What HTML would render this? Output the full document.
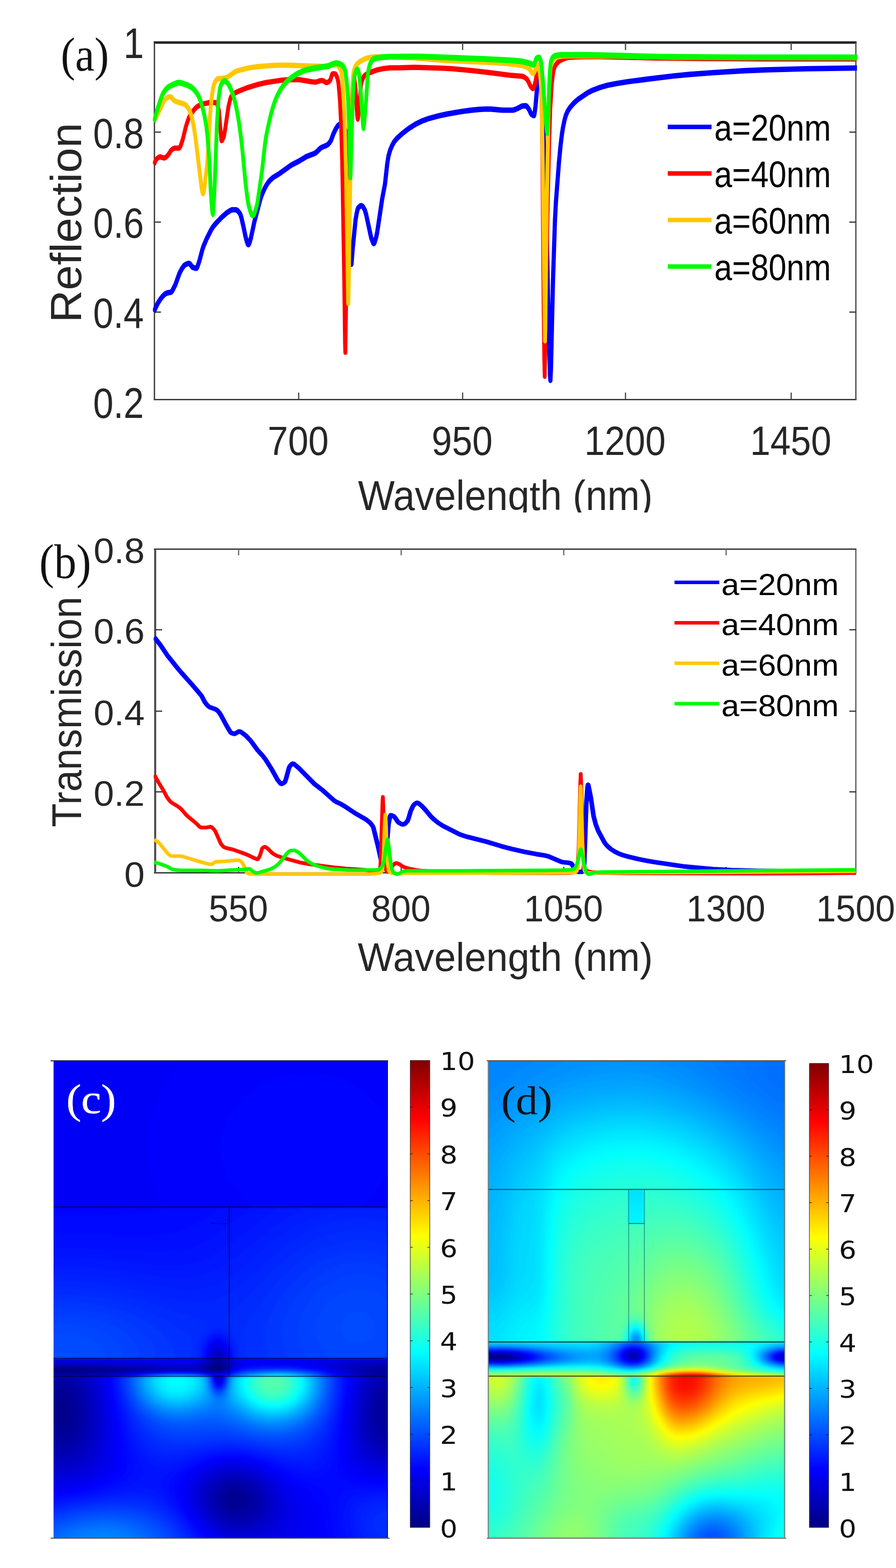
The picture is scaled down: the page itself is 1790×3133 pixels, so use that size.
<!DOCTYPE html>
<html lang="en"><head><meta charset="utf-8"><title>Figure</title>
<style>
html,body{margin:0;padding:0;background:#fff;}
body{width:1790px;height:3133px;overflow:hidden;position:relative;}
svg{position:absolute;left:0;top:0;display:block;}
text{font-kerning:normal;}
</style></head><body>
<svg width="1790" height="3133" viewBox="0 0 1790 3133">
<defs><filter id="hb" x="-5%" y="-5%" width="110%" height="110%" color-interpolation-filters="sRGB"><feGaussianBlur stdDeviation="2"/></filter></defs>
<rect x="0" y="0" width="1790" height="3133" fill="#ffffff"/>
<clipPath id="hcc"><rect x="107.0" y="2119.5" width="668.0" height="954.0"/></clipPath><g clip-path="url(#hcc)"><g filter="url(#hb)" fill-rule="evenodd"><rect x="99.0" y="2111.5" width="684.0" height="970.0" fill="#000082"/><path fill="#000087" d="M99 2112h684v970h-684v-341l66-1l23-2l-22-2l-67-1v-623zM429 2729l-8 5l-1 2l4 2h5h8l5-2l1-2l-1-2l-3-3l-4-1l-6 1z"/><path fill="#00008c" d="M99 2112h684v970h-684v-340l68-1l27-1l14-2l-15-2l-16-1l-78-1v-622zM431 2727l-9 5l-3 2l-1 2l3 2l8 1h6l6-2l3-1l1-2l-1-2l-1-3l-2-1l-4-2l-6 1z"/><path fill="#000091" d="M99 2112h684v970h-684v-339l77-1l35-2l14-2l-11-2l-31-2l-84-1v-621zM431 2725l-12 7l-2 2l-1 2l2 2l10 2h7l8-2l2-3l1-1l-1-5l-2-2l-2-2l-4-1l-6 1zM113 2799l-4 3l-5 6l-2 8v8l1 8l4 6l6 4l6 1l6-2l5-5l3-8v-10l-2-10l-5-6l-3-3l-4-1l-6 1z"/><path fill="#000096" d="M99 2112h684v970h-684v-235l6 6l8 4l8 1l6-2l6-5l6-9l4-10v-10l-1-10l-3-11l-6-9l-6-6l-6-2h-8l-4 1l-4 3l-6 6v-51h46l46-1l35-2l13-3l-7-1l-40-2l-93-2v-620zM435 2721l-4 2l-14 9l-3 2l-1 2l3 2l8 2h5h10l6-2l2-2l1-2v-2l-1-3l-2-3l-4-4l-2-1h-4zM467 2985l-5 3l-3 4l-1 4l1 6l4 4l6 3h6l6-2l4-3l1-4v-4l-2-4l-3-4l-4-2l-4-1h-6z"/><path fill="#00009c" d="M99 2112h684v689l-3-1l-3-1l-4 2l-2 2l-4 9l-2 6v6v6l2 6l4 6l2 2l4 1h2l4-1v238h-684v-222l8 6l8 2h6l4-1l8-4l4-3l4-4l5-10l4-12l1-12l-2-14l-4-12l-6-10l-6-7l-8-5l-4-1h-6l-8 2l-8 5v-36h48l44-2l47-2l14-2l-4-2l-33-2l-60-2h-56v-620zM433 2719l-11 9l-10 6l-1 2l3 2l5 1l10 2l10-1l7-2l2-2l2-4l-3-7l-3-3l-3-3l-4-1l-4 1zM467 2977l-6 2l-4 2l-3 3l-3 3l-2 5v4v4l2 4l2 4l4 3l8 5l6 1h4l8-1l7-4l4-6l1-6v-4l-1-4l-4-6l-7-6l-8-2l-8-1z"/><path fill="#0000a1" d="M99 2112h684v623h-20l-9 3l-2 2l2 2l7 2l12 1h10v39h-6l-4 1l-4 3l-4 4l-4 8l-2 6l-2 9l-1 9l1 8l1 8l3 6l3 6l4 4l5 2l4 1l6-1v224h-684v-211l10 5l10 1l10-2l9-5l8-8l5-10l4-14l1-14v-12l-3-13l-4-11l-6-10l-4-4l-6-5l-4-2l-6-3h-6h-6l-6 2l-6 4v-25h48l44-2l32-1l25-2l16-2v-2l-29-2l-68-3h-68v-619zM437 2715l-6 2l-8 9l-13 8l-1 2l2 2l7 2l11 1h10l4-1l5-2l2-2l1-4l-2-7l-2-4l-4-3l-2-2l-4-1zM461 2973l-6 2l-4 3l-4 4l-3 6l-1 4l-1 6l2 6l3 5l4 5l5 4l5 2l6 2l6 1h6l6-2l6-2l4-3l3-4l4-8v-4l-1-6l-3-8l-7-7l-5-3l-5-2l-10-2l-10 1z"/><path fill="#0000a6" d="M99 2112h684v620h-16l-14 2l-8 2l-4 2l-1 2l2 2l5 2l8 2l14 1l14 1v24h-6l-6 2l-6 4l-4 6l-4 8l-4 11l-2 11l-1 12l1 10l2 9l3 9l4 6l5 4l6 4l6 1l6-1v214h-684v-202l10 4l6 1h6l6-1l6-2l10-6l8-10l6-12l3-14l2-16l-2-16l-3-14l-5-12l-7-12l-4-4l-6-5l-6-3l-6-2l-6-1l-6 1l-6 1l-6 3v-14l56-1l50-2l53-3l18-2l2-2l-24-2l-51-2l-104-2v-618zM431 2715l-1 1l-3 2l-7 8l-12 8l-2 2l3 2l7 2l14 2l11-1l8-3l3-4v-4l-2-6l-3-6l-3-2l-13-1zM467 2967l-8 2l-6 2l-6 4l-5 5l-3 6l-2 6v6l1 6l3 6l5 6l7 5l6 4l8 2l8 1h8l6-2l5-2l5-4l6-8l2-6l1-4l-1-6l-1-6l-3-6l-4-4l-8-7l-6-3l-6-2l-12-1z"/><path fill="#0000ab" d="M99 2112h684v618h-18l-16 2l-10 2l-5 2l-3 2v2l2 2l4 2l8 2l18 3l20 1v11h-8l-8 4l-6 6l-6 10l-4 9l-3 12l-2 12l-1 12l1 12l2 10l4 10l4 8l6 6l7 3l6 2l8-1v206h-684v-194l6 2l6 2l8 1l6-1l6-2l6-2l10-8l8-10l6-12l4-16l2-18l-2-18l-4-16l-6-15l-8-12l-6-6l-8-5l-22-1l-12 1v-6h56l52-2l60-4l20-2l6-2l-21-2l-53-3l-62-1h-58v-618zM427 2715l-8 11l-6 3l-8 5l-2 2l3 2l8 2l11 1l8 1h6l6-2l5-2l2-2l2-4v-4l-3-8l-3-4l-11-1h-10zM465 2963l-8 2l-8 3l-6 4l-5 6l-4 6l-2 8v8l2 6l5 8l5 6l7 5l8 4l8 3l10 1l8-1l8-2l6-4l5-4l4-4l3-6l2-6v-6l-1-6l-2-6l-3-6l-3-4l-5-5l-6-4l-6-2l-8-3l-6-1h-8z"/><path fill="#0000b0" d="M99 2112h684v617h-22l-20 2l-13 3l-4 2l-1 2l1 2l2 2l7 3l8 2l12 3l24 2l-8 2l-6 4l-6 7l-6 11l-4 12l-4 14l-2 14v14l1 12l2 12l4 10l5 7l6 6l8 5l8 2l8-1v199h-684v-186l12 3l8 1l6-1l12-4l6-3l6-5l5-5l4-6l7-14l4-16l2-20l-1-20l-5-20l-7-16l-5-8l-4-6l-4-4l-20-1h-26v-4h56l48-2l72-5l23-2l10-2l-18-2l-61-3l-72-2h-58v-617zM425 2715l-1 1l-7 10l-6 3l-9 5l-2 2l4 2l7 2l12 2h10h6l6-1l6-3l3-2l1-4v-4l-2-8l-3-4l-13-1h-12zM457 2961l-8 3l-8 4l-6 6l-5 8l-2 8v8l2 8l4 8l6 8l7 5l8 5l10 4l10 1h8l10-3l8-4l6-4l4-4l4-7l2-7l1-6l-1-8l-2-6l-3-6l-5-6l-4-5l-6-4l-8-4l-8-2l-8-1h-8l-8 1zM782 2752h1h-1z"/><path fill="#0000b5" d="M99 2112h684v615h-26l-22 3l-10 2l-6 2l-2 2l-1 2l1 2l3 2l13 5l9 3l18 2l-5 6l-6 10l-4 10l-3 10l-3 12l-2 12v12v12l1 12l3 12l5 10l5 7l6 6l8 5l8 2h10v192h-684v-179l6 2l8 1h8h6l8-3l6-2l6-4l6-5l5-6l5-7l7-15l4-18l1-20l-1-22l-5-20l-7-18l-9-14l-18-2h-36v-2h46l48-2l117-8l15-2l-16-2l-68-3l-78-2l-64-1v-616zM423 2715l-1 1l-5 8l-5 4l-13 6l-3 2l4 2l19 3l16 2l8-1l6-2l4-2l3-4l1-4l-1-4l-1-6l-2-4l-16-1h-14zM457 2957l-10 4l-9 5l-6 6l-6 8l-2 8l-1 8l2 9l4 9l6 8l8 7l10 6l10 4l10 2h10l10-2l10-4l7-5l5-6l4-6l3-6l1-8l-1-8l-2-8l-3-6l-4-6l-6-6l-8-6l-8-4l-8-2l-8-2h-10l-8 1z"/><path fill="#0000ba" d="M99 2112h684v613l-26 1l-24 2l-18 4l-4 2l-1 2v2l1 2l3 2l8 4l12 4l18 2l-5 8l-5 12l-4 14l-3 14l-2 14v14v14l2 12l3 10l4 10l5 7l6 6l6 4l8 4l8 1h8v186h-684v-172l8 2l8 1h8l8-2l8-2l6-3l6-5l6-5l6-6l3-6l4-8l3-8l5-18l2-22l-2-22l-4-20l-6-18l-8-16l-15-2l-46-1h48l44-2l155-11l-16-2l-81-4l-80-2l-70-1v-615zM421 2715l-2 1l-4 8l-5 4l-5 2l-11 4l-4 2l7 2l20 4l18 1l8-1l6-2l5-2l3-4l1-4v-4l-1-6l-2-4l-20-2l-14 1zM461 2953l-10 2l-10 5l-9 6l-7 8l-4 8l-2 10l1 10l4 10l6 10l8 8l9 6l12 6l10 2l12 1l12-1l10-4l7-4l7-6l4-6l4-8l2-8v-8l-1-8l-3-8l-5-8l-6-6l-7-6l-7-4l-9-4l-10-2l-10-1h-8z"/><path fill="#0000bf" d="M99 2112h684v612h-32l-26 3l-12 2l-6 2l-3 3l-1 2l1 2l4 4l13 6l6 2l19 2l-5 10l-4 14l-4 15l-2 15l-2 14v14l1 14l2 12l3 10l4 8l5 8l7 6l6 4l8 4l8 2l10-1v181h-684v-166l14 3l14-1l14-4l12-7l10-9l8-12l6-14l4-16l2-16v-16l-1-18l-3-16l-5-20l-7-16l-2-3l-7-1l45-3l84-7l82-4h16l38 7h14l10-1l8-4l4-4l1-6l-1-6l-2-6l-22-2l-18 2l-4 8l-6 4l-12 4l-18 3l-69-3l-91-4l-66-1h-52v-615zM435 2751l2 3l2-1l1-1l-5-1zM453 2951l-12 5l-10 6l-8 8l-5 8l-3 10v10l3 10l5 10l8 10l10 8l12 7l12 4l12 2h12l12-3l10-6l8-6l5-6l5-8l2-8l1-8l-1-10l-2-8l-5-8l-6-8l-7-6l-8-5l-10-5l-10-3l-10-1h-10l-10 1z"/><path fill="#0000c4" d="M99 2112h684v610l-34 1l-28 3l-18 4l-4 2l-2 2v2l1 2l5 4l16 7l3 1l18 2l-5 14l-3 14l-3 16l-2 16l-1 16v14l1 12l3 12l3 9l4 9l6 7l6 7l8 4l8 3l8 2h10v175h-684v-159l14 2h8l8-1l14-4l12-6l10-10l8-11l7-13l4-16l2-12l1-14v-14l-1-16l-2-16l-3-14l-5-14l-5-12l6-2l86-8l76-4h48l38 5l12 1l12-2l7-4l4-4l1-6v-6l-2-6l-24-2l-20 2l-4 8l-5 4l-11 3l-14 2l-200-6l-82-1v-614zM435 2751l-1 1l1 2l2 2l2-1l2-3l-6-1zM459 2947l-12 3l-13 6l-9 6l-8 10l-4 10l-2 10l1 10l5 12l6 10l10 10l12 9l12 6l12 3l14 1l14-2l12-4l8-5l7-6l6-8l4-8l2-8l1-10l-2-10l-3-8l-5-8l-6-8l-8-7l-10-6l-10-4l-12-3l-12-1h-10z"/><path fill="#0000c9" d="M99 2112h684v609h-34l-32 3l-12 2l-8 3l-6 3l-1 2l1 1l4 5l18 8l3 2l19 2l-4 16l-5 20l-2 20l-2 20l1 16l1 16l3 12l5 12l4 6l5 6l6 6l6 4l6 3l8 2l8 1h8v170h-684v-153l14 2l16-1l14-4l8-3l6-4l10-9l9-10l6-14l5-17l3-13l1-14v-14l-1-16l-2-16l-3-16l-4-16l-5-12l7-2l86-8l72-4h46l40 6h12l11-2l8-4l2-2l2-4l1-6l-2-10l-26-2l-22 2l-4 8l-6 4l-10 2l-12 2l-34-1l-182-6h-66v-613zM435 2705l-2 1l-1 4l1 2l2 1l2-1l1-2l-1-4l-2-1zM433 2751l2 5l2 1h2l1-1l2-4l-9-1zM453 2945l-14 4l-11 7l-9 8l-7 10l-4 10l-1 12l3 12l6 12l9 12l12 10l12 7l14 6l14 2h14l14-3l12-6l8-6l7-8l5-8l3-10l2-10l-1-10l-3-10l-5-8l-5-8l-9-8l-10-8l-10-4l-10-4l-12-2h-12l-12 1z"/><path fill="#0000cf" d="M99 2112h684v607l-38 1l-34 3l-12 2l-9 3l-4 2l-2 2v2l1 2l6 4l21 10l19 2l-5 20l-4 22l-2 20l-1 20v16l3 16l3 12l5 12l4 6l5 6l6 5l6 3l8 4l8 2l8 1h8v165h-684v-147l16 2l16-1l14-4l14-7l11-9l9-12l7-12l5-16l2-14l2-14v-16l-1-16l-1-16l-3-18l-4-16l-5-14l92-9l34-3l36-1h42l16 1l26 4h12l12-2l8-4l2-2l3-4l1-6v-4l-2-6l-22-2v-4v-5l-2-3l-2-2h-2h-2l-2 2l-2 4v4l1 4l-19 2l-3 6l-4 4l-7 3l-12 1h-46l-170-6l-70-1v-611zM433 2751l-1 1l1 4l2 2l2 1l2-1l2-2l1-4l-9-1zM457 2941l-14 4l-14 6l-12 9l-8 10l-4 10l-2 12l2 12l5 12l9 13l12 12l14 10l14 6l14 4h16l14-2l14-5l9-6l8-8l6-8l4-10l2-10v-10l-2-10l-4-10l-6-10l-7-8l-10-8l-11-6l-11-5l-12-3l-14-1h-12z"/><path fill="#0000d4" d="M99 2112h684v606h-40l-34 3l-22 5l-8 3l-2 3l1 2l5 4l24 12l20 2l-5 20l-3 24l-3 22l-1 20l1 16l3 16l3 12l5 11l4 7l6 6l6 5l7 5l7 3l8 2l8 1h10v160h-684v-141l16 2l16-2l16-4l14-7l11-8l9-11l7-11l5-16l3-14l2-14l1-16v-18l-2-18l-3-18l-4-18l-4-16l27-2l33-4l29-3l56-3l52-1l16 1l28 5h12l12-3l9-4l5-6l2-4v-4l-2-8l-22-2l1-6l-2-6l-3-4l-4-1l-4 1l-3 4l-1 6v6l-18 2l-3 6l-4 4l-7 2l-10 1l-16 1l-38-1l-170-6l-62-1v-610zM433 2751l-2 1l3 6l1 1l2 1l2-1l2-1l2-6l-10-1zM451 2939l-16 5l-13 8l-11 9l-7 11l-3 6l-1 6v12l3 12l6 14l11 14l13 11l14 9l16 7l16 3l16-1l14-3l8-3l7-3l9-8l8-8l6-10l3-10l2-11l-1-11l-3-10l-5-10l-7-10l-9-9l-11-7l-13-7l-12-4l-14-3h-14l-12 1z"/><path fill="#0000d9" d="M99 2112h684v604h-40l-36 3l-26 5l-8 3l-3 3v2l4 4l29 14l20 2l-4 22l-4 26l-2 22l-1 20l1 16l2 16l4 12l5 12l4 6l5 6l6 4l8 6l8 3l10 3l8 1h10v155h-684v-135l18 1l16-2l16-4l14-7l11-7l10-10l7-13l6-15l3-14l2-14l1-16v-18l-2-18l-2-18l-4-21l-5-19l30-2l30-4l29-3l56-3h54l12 1l26 4h12l12-2l10-5l6-6l1-4l1-4l-2-8l-22-2v-8l-2-6l-4-5l-4-1l-4 1l-4 5l-2 6v8l-19 2l-3 6l-4 3l-7 3h-7l-18 1l-46-1l-162-7l-60-1v-608zM431 2751l2 7l2 2l2 1h2l2-2l2-3l1-4l-7-1h-6zM459 2935l-16 3l-16 6l-8 5l-6 5l-9 10l-4 6l-2 6l-3 12l1 6l1 8l5 14l5 8l6 8l12 13l8 6l8 6l16 8l16 4l16 2l16-2l8-2l8-4l10-6l9-7l8-10l5-10l3-10l1-12l-2-12l-4-12l-7-12l-9-10l-10-9l-12-7l-12-5l-14-4l-14-2h-14z"/><path fill="#0000de" d="M99 2112h684v603l-58 1l-24 2l-18 2l-13 4l-5 2l-3 2v2l1 2l6 4l31 14l19 2l-7 48l-3 36v16l1 14l2 12l4 12l4 10l5 8l7 8l9 6l10 5l10 3l10 1h12v151h-684v-129h18l18-2l18-5l14-6l12-8l9-10l7-12l6-14l3-14l2-14l1-18l-1-18l-1-18l-2-18l-4-23l-5-21l32-2l29-4l28-3l54-3h52l16 2l22 3l12 1l12-3l11-5l7-6l1-4l1-4l-1-8l-23-2v-8l-2-7l-4-5l-2-1l-4-1l-4 1l-2 1l-4 5l-2 7v8l-20 2l-2 5l-3 3l-5 2l-10 2h-26l-58-2l-134-7l-66-1v-606zM431 2751l-1 1l1 4l2 3l2 2l2 1h2l2-2l2-3l1-5l-5-1h-8zM451 2933l-9 3l-9 2l-14 8l-6 4l-7 6l-5 6l-4 6l-3 6l-2 6l-1 6l1 8l3 14l7 14l5 8l6 8l8 7l8 7l16 11l8 4l10 4l8 2l10 2l10 1l8-1l16-3l8-3l8-4l10-7l9-10l7-10l4-12l2-12l-1-12l-3-13l-6-11l-7-10l-11-11l-13-9l-13-7l-14-5l-14-3l-16-1l-14 1z"/><path fill="#0000e3" d="M99 2112h684v603l-85 1l-21 2l-14 3l-8 4l-1 1l-1 1l1 3l6 4l36 16l19 2l-6 46l-3 32v28l2 22l4 14l6 12l7 9l8 8l10 6l12 4l14 3h14v146h-684v-124h20l18-2l16-4l16-7l12-8l10-9l8-12l6-14l2-12l3-16l1-18l-1-18l-3-36l-8-50l32-2l26-4l28-3l54-2h48l16 1l26 4h12l12-3l11-5l5-4l3-4l1-4l1-4l-1-6l-25-2l1-8l-3-8l-3-4l-2-3l-6-2l-6 3l-5 6l-2 8v8l-22 2l-3 5l-3 3l-6 2h-5h-14h-35l-161-9l-74-1v-604zM431 2751l-1 1v2l3 7l2 1l2 1h2l2-2l2-3l2-6l-6-1h-8zM461 2929l-18 3l-10 3l-8 3l-8 4l-8 6l-7 6l-5 6l-4 6l-3 6l-2 6l-1 8v6l2 8l5 14l4 8l6 9l7 9l8 8l8 7l10 8l18 10l18 6l10 1l10 1h10l8-1l10-3l8-3l12-7l11-9l7-10l6-12l4-12v-12l-2-14l-4-13l-7-11l-10-12l-12-10l-12-8l-15-7l-16-5l-16-2l-14-1z"/><path fill="#0000e8" d="M99 2112h684v603l-109 1l-23 4l-8 4l-1 2l1 2l6 4l28 10l16 8l19 2l-7 54l-2 30v28l2 22l4 14l6 11l7 9l9 8l10 5l12 5l14 2l16 1v141h-252l12-7l12-9l9-10l7-12l4-12l2-14l-2-14l-4-14l-8-14l-9-12l-11-10l-14-10l-14-7l-16-6l-16-3l-16-2l-16 2l-14 3l-14 5l-14 8l-12 9l-8 11l-4 10l-2 12l1 12l5 14l7 14l11 14l14 14l14 12l14 8l16 8h-366v-119h20l20-3l18-5l16-6l12-8l11-9l7-11l6-13l3-12l2-16l1-18v-18l-4-37l-8-55l33-2l25-4l28-3l52-2h48l14 1l26 4h12l8-1l6-2l7-3l6-4l4-4l3-4l2-4v-4l-1-4l-26-2v-10l-3-8l-3-4l-3-3l-6-2l-6 2l-3 3l-3 4l-3 8v10l-24 2l-2 4l-2 2l-4 2l-7 1h-14l-38-1l-116-8l-114-1v-603zM431 2751l-2 1v2l2 5l2 3l2 2h2h2l2-2l3-4l1-6l-6-2l-8 1z"/><path fill="#0000ed" d="M99 2112h684v603l-136 1l-14 4l-4 2l-1 2l1 2l8 4l32 11l20 9l20 2l-8 64l-2 26v28l3 22l4 14l5 10l8 9l8 7l11 6l13 4l16 3l16 1v136h-229l11-10l8-10l7-12l4-12l1-13v-13l-4-14l-5-12l-8-12l-10-12l-13-12l-14-9l-16-7l-16-6l-16-3l-16-1l-16 1l-16 3l-15 6l-13 6l-12 10l-8 10l-6 10l-3 12l1 12l3 12l7 14l9 14l11 14l14 13l14 11l16 10h-354v-114h20l20-3l20-5l17-6l13-8l10-8l8-10l3-6l4-8l3-12l1-14l1-18v-20l-3-36l-10-62l34-2l21-4l26-2l56-3l48 1l14 1l24 4h12l6-1l8-3l8-3l6-4l9-8l2-4l1-4v-4l-29-2l-1-10l-1-6l-2-4l-3-4l-3-2l-3-2l-4-1l-4 1l-3 2l-3 2l-3 4l-1 4l-2 6v10l-28 2l-3 4l-3 1l-8 1l-12 1l-23-1l-68-6l-175-1v-603zM429 2751l1 7l3 5l4 2l4-2l4-5l1-6l-3-1l-6-1l-8 1z"/><path fill="#0000f2" d="M99 2112h684v603l-170 1l-5 2l-2 2l1 2l8 4l44 12l16 6l11 6l19 2l-8 74l-2 24v26l3 22l5 14l5 10l7 8l10 7l12 6l14 4l16 2l16 1v132h-204l7-10l5-12l4-14l1-14l-1-14l-3-14l-5-12l-7-12l-9-12l-13-12l-13-10l-16-10l-16-7l-16-4l-16-3l-16-1l-16 1l-16 3l-14 5l-14 8l-11 8l-10 10l-7 10l-2 6l-1 6v12l2 12l5 12l9 14l10 14l13 14l14 13l16 12l-344 1v-109l22-1l20-3l20-5l18-6l15-8l11-8l8-10l6-12l3-12l1-14l1-18l-1-20l-3-34l-10-70l34-2l19-4l26-2l26-2l30-1l46 1l14 1l24 4h12l6-1l8-2l9-4l7-4l13-10l2-4l2-4l-1-2l-34-2v-6l-1-6l-3-9l-2-3l-4-4l-4-2l-4-1l-6 2l-6 5l-3 6l-2 6l-1 6v6h-6l-32 2l-4 1l-6 1l-25-2l-245-1v-603zM429 2751l-1 1l1 6l4 6l4 2l4-2l3-4l2-8l-7-2l-10 1z"/><path fill="#0000f7" d="M99 2112h684v603h-280h-26l-20-1h-3l1-6l-1-6l-2-6l-3-6l-6-6l-4-2l-4-1l-4 1l-4 2l-6 6l-3 6l-2 6v6v6h-5l-36 1h-276v-603zM516 2718l9-1l22 2l30 3l26 4l22 5l24 6l20 6l14 7l19 2l-2 28l-7 54l-2 22v28l2 12l2 10l4 12l5 10l7 8l10 6l12 6l14 3l16 3l20 1v127h-172l1-39l-2-13l-2-12l-4-12l-4-10l-8-12l-8-10l-12-12l-12-10l-14-11l-17-8l-16-7l-16-4l-16-3l-16-1l-18 1l-16 4l-16 5l-14 8l-12 8l-10 10l-7 10l-2 6l-1 6l-1 10l3 12l4 12l8 14l10 14l13 16l15 15l14 13h-336v-104l24-2l22-3l21-5l19-7l14-7l12-9l8-9l4-6l2-6l3-10l1-14v-16l-1-20l-3-34l-9-54l-2-24l34-2l19-4l24-2l50-2h50l16 2l22 3l12 1l10-3l10-3l26-15l10-5l10-3l9-1zM429 2751l-1 1v4l4 8l3 2l2 1l4-2l4-5l2-8l-2-1l-6-1l-10 1z"/><path fill="#0000fc" d="M369 2114l2-2h412v603h-280h-26l-20-1h-1v-8l-1-6l-4-10l-4-6l-4-2l-4-2l-4-1l-4 1l-4 1l-4 3l-3 4l-3 6l-2 6l-1 6v8h-3l-36 1h-276v-303h225l-10-18l-8-20l-6-18l-4-20l-3-18l-1-20v-20l2-20l4-20l5-18l8-20l8-18l10-18l12-18l13-16l15-16zM505 2726l18-2l28 1l28 1l22 2l24 4l20 5l20 6l15 7l19 2l-2 28l-8 58l-2 26v28l1 12l2 10l4 12l5 8l8 8l9 6l13 5l14 3l18 3l22 1v122h-144l-4-16l-8-38l-6-18l-5-10l-7-10l-6-8l-10-10l-14-12l-16-12l-17-10l-16-8l-17-7l-16-4l-16-3l-16-1l-18 1l-16 3l-16 5l-15 8l-13 8l-12 10l-4 6l-4 6l-4 10l-1 10l2 12l5 12l7 14l11 16l12 15l14 15l15 16h-329v-99l26-3l24-4l22-5l20-7l14-7l12-8l10-9l5-10l3-10l1-10v-12l-2-18l-4-40l-10-62l-3-26l34-2l18-3l24-3l50-2h48l16 2l24 4h10l8-2l9-2l31-15l8-2l8-1zM429 2751l-2 1l1 2l1 5l2 5l4 3h4l2-1l4-5l2-9l-2-2h-4l-12 1z"/><path fill="#0003ff" d="M586 2146l15-2h16l16 1l16 2l16 4l14 4l14 6l12 6l12 7l13 10l11 9l10 11l8 10l8 12l6 12l5 12l5 19v47l-3 12l-4 12l-4 10l-6 10l-6 10l-8 10l-7 8l-10 9l-10 8l-10 7h68v303h-282h-24l-19-1v-8l-1-6l-2-6l-3-6l-3-4l-4-4l-4-2l-6-1l-6 1l-4 2l-4 4l-3 4l-3 6l-1 6l-1 6v8l-14 1h-22h-278v-302l410-1l-19-14l-17-17l-7-9l-7-10l-6-10l-4-10l-7-20l-2-10l-1-12v-12l1-10l2-12l2-10l8-20l5-10l7-10l7-10l8-8l18-16l20-14l22-10l24-8l23-4zM512 2728l21-1h24l26 1l22 3l24 3l18 4l18 6l13 6l18 2l-2 32l-9 62l-3 30v30l1 10l2 10l4 10l6 8l7 6l9 4l12 4l16 3l20 2l24 2v117h-124l-7-20l-8-39l-5-14l-3-7l-5-8l-5-6l-6-6l-18-14l-24-16l-20-12l-21-11l-18-7l-18-6l-18-3l-18-1l-18 1l-18 3l-18 6l-16 8l-16 10l-11 10l-8 10l-3 10l-1 10l2 10l4 12l6 12l10 16l12 16l13 15l19 21h-323v-95l28-3l24-4l24-6l21-6l18-8l13-8l8-8l5-10l2-8l1-8l-1-22l-8-56l-11-61l-3-27l34-2l17-3l24-3l52-2l46 1l14 1l24 4l10 1l8-2l8-3l22-10l10-3l10-2l13-1zM427 2751v5l2 5l4 6l2 1h4l4-3l3-5l2-8l-3-2h-6h-8l-4 1z"/><path fill="#0008ff" d="M322 2414l231-2h230v303h-280h-26l-18-1v-6l-1-8l-2-8l-3-6l-4-5l-4-3l-4-2l-6-1l-6 1l-4 2l-4 3l-4 5l-3 6l-2 8l-1 6v8h-14l-22 1h-276v-287l44-1l82-1l30-1l18-2l18-2l16-3l15-4zM507 2730l24-2l28 1l28 1l20 2l18 3l20 4l18 5l12 6l18 2l-1 18l-2 18l-10 70l-4 34l-1 30v12l2 8l3 8l5 5l6 3l9 4l13 2l18 3l52 3v112h-109l-6-16l-4-16l-9-55l-4-10l-6-8l-10-6l-34-15l-49-24l-21-10l-18-6l-16-4l-18-2l-16-1l-18 1l-18 3l-18 6l-16 7l-17 10l-13 10l-9 10l-5 10l-1 8l1 10l4 12l7 12l10 16l11 16l34 42h-316v-90l30-4l28-5l26-6l23-7l17-8l12-6l10-8l3-4l3-6l1-6l1-6l-1-14l-14-72l-11-54l-2-18l-2-16l34-2l16-3l24-3l52-2l44 1l14 2l24 4h10l14-3l32-13l10-2l10-1zM427 2751l-1 1l1 6l4 8l4 3h4l2-1l3-2l2-4l2-10l-3-2h-4h-10l-4 1z"/><path fill="#000dff" d="M438 2414l151-2h194v303h-280l-42-1l-1-14l-2-8l-3-6l-4-6l-5-4l-5-3l-6-1l-6 1l-5 3l-5 4l-4 6l-3 6l-2 8l-1 14l-34 1h-276v-248l60-1l118 3l28-1l24-2l14-3l14-4l14-5l12-5l12-6l14-9l29-20zM500 2732l21-2h30h26l24 2l18 3l20 3l19 6l14 6l18 2l-1 22l-3 24l-19 111l-3 13l-3 10l-4 8l-4 5l-6 4l-10 2l-12 1l-14-3l-22-7l-42-17l-20-8l-20-5l-18-4l-16-2h-16l-16 1l-16 3l-16 5l-16 6l-17 9l-13 8l-11 8l-8 8l-4 6l-2 8v6l2 8l5 9l7 13l20 30l37 48h-310v-86l34-5l30-5l28-7l26-7l18-7l15-7l7-6l4-4l2-4l2-8l-1-12l-13-48l-19-80l-4-24l-2-20l34-2l27-4l34-3h44l32 1l36 6h-6l-1 2v4l2 6l3 5l2 2l4 1l4-1l2-2l3-5l2-6l1-4l-2-2h-6l14-4l28-11l8-2l9-1zM700 2976l13-2h16l54 2v106h-96l-7-18l-4-20l-2-20l1-18l1-8l2-6l5-8l4-4l4-2l9-2z"/><path fill="#0012ff" d="M501 2414l124-1h158v301l-278 1l-42-1v-8l-2-8l-2-8l-3-6l-4-6l-5-5l-6-3l-6-1l-6 1l-4 2l-6 5l-4 5l-4 8l-2 8l-1 8v8l-33 1h-276v-222l34-1l38 1l106 6l28 2l30-1l26-4l16-3l15-5l15-7l14-8l28-19l52-40zM514 2732l23-1h26l26 1l20 2l18 3l18 4l14 4l11 5l17 2v21l-3 27l-6 28l-11 50l-5 20l-5 14l-6 11l-6 7l-8 5l-8 3l-12 1l-12-1l-10-1l-12-4l-50-17l-26-8l-14-3l-14-2h-14h-12l-14 1l-12 2l-14 4l-14 4l-31 14l-20 10l-13 8l-8 6l-5 6v6v4l3 6l7 12l10 14l61 82h-304v-82l40-6l30-6l30-6l32-8l20-6l16-6l11-6l3-3l2-3l1-6l-1-6l-16-36l-7-16l-6-20l-14-52l-8-34l-2-14l-1-15l34-1l24-4l32-2l44-1l34 1l12 2l20 4h-2l-2 2l3 10l3 6l2 2l4 1l4-1l2-2l4-7l2-9l-2-2h-2l10-3l20-8l12-4l12-2l15-1zM729 2982l24-2l30 1v101h-85l-7-18l-4-18l-1-10v-10l1-8l2-8l2-6l4-6l3-4l5-4l10-5l16-3z"/><path fill="#0017ff" d="M554 2414l229-1v301h-276h-42l-1-10l-1-8l-2-8l-4-7l-4-6l-6-5l-6-3l-6-1l-6 1l-6 3l-6 5l-4 6l-3 7l-3 8l-1 8v10h-33l-274 1v-202l40-1l42 2l38 3l78 8l30 2l30-1l14-1l12-2l14-4l16-5l14-7l14-9l24-17l60-47l29-20zM501 2734l22-2h30h26l24 2l32 5l18 5l14 6l18 2l-1 22l-3 24l-5 28l-9 33l-7 23l-6 16l-7 12l-8 9l-8 5l-10 4l-12 2l-12-1l-22-4l-46-14l-24-6l-22-4l-22-2l-22 2l-24 4l-24 7l-46 17l-10 3l-10 2h-10l-10-3l-8-5l-10-10l-8-10l-8-14l-7-14l-7-21l-14-44l-6-21l-4-20l-1-20l34-2l23-4l32-2l46-1l32 1l27 6l-1 2l1 6l2 6l4 6l3 2h2l4-1l2-2l4-5l2-6l1-6l-1-2h-2l36-13l18-3zM278 2972h15l10 2l10 6l10 8l16 17l20 24l24 31l14 22h-298v-78l64-11l92-18l23-3zM742 2988l21-2l20 2v94h-73l-5-10l-5-16l-3-16l1-16l4-12l3-6l4-4l7-6l11-5l15-3z"/><path fill="#001cff" d="M609 2414l174-1v301h-268h-48v-10l-1-8l-4-10l-4-8l-5-7l-6-5l-6-2l-6-1l-6 1l-6 2l-6 5l-5 7l-4 8l-3 8l-1 10l-1 10h-32h-272v-183l44-1l48 2l42 5l82 12l30 2l16 1l14-1l14-1l11-2l13-4l12-5l13-5l13-8l24-17l52-43l26-20l28-18l28-14zM511 2734l22-2h26l44 3l16 2l18 3l16 4l12 6l17 2v22l-3 22l-6 26l-8 30l-8 23l-8 17l-8 12l-10 9l-8 4l-10 3l-12 2l-12-1l-20-3l-48-13l-22-5l-24-3l-22-1l-16 1l-18 3l-20 5l-48 14l-12 3h-12l-12-2l-12-5l-6-4l-6-6l-10-12l-8-13l-8-17l-10-25l-10-29l-5-15l-3-14l-2-14v-14l34-2l22-4l32-2l44-1l32 2l12 2l13 3l2 10l3 7l4 5l4 1l4-1l5-6l3-9l1-5v-2l23-9l12-4l12-2l14-1zM259 2982l18-1l16 2l14 5l14 9l16 14l20 22l21 27l14 22h-293v-74l120-21l40-5zM755 2994l14-1l14 1v88l-61-1l-5-7l-4-8l-4-16l-1-8v-8l1-8l2-6l3-6l3-4l4-4l6-4l12-6l16-2z"/><path fill="#0021ff" d="M708 2414h26h11l20 3l18 4v293h-212h-101v-10l-2-10l-3-10l-4-8l-6-8l-6-5l-6-3l-8-2l-6 1l-8 4l-6 5l-4 6l-6 10l-3 10l-1 10v10h-34h-268v-168l24-1l26 1l24 1l26 2l48 7l84 16l30 4h26l12-1l12-2l14-4l12-4l12-7l14-8l24-19l44-38l22-18l24-17l24-14l26-12l26-9l28-7l27-2zM526 2734l41-1l22 1l20 2l16 3l16 3l12 4l10 4l16 2l1 12l-1 14l-2 14l-3 16l-10 34l-5 15l-6 15l-10 17l-6 7l-6 6l-6 4l-8 4l-8 3l-8 1l-14 1l-14-2l-16-3l-58-13l-20-3l-20-2l-18 1l-20 3l-18 3l-38 10l-18 3l-10 1h-8l-14-4l-12-6l-10-9l-10-11l-8-13l-12-24l-13-32l-7-22l-4-20l-1-20l33-2l16-3l24-2l26-1h30l32 1l14 2l10 3l1 2l2 10l3 6l4 4l2 1l4 1l4-3l4-5l4-16l24-10l12-3l16-2l23-1zM234 2990l27-2l20 1l10 2l8 2l8 3l8 5l8 5l10 8l18 18l11 14l11 14l8 12l5 10h-287v-70l86-16l49-6zM755 3002l14-1l14 1v80h-48l-8-10l-5-12l-3-12v-10l2-10l3-8l5-7l8-5l8-4l10-2z"/><path fill="#0026ff" d="M691 2438l24-2h22l24 3l22 6v269h-310v-12l-2-12l-5-12l-4-8l-7-9l-6-5l-8-4h-6l-8 1l-8 4l-6 5l-5 8l-4 8l-4 12l-2 12l-1 12h-298v-153l24-1h24l24 2l26 2l28 4l28 6l88 21l26 5l16 2l14 1l12-1l12-2l12-3l12-5l12-6l14-9l22-18l42-39l21-18l21-17l22-14l22-12l24-10l24-7l22-4zM504 2736l21-2h28h24l24 2l32 5l16 4l11 5l17 2v12l-1 14l-1 14l-3 14l-9 29l-6 16l-6 13l-6 10l-6 9l-6 7l-6 5l-6 4l-8 4l-8 3l-8 2h-14l-16-1l-16-3l-56-11l-18-3l-18-1h-18l-18 2l-54 11l-16 3h-10h-8l-8-2l-8-2l-12-6l-10-8l-10-11l-10-14l-12-22l-12-26l-7-20l-5-20l-1-12v-10l34-2l13-3l24-2l52-1h20l16 1l14 3l10 2l1 2l2 10l3 7l4 4l2 1l4 1l4-3l3-4l3-7l2-10l2-1l28-11l12-2l11-1zM248 2994h23l18 3l16 6l16 8l16 13l18 19l15 21l10 18h-281v-66l40-8l52-9l32-4l25-1zM754 3012l7-2h8l14 2v70h-30l-6-5l-6-5l-4-6l-3-6l-3-8l-1-8l1-8l2-6l3-6l5-6l6-4l7-2z"/><path fill="#002bff" d="M707 2458l18-1l20 2l20 3l18 5v247h-304l-1-16l-4-16l-4-10l-4-8l-15-24l-1-4v-2l2-4l4-4l21-17l12-11l49-50l21-20l19-16l19-15l26-16l14-6l14-6l14-4l14-4l14-2l14-1zM99 2576v-1l22-1l38 1l34 3l34 6l28 6l28 8l80 27l40 12l4 3l2 2v4l-2 6l-7 18l-4 12l-3 14l-1 18h-293v-138zM513 2736l44-2l22 1l22 2l30 4l16 4l11 5l16 2l1 12l-1 14l-1 12l-3 14l-4 14l-5 14l-6 14l-6 12l-6 10l-6 8l-6 7l-6 5l-8 5l-8 4l-8 3l-10 2l-14 1l-18-2l-70-13l-16-2l-16-1h-16l-16 1l-52 10l-16 1h-18l-8-1l-8-3l-12-6l-12-9l-10-10l-12-16l-13-22l-10-20l-7-20l-4-18l-1-10v-10l34-2l17-3l24-2l28-1h28l26 2l22 4l2 2l2 10l4 8l4 4l2 1h4l4-2l4-5l3-8l1-8l2-2l20-8l12-3l12-2l16-1zM220 3000l29-2l24 2l20 4l10 4l8 4l10 6l8 6l9 8l9 9l9 11l8 10l6 10l5 10h-276v-62l28-6l36-7l32-5l25-2zM760 3024l5-2h6l6 1l6 2v43l-2 1l-8 2h-6l-4-1l-4-2l-6-4l-5-8l-2-4l-1-6v-6l2-4l2-5l4-3l7-4z"/><path fill="#0030ff" d="M698 2480l21-2l22 1l22 5l20 6v224h-289l-3-12l-5-24v-12l2-10l7-14l15-22l19-26l19-24l19-20l17-16l19-16l18-12l18-9l20-8l20-6l19-3zM107 2588l26-1l26 1l26 3l26 4l26 6l24 7l26 10l24 10l20 10l21 12l15 10l10 8l4 7l2 9v12l-1 18h-283v-126h8zM524 2736l43-1l40 3l16 2l14 3l10 3l9 4l16 2l1 12l-1 12l-1 12l-3 14l-4 14l-5 13l-6 13l-6 11l-6 10l-6 7l-7 8l-7 6l-8 4l-8 4l-10 3l-10 2h-14l-18-1l-68-12l-30-3h-14l-16 1l-48 7l-18 2l-18-1l-16-5l-14-7l-12-9l-12-13l-12-16l-12-19l-8-17l-6-18l-4-16v-18l34-2l16-3l24-2l30-1l30 1l22 1l20 4l2 1l2 12l4 8l4 4l2 1h4l4-2l4-5l3-7l2-10l1-2l22-8l12-3l16-2l21-1zM219 3004l28-1l24 2l20 4l18 8l10 5l8 6l9 8l9 9l7 9l8 10l5 10l4 8h-270v-58l26-6l34-7l32-5l28-2z"/><path fill="#0036ff" d="M719 2500h16l16 3l16 4l16 6v201h-243l-4-8l-4-8l-4-14l-1-14l3-16l6-18l10-20l12-20l15-20l16-18l16-14l18-14l18-11l18-8l20-6l20-4l20-1zM99 2602l22-2l22 1l24 1l22 3l22 5l21 6l21 6l20 9l18 9l16 10l13 10l13 12l7 10l5 10l2 10l-1 12h-247v-112zM543 2736h36l30 3l26 4l10 3l9 4l16 2v12v12l-2 12l-2 12l-4 14l-5 12l-6 13l-6 10l-6 9l-8 9l-6 6l-8 6l-8 5l-8 3l-10 3l-10 2l-16 1l-18-2l-66-11l-28-3h-14h-14l-46 6l-18 1l-18-1l-16-5l-14-7l-12-8l-14-14l-12-15l-10-16l-9-18l-6-16l-2-16l-1-16l34-2l16-3l26-2l32-1l30 1l18 2l18 3l2 2l1 10l3 8l4 5l2 1l4 1l4-1l2-1l4-5l3-6l2-12l1-1l5-1l17-7l16-4l22-2l30-1zM215 3008l28-1l24 2l22 5l18 7l10 6l8 5l8 7l8 8l13 17l6 10l3 8h-264v-54l26-7l30-6l32-5l28-2z"/><path fill="#003bff" d="M697 2524l22-2h12l10 2l12 2l10 3l10 4l10 5v176h-205l-7-12l-6-14l-2-12l-1-14l2-14l4-14l6-14l9-16l11-16l12-14l13-13l14-11l14-9l16-8l16-5l18-4zM99 2616l16-2h22l20 1l20 3l19 4l19 4l18 6l16 7l16 8l13 9l10 8l10 10l7 10l4 10l2 10v10h-212v-98zM509 2738l20-2h24h22l22 2l30 4l14 4l10 4l16 2l1 12v12l-2 12l-3 12l-3 12l-5 12l-6 12l-6 10l-6 8l-8 9l-6 5l-8 6l-8 5l-8 4l-10 3l-10 1l-16 1l-20-1l-20-3l-50-9l-24-2h-26l-42 4l-16 1l-18-2l-16-3l-14-7l-14-9l-14-13l-12-13l-10-15l-8-15l-6-15l-3-16l-1-18l35-2l15-3l24-2h30h30l20 2l18 4l1 1l3 14l4 7l4 4l2 1h4l4-2l5-6l3-8l2-11l6-1l12-5l12-4l12-2l14-1zM209 3012l28-1l24 2l22 4l10 3l10 4l9 6l9 5l8 7l8 7l7 9l6 8l4 8l3 8h-258v-50l24-7l28-6l30-5l28-2z"/><path fill="#0040ff" d="M700 2548l11-2h12l12 1l10 2l10 4l10 4l9 5l9 6v146h-168l-7-10l-7-12l-4-12l-2-12v-12l1-12l4-14l6-12l8-14l9-12l10-11l12-10l12-8l14-7l14-5l15-3zM101 2630l18-2h16l18 1l16 3l16 3l16 4l14 5l13 6l13 6l11 8l9 8l8 8l5 8l3 8l2 8v10h-180v-84h2zM516 2738l41-2l40 2l28 4l14 4l10 4l16 2l1 10v12l-2 12l-2 12l-4 12l-5 11l-6 12l-6 10l-6 8l-8 8l-8 7l-8 5l-8 5l-10 4l-10 2l-10 2h-18l-20-1l-66-12l-24-3h-22l-42 3l-16 1l-18-2l-16-4l-14-6l-14-9l-12-10l-12-13l-10-14l-9-16l-5-16l-3-14v-16l34-2l15-3l26-2h32l28 1l16 1l18 4l1 1l2 14l4 8l5 4l2 1h4l2-1l4-2l3-6l3-8l2-11l2-1h6l12-5l12-4l14-2l17-1zM201 3016l28-2l26 2l22 4l20 7l10 5l8 5l8 5l8 8l7 8l6 8l4 8l3 8h-252v-46l22-7l26-6l28-5l26-2z"/><path fill="#0045ff" d="M707 2576l10-1l12 1l12 3l10 3l9 6l9 6l7 8l7 9v79l-10 13l-13 11h-97l-10-8l-8-8l-6-8l-5-10l-3-8l-1-8l-1-8l1-8l2-10l3-8l4-8l5-8l6-8l6-6l7-6l9-6l9-5l8-3l8-3l10-1zM103 2646l14-2h14l26 2l24 6l13 4l11 4l10 6l9 6l7 6l6 6l4 6l4 8l2 8v8h-148v-68h4zM525 2738l38-1l36 2l26 4l12 3l10 4l16 2l1 10l-1 12l-1 12l-3 12l-4 12l-4 10l-6 11l-6 9l-6 8l-8 8l-8 6l-8 6l-8 4l-10 4l-10 2l-10 2l-18 1l-22-2l-22-4l-46-9l-22-3h-20l-40 3h-16l-18-2l-16-4l-14-6l-14-8l-12-10l-12-13l-10-13l-7-14l-5-14l-3-14v-16l35-2l16-3l24-1l30-1l28 1l15 2l19 3l2 13l4 9l4 5l2 1l4 1h2l4-2l4-5l4-9l2-12l2-1l7-1l13-6l14-3l16-2l20-1zM193 3020l28-2l26 1l24 4l21 7l9 4l10 5l8 6l7 7l6 6l6 8l4 8l3 8h-246v-42l19-6l24-6l25-5l26-3z"/><path fill="#004aff" d="M711 2620l6-1l6 1l6 2l6 4l5 4l4 6l3 5l1 7v6l-1 6l-2 6l-4 6l-4 4l-6 4l-6 2l-8 2h-8l-6-1l-6-3l-6-3l-4-4l-4-5l-3-6l-1-7v-5l2-6l2-6l5-6l5-5l5-3l7-3l6-1zM103 2666l20-2l20 1l18 3l18 6l13 8l6 4l5 6l3 4l3 6l1 6v6h-111v-48h4zM539 2738h36l30 2l24 4l10 3l6 3l16 2l1 10l-1 12l-1 10l-2 12l-4 12l-5 10l-6 11l-6 9l-6 7l-8 8l-8 6l-8 5l-8 4l-10 4l-10 3l-12 1l-20 1l-22-2l-22-4l-46-10l-18-3h-20l-38 2l-16 1l-18-2l-18-5l-14-6l-12-7l-12-10l-12-12l-8-11l-8-14l-5-14l-2-14v-14l35-2l16-3l26-1l32-1l26 1l26 4l4 2l2 12l4 10l4 5l2 1l4 1h4l2-2l5-5l4-10l2-12l1-1l9-1l13-6l16-3l20-2l26-1zM186 3024l29-2h26l24 4l12 3l10 3l10 5l9 5l8 6l7 5l6 7l6 8l4 7l2 7h-240v-37l19-7l21-6l24-5l23-3z"/><path fill="#004fff" d="M121 2700h10l6 1l4 2l4 5v2l-1 4h-36l-1-4l2-5l5-3l7-2zM509 2740l40-2l40 1l30 4l13 3l11 4l16 2l1 10v10l-2 12l-2 10l-4 12l-4 10l-5 8l-6 10l-7 8l-7 7l-8 6l-8 5l-8 4l-10 4l-10 3l-12 2l-22 1l-24-3l-24-4l-44-11l-18-3h-18l-36 2l-18 1l-18-2l-18-5l-14-6l-12-8l-12-9l-9-10l-9-12l-6-12l-5-12l-2-14v-14l35-2l16-3l26-1h32l26 1l24 3l3 2l2 12l4 10l5 6l4 2l2 1l2-1l4-2l5-6l4-10l2-12l5-2h6l10-4l10-3l24-3zM201 3026l24-1l24 2l20 4l18 6l16 9l14 10l5 6l5 6l4 8l2 6h-234v-33l20-8l26-7l28-6l28-2z"/><path fill="#0054ff" d="M515 2740l40-2l38 2l26 3l12 3l10 4l16 2l1 10v10l-2 12l-2 10l-4 10l-4 10l-5 9l-6 8l-6 8l-8 7l-8 7l-8 5l-10 4l-10 4l-10 2l-10 2l-22 1l-24-3l-26-6l-44-11l-16-3h-16l-36 3h-18l-18-1l-18-5l-14-6l-12-7l-10-8l-10-10l-9-12l-6-12l-4-12l-2-12v-14l36-2l15-3l26-1h32l24 1l13 3h9l5 2l2 14l4 10l5 5l2 2l4 1l4-1l2-2l4-3l2-4l4-10l2-12l4-2h8l10-4l10-3l28-3zM192 3030l25-2l24 2l22 4l18 5l17 9l13 10l6 6l4 6l3 6l2 6h-227v-28h2l17-8l23-8l24-5l27-3z"/><path fill="#0059ff" d="M522 2740l35-1l36 1l24 3l12 3l10 4l16 2l1 10v10l-2 10l-2 10l-3 10l-4 10l-6 9l-6 9l-7 8l-7 6l-8 6l-8 5l-8 4l-10 4l-10 2l-12 2l-22 1l-26-4l-26-6l-42-12l-14-3h-16l-36 4h-18l-18-1l-18-5l-12-4l-12-7l-12-10l-9-8l-7-10l-7-12l-4-12l-2-12v-14l36-2l16-2l23-2h32l24 2l12 2h10l4 2l3 14l4 10l5 7l2 1l4 1l4-1l2-1l3-3l3-5l4-11l2-12l4-2h9l11-4l12-3l31-3zM185 3034l24-2l24 1l20 3l20 5l16 7l14 10l7 6l4 6l4 6l2 6h-221v-22l7-4l17-8l18-6l22-5l22-3z"/><path fill="#005eff" d="M530 2740l33-1l32 2l22 3l12 3l8 2l16 3l1 10v10l-2 10l-2 10l-3 10l-5 10l-5 8l-6 9l-6 7l-8 7l-8 5l-8 5l-8 4l-10 3l-10 3l-12 2h-12h-12l-26-4l-24-6l-40-13l-14-3l-16-1l-36 5l-18 1l-18-1l-18-5l-12-5l-12-6l-10-8l-9-9l-8-10l-6-12l-4-10l-2-12v-14l36-2l23-3l26-1l34 1l30 3l6 2l3 16l2 6l3 5l4 5l2 1l4 1h2l4-2l6-8l4-10l3-14l5-2h9l11-4l12-3l16-2l21-1zM203 3036h20l19 2l17 3l16 5l14 7l11 9l8 10l5 10h-214v-15l10-7l14-8l18-6l20-5l20-4l22-1z"/><path fill="#0063ff" d="M542 2740h31l26 2l22 3l14 5l16 2l1 10v10l-1 10l-3 10l-3 10l-5 10l-5 8l-6 7l-6 7l-8 7l-8 6l-8 4l-10 4l-10 4l-20 3h-12h-12l-26-4l-24-7l-38-14l-14-3h-8h-8l-34 5l-18 2l-20-2l-18-4l-12-5l-12-6l-10-8l-8-8l-8-11l-6-11l-4-10l-2-12l1-12l37-2l22-3l26-1l32 1l32 4l4 1l2 16l5 12l5 5l2 2l4 1l4-1l2-2l6-7l5-12l2-14l5-2h11l11-4l14-3l20-2l25-1zM194 3040l19-1l20 1l18 3l16 5l14 6l12 9l8 9l5 10h-207v-6l6-6l10-8l12-7l14-5l16-5l18-3l19-2z"/><path fill="#0069ff" d="M512 2742l37-2l36 1l26 3l12 2l10 4l16 2l1 10v10l-1 10l-3 10l-3 10l-4 7l-5 9l-6 8l-7 7l-8 6l-8 6l-8 4l-8 4l-10 3l-10 2l-10 1l-12 1l-14-1l-12-1l-14-3l-24-7l-38-15l-12-3h-14l-36 6l-18 2l-20-1l-18-5l-12-4l-10-6l-10-7l-9-9l-8-10l-5-10l-4-10l-2-12l1-12l37-2l20-3h26h32l32 4l3 1l3 16l4 12l6 7l2 1l4 1l4-1l2-1l6-8l5-11l3-16l6-2l10-1l10-3l10-2l19-2zM189 3044l20-2l18 1l18 3l16 4l14 7l10 7l8 8l3 4l2 6h-194l4-6l5-6l8-6l11-6l13-5l14-5l14-2l16-2z"/><path fill="#006eff" d="M517 2742l34-2l34 1l24 3l12 2l10 4l17 2v8v10l-1 10l-2 10l-4 10l-4 8l-4 7l-6 8l-6 7l-8 6l-8 6l-8 5l-8 3l-10 3l-10 3l-10 1l-12 1l-14-1l-14-2l-12-3l-24-7l-38-17l-12-3l-12 1l-36 7l-18 2l-20-1l-10-1l-10-3l-12-5l-10-5l-10-8l-8-8l-7-8l-5-10l-4-10l-2-12v-12l39-2l21-2l24-1l26 1l36 3l3 1l2 16l5 13l2 3l4 5l2 1l4 1h2l4-2l4-5l3-4l4-12l3-16l6-2h12l8-3l12-3l22-2zM186 3048l19-2l18 1l18 2l14 4l14 6l10 7l7 8l5 8h-179l4-6l6-6l9-6l8-4l10-4l12-4l25-4z"/><path fill="#0073ff" d="M522 2742l33-2l32 2l22 2l12 3l8 3l17 2l1 8v10l-2 10l-2 10l-4 10l-4 8l-10 14l-6 6l-8 7l-8 6l-8 4l-8 3l-10 4l-10 2l-10 1h-12h-14l-14-3l-14-3l-20-7l-38-18l-10-3h-6l-6 1l-36 8l-20 2h-20l-10-2l-10-3l-10-3l-10-6l-10-7l-8-8l-8-9l-5-10l-3-10l-2-10v-12l40-2l22-2l20-1l24 1l38 3l2 1l3 18l5 13l6 8l2 1l4 1h2l4-2l4-5l3-4l5-14l3-16l5-2h14l8-3l12-3l25-2zM185 3052l16-2h16l16 2l14 4l14 5l10 6l7 7l4 8h-161l4-6l4-4l6-4l8-5l8-4l12-3l22-4z"/><path fill="#0078ff" d="M529 2742l30-1l30 1l24 4l14 4l17 2l1 8v10l-1 10l-2 8l-3 8l-4 8l-4 8l-6 8l-6 6l-8 7l-8 5l-8 4l-8 4l-10 3l-10 2l-10 2h-12l-14-1l-14-2l-14-3l-22-9l-38-19l-8-3l-8 1l-36 9l-22 4h-12l-10-1l-10-1l-10-3l-12-5l-10-5l-8-7l-8-8l-6-8l-5-8l-3-10l-2-10v-12l60-4l20-1l24 1l38 3l2 1l2 18l3 8l3 7l6 9l4 2h2l4-1l4-4l6-10l4-13l3-16l7-2h13l9-3l14-3l28-2zM187 3056l16-2l14 1l14 2l12 2l11 5l9 5l7 7l4 6h-144l3-4l4-4l6-4l7-4l17-7l20-3z"/><path fill="#007dff" d="M537 2742l28-1l26 2l19 3l15 4l17 2l1 8v10l-1 10l-2 8l-7 16l-5 8l-5 6l-12 12l-8 6l-8 4l-8 4l-10 3l-10 2l-10 2h-14l-14-1l-16-3l-14-4l-14-5l-14-7l-16-9l-16-11l-4-2l-4 1l-13 6l-15 4l-16 4l-12 2l-12 2l-12-1l-12-1l-10-3l-10-3l-10-5l-10-7l-8-8l-6-8l-5-8l-4-10l-1-10v-12l78-4h22l40 3l1 1l2 12l2 10l4 12l3 6l4 6l4 3h2l2-1l4-4l4-5l4-8l5-15l3-16l21-2l11-4l14-2l32-2zM193 3060l12-1h12l12 2l9 3l9 3l8 5l4 4l5 6h-124l3-4l5-4l11-6l16-6l18-2z"/><path fill="#0082ff" d="M513 2744l32-2h34l24 3l12 2l8 3l18 2l1 10l-1 12l-2 12l-4 10l-4 8l-5 8l-7 8l-6 6l-8 6l-8 5l-10 5l-10 3l-10 2l-10 2h-10h-12l-12-2l-12-3l-22-7l-20-10l-17-11l-5-4l-3-4v-2v-4l7-17l4-9l2-12l2-12l23-2l13-4l18-2zM319 2750l22-2h22l42 2l10 2l4 22l8 26v4l-1 2l-3 3l-4 2l-14 6l-20 5l-18 3h-14l-14-1l-14-4l-12-5l-8-5l-8-7l-7-7l-6-8l-4-8l-2-8l-2-10v-8l1-2l42-2zM187 3066l10-2h10l10 1l10 2l9 3l7 3l6 5l3 4h-100l6-6l8-4l11-4l10-2z"/><path fill="#0087ff" d="M517 2744l30-2l32 1l22 2l12 2l8 3l18 2l1 10l-1 12l-2 12l-4 10l-4 8l-5 8l-7 7l-7 7l-8 6l-9 5l-8 3l-10 3l-10 3l-10 1h-10h-12l-22-5l-12-3l-10-4l-16-9l-14-8l-7-6l-4-6l-1-4l1-4l8-24l4-22l24-2l15-4l18-2zM323 2750l20-2h20l42 2l10 2l2 18l7 26v4l-1 4l-4 3l-4 3l-12 5l-20 5l-16 3h-14l-14-1l-14-4l-12-5l-8-6l-8-6l-7-7l-5-8l-3-8l-3-8l-1-10l1-8l44-2zM190 3072l15-2l14 2l11 4l3 2l5 4h-72l5-4l5-2l14-4z"/><path fill="#008cff" d="M522 2744l29-2l30 1l20 2l18 5l18 2l1 12l-1 12l-2 12l-5 10l-4 8l-6 8l-6 6l-7 6l-8 5l-10 5l-18 6l-10 2l-10 1h-10l-12-1l-10-2l-12-3l-12-4l-10-5l-12-6l-12-8l-7-6l-3-6l-1-4l1-4l6-26l3-18l27-2l14-4l21-2zM326 2750l19-1h18l40 1l11 2l2 16l5 24v6l-1 4l-3 3l-4 2l-12 6l-18 5l-18 3h-14l-14-2l-12-3l-12-6l-8-5l-7-5l-5-6l-6-9l-4-7l-2-9l-1-9v-8l46-2zM192 3082l11-2l10 2h-21z"/><path fill="#0091ff" d="M527 2744l28-1l26 1l20 2l16 4l19 2l1 12l-2 14l-3 12l-6 12l-5 7l-6 7l-6 6l-8 6l-8 5l-10 4l-10 3l-10 2l-20 1h-10l-12-2l-10-3l-12-4l-20-9l-11-7l-8-6l-4-4l-3-6v-4v-6l5-22l3-18l28-2l16-4l22-2zM330 2750l33-1l38 1l13 2l5 38v6l-2 4l-2 3l-4 2l-12 6l-18 5l-16 3h-14l-14-2l-12-3l-12-6l-8-5l-6-5l-6-7l-5-7l-3-8l-3-8v-8v-8l48-2z"/><path fill="#0096ff" d="M533 2744l24-1l24 1l18 2l15 4l20 2l1 14l-2 14l-4 14l-7 12l-7 8l-6 6l-8 6l-8 4l-8 4l-10 4l-10 2l-10 1l-10 1l-12-1l-12-2l-10-2l-20-8l-19-11l-12-10l-3-4l-2-6v-8l5-24l2-14l29-2l18-4l24-2zM335 2750l28-1l36 1l14 2l5 34l-1 6l-1 6l-3 3l-4 3l-12 5l-16 5l-16 3h-14l-14-2l-12-3l-12-6l-8-5l-6-6l-6-7l-4-6l-2-6l-3-8l-1-8l1-8l51-2z"/><path fill="#009cff" d="M542 2744l21-1l20 1l18 3l11 3l20 2l1 10v10l-2 10l-3 8l-4 10l-6 8l-7 7l-8 7l-14 9l-8 3l-10 3l-10 2l-10 1l-20-1l-20-4l-10-4l-10-4l-10-6l-10-7l-6-5l-5-5l-3-7l-1-7l6-38l31-2l8-2l13-2l28-2zM342 2750h41l29 2l4 32v6l-2 6l-3 3l-3 3l-13 6l-16 5l-16 2h-14l-14-2l-12-4l-11-5l-7-6l-6-5l-5-7l-4-6l-2-6l-2-8l-1-8l1-6l56-2z"/><path fill="#00a1ff" d="M518 2746l27-2h28l18 2l19 4l21 2l1 8v10l-2 10l-2 8l-8 14l-5 7l-6 6l-6 5l-8 5l-16 8l-18 4l-18 1l-20-2l-18-5l-14-7l-14-8l-11-8l-6-8l-2-6v-6l5-36l33-2l8-2l14-2zM288 2752l65-2h36l23 2l3 28l-1 10l-3 6l-6 4l-12 6l-14 5l-12 2l-12 1l-12-1l-12-3l-10-4l-10-5l-8-7l-6-7l-5-7l-4-10l-1-10l1-8z"/><path fill="#00a6ff" d="M522 2746l25-2l26 1l20 1l15 4l21 2l1 10v10l-2 10l-3 7l-4 8l-4 6l-6 8l-6 5l-14 10l-16 6l-18 4h-18l-10-1l-10-2l-18-6l-12-6l-12-8l-10-8l-5-7l-2-6l-1-6l5-34l34-2l9-2l15-2zM290 2752l63-2h36l22 2l2 24v6v6l-4 6l-6 5l-12 6l-12 4l-12 2l-12 1l-12-1l-10-2l-10-4l-10-5l-8-6l-6-7l-6-9l-3-8l-1-9l1-9z"/><path fill="#00abff" d="M526 2746l23-2l24 1l20 2l13 3l22 2l1 10l-1 10l-2 10l-4 10l-4 8l-5 6l-5 6l-7 5l-14 9l-16 6l-18 3l-18-1l-18-3l-18-7l-12-6l-12-8l-8-8l-4-6l-2-6v-8l3-30l37-2l9-2l16-2zM291 2752l62-2h34l23 2l2 22l-1 12l-3 6l-5 4l-10 6l-14 5l-12 2l-12 1l-12-1l-10-2l-10-4l-8-4l-8-6l-7-7l-5-8l-3-8l-1-8v-10z"/><path fill="#00b0ff" d="M531 2746l22-1h22l18 2l10 3l23 2l1 10l-1 12l-2 10l-4 10l-9 12l-6 6l-7 6l-7 4l-8 4l-16 5l-18 2l-18-1l-18-4l-18-8l-10-6l-10-7l-7-7l-4-6l-1-6l-1-8l3-28l39-2l9-2l18-2zM293 2752l60-2h32l24 2l2 20v6l-1 6l-3 6l-6 5l-10 5l-12 5l-10 2l-12 1h-12l-10-2l-10-4l-8-4l-8-6l-7-6l-5-8l-3-8l-1-8v-10z"/><path fill="#00b5ff" d="M538 2746l19-1l18 1l16 1l10 3l23 2l2 12l-2 12l-3 12l-7 12l-5 6l-6 6l-6 4l-8 5l-16 7l-8 2l-10 1h-18l-18-3l-18-6l-16-10l-8-6l-6-6l-4-6l-2-4l-1-6l-1-7l3-25l40-2l13-3l19-1zM295 2752l58-2l55 2l2 18l-1 10l-3 8l-5 4l-9 6l-11 4l-10 3l-12 1h-12l-10-2l-10-3l-10-5l-8-6l-6-6l-5-8l-2-8l-1-8v-8z"/><path fill="#00baff" d="M548 2746h29l11 2l11 2l24 2l1 10v10l-3 10l-3 8l-5 8l-6 8l-8 7l-8 5l-8 5l-8 3l-16 3l-16 1l-18-2l-16-5l-16-8l-14-10l-6-5l-4-6l-3-6l-1-8v-12l2-16l42-3l16-2l23-1zM297 2752l56-2l54 2l1 16l-1 12l-3 6l-5 5l-8 5l-12 5l-11 3l-11 1l-10-1l-10-1l-10-4l-8-4l-8-5l-5-6l-5-8l-3-8l-1-8v-8z"/><path fill="#00bfff" d="M524 2748l21-2h22l18 2l11 2l25 2l1 8v8l-1 8l-2 8l-6 12l-5 6l-5 5l-12 10l-14 6l-16 5l-16 1l-18-2l-16-5l-12-5l-12-8l-11-9l-6-8l-3-7l-1-7v-12l2-14l44-2l12-2zM299 2752l54-2l53 2l1 14l-1 10l-2 6l-4 6l-9 5l-10 5l-10 3l-12 2h-10l-10-2l-10-3l-8-4l-8-6l-6-6l-4-6l-3-8l-1-8v-8z"/><path fill="#00c4ff" d="M528 2748l19-2h20l14 2l12 2l27 2l1 8v10l-2 8l-3 8l-7 12l-10 11l-12 8l-14 6l-16 4h-16l-16-2l-17-5l-11-6l-10-7l-10-9l-6-8l-2-6l-2-8v-10l2-14l46-2l13-2zM302 2752l51-2l52 2l1 12l-1 10l-2 6l-5 6l-7 5l-10 5l-10 3l-10 2h-10l-12-1l-8-3l-8-4l-8-5l-6-6l-4-7l-3-7l-1-8l1-8z"/><path fill="#00c9ff" d="M533 2748l16-1h18l23 3l28 2l1 8v10l-2 10l-3 8l-8 12l-10 10l-13 7l-14 6l-16 2h-16l-16-3l-16-6l-10-5l-9-7l-8-8l-6-8l-2-6l-1-8v-10l1-12l48-2l15-2zM304 2752l49-2l50 2l1 10v10l-3 7l-4 5l-8 6l-8 4l-10 3l-10 2h-10l-10-1l-9-2l-8-4l-7-5l-6-6l-4-6l-3-7l-1-8l1-8z"/><path fill="#00cfff" d="M538 2748l31-1l18 3l30 2l1 10l-1 12l-3 10l-5 10l-10 11l-12 9l-14 6l-14 3l-16 1l-16-2l-16-5l-15-7l-8-6l-6-6l-6-8l-4-6l-1-6l-1-8v-10l2-8l49-2l17-2zM306 2752l47-2l48 2l2 10l-1 8l-2 6l-4 6l-7 5l-8 4l-8 3l-10 3h-10l-10-1l-10-2l-8-4l-6-4l-6-6l-4-6l-3-8l-1-9l1-5z"/><path fill="#00d4ff" d="M547 2748h20l48 4l1 8v10l-2 10l-4 8l-5 8l-6 7l-8 6l-8 5l-14 6l-14 2l-16 1l-16-3l-14-5l-14-8l-12-11l-8-10l-2-6l-2-8v-10l2-10l52-2l22-2zM308 2752l47-1l44 1l2 8l-1 8l-2 6l-4 6l-7 6l-7 4l-9 3l-10 2h-10l-8-1l-8-2l-8-3l-6-4l-6-6l-4-6l-3-7l-1-8l1-6z"/><path fill="#00d9ff" d="M529 2750l14-2h16l54 4l2 8v8l-2 8l-2 6l-6 11l-8 9l-12 9l-12 6l-14 3l-14 1l-16-1l-14-4l-12-6l-9-6l-9-8l-6-8l-4-8l-2-8v-10l1-8l1-2l54-2zM311 2752l44-1l42 1l2 7l-1 7l-2 6l-3 6l-6 5l-8 4l-8 4l-8 2h-10h-8l-8-2l-8-3l-6-4l-6-6l-4-6l-2-6l-1-8l1-6z"/><path fill="#00deff" d="M533 2749l14-1h14l51 4l1 8v8l-1 8l-3 8l-6 10l-10 10l-11 8l-13 5l-14 2l-16 1l-14-3l-14-5l-10-5l-8-6l-7-7l-6-8l-4-8l-1-8v-10l1-8l57-3zM314 2752l41-1l39 1l2 6v6l-2 6l-3 6l-6 5l-6 4l-8 3l-8 2l-10 1h-8l-8-2l-7-3l-6-4l-5-5l-4-7l-2-6v-6l1-6z"/><path fill="#00e3ff" d="M538 2750l23-1l49 3l2 8l-1 10l-2 10l-4 8l-7 10l-11 9l-12 6l-14 4l-14 1l-14-1l-14-3l-14-6l-8-6l-7-6l-5-6l-5-8l-2-6l-2-8v-8l2-8l60-2zM317 2752l38-1l36 1l2 6v6l-2 6l-4 5l-4 5l-7 4l-7 3l-8 1l-8 1l-8-1l-8-2l-6-2l-6-4l-4-5l-3-5l-2-6l-1-6l2-6z"/><path fill="#00e8ff" d="M546 2750h35l28 2l1 8v8l-2 8l-3 8l-4 8l-6 6l-8 7l-8 4l-14 6l-14 2l-14-1l-14-2l-12-5l-12-8l-10-9l-7-10l-2-6l-2-8v-8l2-8l66-2zM320 2752l35-1l33 1l2 6v6l-3 6l-2 4l-4 4l-6 4l-6 2l-8 2l-8 1l-8-1l-6-2l-6-2l-6-4l-4-4l-2-4l-2-6l-1-6l2-6z"/><path fill="#00edff" d="M323 2751l61 1l2 6v6l-1 4l-4 5l-4 3l-6 4l-6 2l-6 2h-8l-6-1l-10-3l-6-4l-3-4l-3-6l-1-4v-6l1-5zM482 2752l73-2h28l24 2l1 8v10l-3 10l-5 10l-7 8l-10 7l-10 5l-12 4l-12 1h-14l-12-3l-12-5l-12-7l-8-9l-7-9l-3-10l-1-10l2-10z"/><path fill="#00f2ff" d="M328 2752h52l2 6v6l-2 4l-3 4l-4 3l-4 3l-6 2l-6 1h-6l-6-1l-6-2l-4-2l-6-6l-2-4l-1-4v-6l2-4zM484 2752l71-2h28l22 2l2 8l-1 10l-2 10l-5 8l-8 10l-8 6l-10 5l-12 3l-12 2l-14-1l-12-3l-12-5l-11-7l-8-8l-6-8l-3-10l-1-10l2-10z"/><path fill="#00f7ff" d="M333 2752h41l3 6v6l-2 4l-2 2l-4 3l-4 3l-10 2l-10-1l-8-5l-3-2l-2-4l-2-4l1-4l2-6zM486 2752l67-2h28l23 2l1 8v10l-3 10l-5 8l-6 8l-10 7l-10 5l-12 3l-12 1h-12l-12-3l-12-5l-9-6l-8-8l-5-8l-4-10l-1-10l2-10z"/><path fill="#00fcff" d="M342 2752h25l2 2l2 4v6l-4 5l-6 3l-8 1l-8-1l-6-4l-1-2l-1-4l1-6l4-4zM488 2752l65-2h26l23 2l1 8v10l-3 10l-5 8l-6 8l-10 6l-10 5l-10 3l-12 1l-12-1l-12-3l-10-4l-10-7l-8-8l-5-8l-4-10v-10l2-8z"/><path fill="#03fffc" d="M490 2752l63-2l47 2l2 8l-1 10l-3 10l-4 8l-7 7l-8 6l-10 4l-10 3l-12 1h-12l-10-3l-11-4l-9-7l-8-7l-5-8l-4-10v-10l2-8zM351 2760l4-2h2l2 2v2l-2 2h-4h-2l-1-2l1-2z"/><path fill="#08fff7" d="M492 2752l61-2l45 2l2 8v10l-4 10l-5 8l-6 6l-8 6l-10 5l-10 2l-10 1l-12-1l-12-3l-9-4l-9-6l-7-8l-5-9l-3-7v-10l2-8z"/><path fill="#0dfff2" d="M494 2752l59-2l44 2l1 8v10l-3 8l-4 8l-8 8l-8 5l-10 5l-10 2h-10l-10-1l-10-2l-10-5l-8-5l-7-7l-5-8l-2-8l-1-10l2-8z"/><path fill="#12ffed" d="M496 2752l55-2l44 2l1 8v10l-3 8l-4 8l-6 6l-8 6l-10 4l-10 2l-10 1l-10-1l-10-3l-10-5l-8-6l-6-6l-4-8l-3-8v-8l2-8z"/><path fill="#17ffe8" d="M498 2752l53-2l42 2l1 8v10l-3 8l-4 7l-7 7l-7 5l-8 3l-10 3h-10l-10-1l-9-2l-9-5l-8-5l-6-7l-4-7l-2-8l-1-8l2-8z"/><path fill="#1cffe3" d="M501 2752l50-2l40 2l2 8l-1 10l-3 8l-4 6l-6 6l-8 6l-8 3l-10 2l-9 1l-9-2l-10-2l-8-4l-7-6l-6-6l-3-7l-2-7v-8l2-8z"/><path fill="#21ffde" d="M503 2752l48-1l38 1l2 8l-1 10l-3 8l-4 6l-6 6l-6 4l-8 3l-10 2l-10 1l-8-1l-10-3l-7-4l-7-6l-5-6l-3-6l-2-8v-8l2-6z"/><path fill="#26ffd9" d="M505 2752l46-1l35 1l2 8v10l-3 7l-4 6l-6 6l-6 4l-8 3l-8 2h-10l-8-1l-8-3l-8-4l-6-4l-5-6l-3-6l-2-8v-9l2-5z"/><path fill="#2bffd4" d="M508 2752l41-1l35 1l2 8v10l-3 6l-4 6l-6 6l-6 3l-8 4l-8 1h-8l-8-1l-8-3l-8-4l-5-4l-5-6l-2-6l-2-6l1-8l2-6z"/><path fill="#30ffcf" d="M511 2752l38-1l33 1l2 8v4l-1 6l-2 6l-4 6l-6 5l-6 3l-6 2l-8 2h-8l-8-1l-8-3l-6-4l-6-4l-4-6l-2-6l-1-6v-6l3-6z"/><path fill="#36ffc9" d="M513 2752l36-1l30 1l2 8l1 6l-1 4l-3 6l-4 6l-5 4l-6 3l-6 2l-8 1h-8l-6-1l-6-2l-6-4l-4-3l-5-6l-3-6l-1-6l1-6l2-6z"/><path fill="#3bffc4" d="M516 2752h60l3 8v4l-1 6l-3 6l-3 4l-5 4l-6 3l-6 2l-6 1h-8l-6-2l-6-2l-6-4l-4-4l-3-4l-2-6l-1-6l1-6l2-4z"/><path fill="#40ffbf" d="M520 2752h53l3 8v4l-1 6l-2 4l-4 5l-4 3l-6 3l-6 2l-6 1l-6-1l-6-1l-5-2l-5-4l-4-4l-3-4l-1-4l-1-6l1-5l3-5z"/><path fill="#45ffba" d="M524 2752h45l2 4l1 4l1 3l-1 7l-2 4l-4 4l-5 3l-4 2l-10 2h-6l-6-2l-4-2l-5-3l-3-4l-2-4l-2-7l1-3l1-4l3-4z"/><path fill="#4affb5" d="M529 2752h35l3 4l2 4v4l-1 6l-5 6l-4 3l-4 2l-4 1h-6l-4-1l-6-1l-4-3l-4-4l-3-5l-1-4l1-4l1-4l4-4z"/><path fill="#4fffb0" d="M536 2752h20l3 1l4 5l1 4v6l-3 4l-2 2l-4 2l-8 2l-8-1l-6-3l-4-6l-1-6l3-6l5-4z"/><path fill="#54ffab" d="M539 2758l6-2h4l4 2l3 4l1 1l-1 5l-3 3l-4 1l-4 1l-4-1l-4-3l-2-3l1-4l3-4z"/></g></g>
<clipPath id="hcd"><rect x="976.0" y="2119.5" width="591.5" height="954.0"/></clipPath><g clip-path="url(#hcd)"><g filter="url(#hb)" fill-rule="evenodd"><rect x="968.0" y="2111.5" width="607.5" height="970.0" fill="#000087"/><path fill="#00008c" d="M968 2112h608v970h-608v-970zM990 2709l-6 3l8 1h8l6-2l-5-1l-11-1z"/><path fill="#000091" d="M968 2112h608v970h-608v-970zM984 2709l-2 1l-3 2l4 2h5h16h3l5-2l-4-2l-6-1l-10-1l-8 1z"/><path fill="#000096" d="M968 2112h608v970h-608v-970zM994 2707l-8 1l-8 2l-3 2l5 2l10 1h10l12-1l4-2l-3-2l-3-1l-16-2z"/><path fill="#00009c" d="M968 2112h608v970h-608v-970zM984 2707l-10 3l-2 2l3 2l11 1h20l10-1l3-2l-2-2l-10-2l-11-1h-12z"/><path fill="#0000a1" d="M968 2112h608v970h-608v-970zM980 2707l-9 3l-2 2l3 2l10 2h14h14l9-2l3-2l-2-2l-12-3l-14-1l-14 1z"/><path fill="#0000a6" d="M968 2112h608v970h-608v-369l10 3l20 1l17-1l7-2l3-2l-2-2l-7-2l-16-2l-20 1l-6 1l-6 2v-598z"/><path fill="#0000ab" d="M968 2112h608v970h-608v-368l5 2l9 1h20l16-1l7-2l2-2l-1-2l-6-2l-16-2h-20l-12 1l-4 2v-597zM1266 2707l-2 3l2 1h2l1-1l-1-2l-2-1z"/><path fill="#0000b0" d="M968 2112h608v970h-608v-367l17 3h20l17-2l6-2l2-2l-2-2l-5-2l-17-3h-22l-16 3v-596zM1264 2707l-2 1v2l1 2h5h1l2-2l-1-2l-2-2l-4 1z"/><path fill="#0000b5" d="M968 2112h608v970h-608v-366l18 2h22l16-2l6-2l2-2l-1-2l-5-2l-18-3h-22l-18 2v-595zM1264 2705l-4 3v2l1 2l5 1l5-1l1-3v-1l-2-2l-2-1h-4z"/><path fill="#0000ba" d="M968 2112h608v599h-2l-3 1h5v370h-608v-366l20 2h22l17-2l6-2l1-2l-1-2l-4-2l-10-2l-9-1l-22-1l-20 2v-594zM1262 2705l-3 3l-1 2l2 2l2 2h4l4-1l2-1l1-2v-2l-2-2l-5-2l-4 1z"/><path fill="#0000bf" d="M968 2112h608v597h-8l-1 3l3 2h6v368h-608v-365l20 2l24-1l18-2l5-2l2-2l-2-2l-4-2l-9-2l-10-2h-22l-22 2v-594zM1264 2703l-4 2l-2 2l-1 3l1 2l4 2l4 1l4-1l4-2v-2v-2l-1-2l-5-2l-4-1z"/><path fill="#0000c4" d="M968 2112h608v596h-8l-3 2l-1 2l4 2l8 1v367h-608v-365l22 2h22l11-1l9-2l5-2l2-2l-1-2l-5-2l-8-2l-13-2l-24-1l-20 2v-593zM1262 2703l-4 2l-2 3v2l1 2l1 2l6 1h4l4-1l3-2v-2v-2l-1-2l-2-2l-4-1h-6z"/><path fill="#0000c9" d="M968 2112h608v595l-9 1l-4 2l-1 2l2 2h2l4 1h6v367h-608v-364l22 2l24-1l12-1l9-2l4-2l2-2l-1-2l-4-2l-8-2l-14-2l-24-1l-22 2v-593zM1260 2703l-4 2l-1 3v4l3 2l4 2h6l4-1l4-3v-4l-1-2l-2-2l-3-2h-4l-6 1z"/><path fill="#0000cf" d="M968 2112h608v594h-6l-6 2l-3 2l-1 2l2 2l4 1l10 1v366h-608v-364l22 2l24-1l14-1l9-2l4-2l2-2l-1-2l-4-2l-7-2l-14-2l-25-1l-24 1v-592zM1262 2701l-5 3l-3 3l-1 3l3 4l4 2l6 1l6-1l3-2l2-2v-4l-3-4l-6-3h-6z"/><path fill="#0000d4" d="M968 2112h608v594h-8l-6 2l-3 2v2l1 2l5 2l11 1v365h-608v-363l22 1l26-1l15-1l8-2l4-2l2-2l-1-2l-4-3l-7-1l-13-3l-26-1l-26 2v-592zM1260 2701l-5 3l-2 4v4l1 2l3 2l5 1h6l6-2l3-3l1-5l-2-3l-2-2l-6-2l-8 1z"/><path fill="#0000d9" d="M968 2112h608v593h-8l-6 2l-4 3l-1 2l2 2l3 2l8 1h6v365h-608v-363l24 2l28-1l14-2l7-2l5-2l1-2l-1-2l-6-3l-8-2l-12-2l-26-1l-26 1v-591zM1258 2701l-4 3l-3 4l1 4l4 4l6 2h8l5-2l3-4l1-4l-1-2l-4-5l-4-1h-4l-8 1z"/><path fill="#0000de" d="M968 2112h608v593h-8l-6 1l-4 2l-2 2v2l1 2l5 2l8 2h6v364h-608v-363l26 2l28-1l14-2l7-2l5-2l1-2l-1-2l-6-3l-8-2l-12-2l-28-2l-26 2v-591zM1262 2699l-6 3l-5 4l-1 4l2 4l2 2l4 1l8 1l6-1l4-1l2-2l1-2l1-4l-2-4l-3-2l-4-2l-9-1z"/><path fill="#0000e3" d="M968 2112h608v592h-8l-6 2l-5 2l-2 2v2l1 2l6 3l6 1h8v364h-608v-362l26 1l28-1l14-2l8-2l6-2l1-2l-1-3l-3-1l-5-2l-20-4l-28-1l-26 2v-591zM1260 2699l-6 3l-4 4l-1 4l1 2l3 4l5 2l8 1l7-1l6-4l1-2l1-4l-2-4l-2-2l-7-3l-4-1l-6 1z"/><path fill="#0000e8" d="M968 2112h608v592h-8l-8 2l-4 2l-2 2v2l2 2l6 3l6 1l8 1v363h-608v-362l28 2l28-2l14-2l8-2l6-2l1-2l-1-3l-3-1l-5-2l-20-4l-28-1l-28 1v-590zM1258 2699l-6 3l-3 4l-1 2l1 4l3 4l6 3l9 1l8-2l5-4l1-4v-4l-1-2l-4-4l-8-2h-6l-4 1z"/><path fill="#0000ed" d="M968 2112h608v591h-8l-9 3l-4 2l-2 2l-1 2l2 2l2 1l5 3l7 1h8v363h-608v-361l28 1l28-2l20-3l8-3h1l2-2l-1-2l-3-2l-6-2l-21-4l-28-2l-28 2v-590zM1262 2697l-7 3l-6 4l-1 2l-1 4l1 2l2 3l6 3l8 2l8-1l7-3l2-2l1-4v-4l-2-3l-4-3l-4-2l-4-1h-6z"/><path fill="#0000f2" d="M968 2112h608v591h-10l-8 2l-5 3l-1 2l-1 2l1 2l3 2l5 2l8 1h8v363h-608v-361l28 1l30-1l20-4l6-2l3-1l2-2l-1-2l-3-2l-6-2l-21-4l-30-2l-28 2v-590zM1258 2697l-8 5l-2 2l-2 4l1 4l1 2l4 3l8 3h8l8-2l5-4l2-4v-4l-3-4l-2-2l-4-2l-6-1h-10z"/><path fill="#0000f7" d="M968 2112h608v590l-10 1l-8 2l-6 3l-1 2l-1 2l1 2l3 2l4 2l10 2h8v362h-608v-361l28 1l30-1l22-3l6-2l3-2l2-2l-1-2l-3-2l-5-2l-9-2l-14-2l-29-2l-30 1v-589zM1256 2697l-7 5l-2 2l-2 4l1 4l1 2l4 4l7 2l10 1l8-2l4-3l2-2l2-4l-1-4l-2-4l-3-3l-4-2l-6-1h-6l-6 1z"/><path fill="#0000fc" d="M968 2112h608v590h-10l-10 3l-5 3l-1 2l-1 2l1 2l2 1l5 3l9 2h10v362h-608v-360l30 1l30-2l22-3l6-2l3-2l2-2l-1-2l-3-2l-5-2l-8-2l-14-3l-32-1l-30 1v-589zM1262 2695l-6 2l-4 2l-6 5l-1 2l-1 4l2 4l1 2l7 4l10 2l8-1l4-2l4-2l3-3l1-4v-4l-2-4l-4-4l-4-2l-6-1h-6z"/><path fill="#0003ff" d="M968 2112h608v590h-10l-10 2l-6 4l-1 2l-1 2l1 2l2 2l5 2l8 2l12 1v361h-608v-360l30 1l30-2l15-1l9-2l6-2l3-2l2-2l-1-2l-3-2l-5-2l-8-2l-14-3l-32-2l-32 2v-589zM1260 2695l-8 3l-4 2l-3 4l-1 2l-1 4l2 4l1 2l4 2l4 2l10 2l10-1l4-2l4-3l3-4v-4l-1-4l-3-4l-3-3l-6-2h-6h-6z"/><path fill="#0008ff" d="M968 2112h608v589l-10 1l-10 2l-4 2l-3 2l-1 2l-1 2l1 2l2 2l6 2l10 2l10 1v361h-608v-360l30 1l33-1l23-4l6-2l3-2l2-2l-1-2l-3-2l-5-2l-10-3l-14-2l-32-2l-32 1v-588zM1256 2695l-8 5l-2 2l-3 4l-1 4l1 2l2 4l3 2l8 4h6h6h5l5-3l4-2l3-3l1-4v-4l-2-4l-5-4l-5-3l-6-1h-6l-6 1z"/><path fill="#000dff" d="M968 2112h608v589h-12l-9 3l-4 2l-3 2l-1 2l-1 2l1 2l2 2l7 3l10 2h10v361h-608v-360l32 2l34-2l22-5l6-1l3-2l2-2l-1-2l-3-2l-5-2l-10-3l-14-2l-16-2h-18l-32 1v-588zM1264 2693l-10 2l-8 5l-3 4l-2 4l1 4l1 2l3 3l3 3l9 2l6 1h6l9-3l5-4l2-4l1-6l-2-4l-4-4l-5-3l-6-1l-6-1z"/><path fill="#0012ff" d="M968 2112h608v589h-12l-10 3l-7 4l-1 2l-1 2l1 2l2 2l8 3l10 2l10 1v360h-608v-359l34 1l34-2l22-4l6-2l3-2l2-2l-1-2l-2-2l-6-2l-10-3l-16-3l-34-2l-32 1v-587zM1260 2693l-10 4l-7 5l-2 4l-1 4l2 4l1 2l5 3l4 2l10 2h6l6-1l6-2l3-2l3-4l1-4v-6l-3-4l-4-4l-6-2l-6-1h-8z"/><path fill="#0017ff" d="M968 2112h608v588l-14 1l-10 3l-6 4l-1 2v2l2 4l9 4l9 2h11v360h-608v-359l34 1l34-2l16-2l9-2l5-2l3-2l2-2l-1-2l-2-2l-5-2l-11-3l-16-3l-34-2l-34 1v-587zM1258 2693l-10 4l-4 3l-3 4l-2 4l1 4l2 4l2 2l4 2l6 2l6 2h6l6-1l5-1l5-3l4-3l2-4v-6l-1-4l-4-4l-5-3l-6-2l-6-1l-8 1z"/><path fill="#001cff" d="M968 2112h608v588l-14 1l-10 2l-5 3l-2 2l-1 2v2l2 4l8 4l10 2h12v360h-608v-359l36 1l34-2l16-2l9-2l5-2l3-2l2-2l-1-2l-2-2l-5-2l-13-4l-16-2l-34-2l-34 1v-587zM1254 2693l-5 3l-5 3l-3 3l-2 4l-1 4l2 4l3 4l3 2l4 2l6 1l12 1l11-2l3-2l4-4l2-4l1-6l-3-6l-4-4l-6-3l-8-1h-8l-6 1z"/><path fill="#0021ff" d="M968 2112h608v587l-12 1l-12 3l-6 3l-2 1l-1 5l2 4l8 4l11 2l12 1v359h-608v-358l36 1l34-3l16-2l11-2l5-2l4-2l1-2l-1-2l-2-2l-5-2l-13-4l-16-2l-18-2l-18-1l-34 1v-586zM1260 2691l-6 2l-6 2l-4 3l-4 4l-2 4l-1 4l1 4l2 2l4 3l4 3l6 2l8 1l8-1l6-1l6-3l3-2l3-4l2-6l-1-4l-3-6l-6-4l-6-2l-6-1h-8z"/><path fill="#0026ff" d="M968 2112h608v587l-12 1l-12 2l-7 4l-2 2l-1 4l2 4l8 4l10 2l14 1v359h-608v-358l36 1l36-3l16-2l11-2l5-2l4-2l1-2l-1-2l-2-2l-5-2l-13-4l-16-2l-36-3h-18l-18 1v-586zM1258 2691l-6 2l-6 3l-5 4l-3 4l-2 4l1 4l2 4l2 2l5 3l6 2l12 2h6l6-2l6-2l4-3l3-4l2-6l-2-6l-3-5l-6-3l-6-3l-8-1l-8 1z"/><path fill="#002bff" d="M968 2112h608v587h-14l-12 3l-6 4l-2 2l-1 4l2 4l3 2l6 2l12 3h12v359h-608v-358l36 1l36-2l16-2l13-3l6-2l3-2l1-2l-1-2l-2-2l-5-2l-13-4l-16-3l-36-2h-20l-18 1v-586zM1256 2691l-6 2l-6 3l-4 4l-3 4l-2 4l1 4l2 4l4 3l6 4l6 1l8 1h6l6-1l6-2l5-2l4-4l2-4v-6l-2-6l-4-4l-5-3l-8-3h-8l-8 1z"/><path fill="#0030ff" d="M968 2112h608v586l-14 1l-12 3l-7 4l-2 2l-1 4l1 2l3 3l8 4l12 2l12 1v358h-608v-357h36l38-2l16-2l13-3l6-2l3-2l1-2v-2l-3-2l-4-2l-14-4l-16-3l-18-2h-20h-20h-18v-585zM1262 2689l-8 2l-6 2l-4 3l-5 4l-3 4l-2 4v4l3 4l4 4l5 2l6 2l8 2h8l6-1l6-2l6-3l3-4l3-6v-6l-4-6l-4-4l-6-3l-8-2h-8z"/><path fill="#0036ff" d="M968 2112h608v586l-14 1l-12 3l-8 4l-2 2l-1 4l3 4l2 1l8 4l12 2l12 1v358h-608v-357l38 1l36-3l18-2l14-3l5-2l3-2l1-2v-2l-3-3l-6-2l-13-3l-17-3l-18-2l-20-1h-20l-18 1v-585zM1258 2689l-6 2l-6 2l-6 5l-4 4l-2 4l-1 4l1 4l3 4l6 4l5 2l8 2h8h8l6-2l6-2l5-4l3-6l1-6l-2-6l-4-4l-5-4l-8-3h-8h-8z"/><path fill="#003bff" d="M968 2112h608v586l-16 1l-12 3l-7 4l-2 2v4v2l3 3l8 4l12 3h14v358h-608v-357l38 1l38-3l18-2l14-3l5-2l3-2l2-2l-1-2l-2-2l-7-3l-12-3l-18-3l-18-2l-20-1h-20l-20 1v-585zM1256 2689l-6 2l-6 3l-6 4l-3 4l-3 4v4l1 4l3 4l6 4l6 2l8 2l8 1l8-1l8-2l5-2l4-4l4-6v-6l-1-6l-4-5l-6-4l-8-2l-8-1l-10 1z"/><path fill="#0040ff" d="M968 2112h608v585l-16 1l-12 3l-8 5l-1 2l-1 4v2l4 3l8 4l12 3l14 1v357h-608v-357l38 1l40-2l16-3l16-3l6-2l3-2l1-2l-1-2l-2-2l-7-3l-12-3l-18-3l-20-2l-20-1h-20h-20v-584zM1266 2687l-8 1l-8 2l-8 4l-6 5l-4 5l-1 4l1 5l3 5l6 4l5 2l8 2l8 1h8l7-1l5-2l6-4l4-4l2-6v-6l-3-6l-5-5l-6-3l-6-2l-8-1z"/><path fill="#0045ff" d="M968 2112h608v585l-16 1l-12 3l-6 2l-3 3l-1 2l-1 4l2 4l2 2l9 4l12 2l14 1v357h-608v-356h40l20-1l21-1l17-3l15-3l5-2l3-2l1-2v-2l-2-2l-10-4l-12-3l-18-3l-20-2l-20-1h-20l-20 1v-584zM1260 2687l-8 2l-7 3l-7 4l-4 4l-4 6v4l1 4l3 4l5 4l7 3l8 2l8 1l8-1l8-1l6-3l5-3l4-6l2-6l-1-6l-4-6l-5-4l-7-4l-8-1h-10z"/><path fill="#004aff" d="M968 2112h608v585l-16 1l-14 3l-8 5l-1 2l-1 4l2 3l2 3l9 4l13 3h14v357h-608v-356l20 1l22-1h20l22-2l16-3l15-3l5-2l4-2l1-2l-1-2l-2-2l-10-4l-14-4l-16-2l-20-2l-22-1h-20l-20 1v-584zM1256 2687l-8 3l-6 2l-6 4l-5 6l-2 6v4l2 4l4 4l7 4l6 2l9 2h9l8-1l8-2l6-3l4-4l3-6l1-6l-2-6l-5-6l-7-5l-8-2l-8-1l-10 1z"/><path fill="#004fff" d="M968 2112h608v584l-16 1l-14 3l-6 3l-3 3l-1 2l-1 4l2 4l3 2l8 4l12 3l16 1v356h-142l-2-3l-4-3l-6-1l-6 1l-4 3l-2 3h-442v-356l20 1h22l22-1l20-2l16-2l18-4l5-2l3-2l1-2v-2l-2-2l-11-4l-14-4l-16-2l-20-2l-22-1h-22h-20v-583zM1254 2687l-8 3l-6 3l-7 5l-3 4l-3 6l1 3l2 5l4 4l7 4l7 2l8 2h10l8-1l8-2l7-3l4-4l3-6l1-6l-2-6l-5-7l-8-5l-8-2h-10l-10 1z"/><path fill="#0054ff" d="M968 2112h608v584l-16 1l-13 3l-8 4l-3 2l-2 4l1 4l1 2l4 2l6 3l14 4l16 1v356h-135l-3-6l-4-4l-4-2l-6-1h-6l-6 3l-4 3l-4 7h-436v-356l42 1l24-1l20-2l17-2l17-4l6-2l3-2l1-2v-2l-3-2l-10-4l-15-4l-17-2l-21-3l-22-1h-22l-20 1v-583zM1260 2685l-8 2l-7 3l-7 3l-6 5l-5 6l-1 4v4l2 4l5 4l7 4l8 3l10 1l10 1l8-2l8-2l5-3l6-6l2-6v-4v-4l-3-6l-6-5l-8-4l-10-2h-10z"/><path fill="#0059ff" d="M968 2112h608v584h-16l-14 4l-8 4l-2 2l-2 4v4l2 2l4 3l5 3l15 3l16 1v356h-130l-3-6l-5-7l-6-3l-8-2l-8 1l-8 5l-5 6l-4 6h-431v-355h22h22l22-1l22-2l18-2l17-4l5-2l4-2l1-2l-1-3l-2-1l-10-4l-14-4l-18-3l-22-2l-22-1h-22l-22 1v-583zM1256 2685l-8 2l-8 4l-7 5l-4 4l-4 6v4l1 4l3 4l5 4l9 4l9 2l10 1h10l8-2l7-3l5-5l4-5l2-8l-1-6l-2-4l-3-3l-6-4l-10-4l-10-1l-10 1z"/><path fill="#005eff" d="M968 2112h608v583l-16 1l-14 3l-9 5l-3 2l-1 4v4l2 2l5 4l4 2l14 3l18 2v355h-126l-2-6l-2-4l-6-6l-8-5l-8-1l-10 2l-8 4l-7 8l-3 8h-428v-355l22 1l22-1l22-1l22-2l20-2l14-3l9-3l3-2l2-2l-1-2l-2-2l-10-4l-17-4l-18-3l-22-2l-22-1h-22h-22v-582zM1252 2685l-8 3l-6 4l-6 4l-6 6l-2 6v4l2 4l4 4l7 4l9 3l10 2h10l10-1l8-2l7-4l4-4l3-6l1-8l-1-4l-2-4l-6-6l-8-4l-10-2h-10l-10 1z"/><path fill="#0063ff" d="M968 2112h608v583l-16 1l-14 3l-6 2l-4 3l-2 2l-2 4l1 4l1 2l5 4l5 2l14 4l18 1v355h-123l-1-6l-2-4l-2-4l-4-4l-4-3l-6-3l-10-1l-10 1l-6 3l-4 3l-7 8l-5 10h-424v-355l44 1l24-1l22-2l21-3l13-3l10-4l3-1l2-2l-1-2l-2-2l-10-4l-18-4l-18-3l-22-2l-24-2h-22l-22 1v-582zM1260 2683l-10 2l-8 3l-8 5l-6 5l-4 6l-2 4v4l3 4l5 4l8 5l10 3l10 2h10l10-2l8-2l6-4l5-6l3-8v-4l-1-4l-4-6l-7-6l-8-3l-10-2h-10z"/><path fill="#0069ff" d="M968 2112h608v583l-18 1l-14 3l-9 5l-2 2l-2 4l1 4l2 3l4 3l6 2l14 4l18 1v355h-119l-3-11l-3-5l-4-4l-5-4l-6-3l-6-1l-6-1l-6 1l-6 2l-10 5l-4 5l-4 4l-3 6l-2 6h-421v-354h22h24l24-1l22-2l22-3l12-3l11-3l3-2l2-2l-1-2l-2-2l-10-4l-18-4l-19-3l-22-3l-24-1h-24l-22 1v-582zM1256 2683l-10 3l-8 4l-6 4l-7 6l-4 6v4l1 4l3 4l9 6l8 3l10 2l10 1h10l10-2l8-4l5-4l4-6l1-8v-4l-1-4l-5-6l-6-5l-10-3l-10-2l-12 1z"/><path fill="#006eff" d="M968 2112h608v582l-18 1l-14 3l-6 3l-4 3l-2 2l-2 4l1 4l1 2l5 4l5 2l8 3l8 1l18 2v354h-116l-1-6l-2-6l-3-5l-5-5l-5-5l-6-2l-6-2l-6-1l-8 1l-6 2l-6 2l-6 4l-4 5l-5 6l-3 6l-2 6h-418v-354h22h24l46-3l20-3l15-2l13-4l4-2l1-2v-2l-3-2l-10-4l-17-4l-21-4l-24-2l-24-1h-24h-22v-581zM1252 2683l-10 4l-8 4l-6 5l-6 6l-3 6v4l3 4l4 4l6 4l11 4l9 2l12 1l10-1l9-2l8-4l5-4l3-4l1-4l1-8l-1-4l-1-4l-5-6l-8-5l-10-3h-12l-12 1z"/><path fill="#0073ff" d="M968 2112h554l2 10l3 12l5 12l5 8l9 10l8 8l11 8l11 6v508l-18 1l-14 3l-6 2l-5 4l-2 2l-2 4l1 4l2 2l4 4l6 3l8 2l8 2l18 1v354h-113l-1-6l-2-7l-4-7l-4-5l-6-4l-6-3l-6-2h-8h-8l-6 2l-8 3l-6 5l-4 4l-5 6l-3 6l-2 8h-416v-354l22 1l24-1l24-1l24-2l20-2l16-3l14-4l3-2l1-2v-3l-2-1l-10-4l-18-4l-22-4l-22-2l-26-2h-24l-24 1v-581zM1260 2681l-8 2l-10 3l-8 4l-8 6l-5 6l-3 4v4v2l2 4l7 6l8 4l11 3l12 2h10l10-2l10-3l7-4l3-4l2-4l2-8l-1-8l-4-6l-7-6l-10-3l-8-2h-12z"/><path fill="#0078ff" d="M968 2112h510l7 16l10 18l6 8l9 10l18 16l17 14l17 10l14 8v481l-18 1l-15 4l-5 2l-6 3l-2 3l-2 4l1 4l3 4l4 2l6 3l8 3l8 1l18 1v354h-110l-1-8l-2-6l-3-6l-6-6l-5-4l-7-4l-8-2l-8-1l-8 1l-8 2l-8 4l-6 4l-5 6l-5 6l-3 6l-2 8h-413v-354l24 1h24l48-4l20-2l18-3l13-4l4-2l1-2v-2l-3-2l-10-4l-17-4l-24-4l-26-3l-24-1h-24l-24 1v-581zM1254 2681l-10 3l-8 4l-9 6l-6 6l-4 6l-1 4l1 4l4 4l9 6l9 4l11 2l12 1l12-1l10-2l8-4l5-4l3-4l2-4l1-8l-1-4l-1-4l-5-6l-8-5l-10-3l-8-1h-16z"/><path fill="#007dff" d="M968 2112h474l26 36l9 10l10 10l29 24l26 19l18 12l16 8v462l-18 1l-16 3l-6 3l-5 4l-2 2l-1 4v4l3 4l5 3l6 2l16 4l18 2v353h-107l-1-8l-3-8l-3-6l-5-6l-7-5l-8-4l-8-2l-8-1l-8 1l-8 2l-8 4l-7 5l-6 6l-4 6l-4 8l-2 8h-411v-353h24h24l26-1l24-2l20-3l19-3l14-4l3-2l2-2v-2l-3-2l-10-4l-18-4l-25-4l-26-3l-24-1l-26-1l-24 1v-580zM1252 2681l-8 2l-9 5l-9 6l-7 6l-4 6l-1 4l1 4l4 4l9 6l10 4l12 2l12 2l12-1l10-3l8-3l6-5l5-8l1-8l-1-4l-1-4l-3-4l-3-4l-6-3l-8-3l-12-2l-18 1z"/><path fill="#0082ff" d="M968 2112h441l35 38l20 18l80 62l18 12l14 6v445l-18 1l-16 3l-10 5l-4 4l-1 4l1 4l3 4l5 3l5 3l15 3l20 2v353h-105v-8l-3-8l-4-8l-5-6l-7-5l-8-4l-8-2l-10-1l-10 1l-8 2l-8 4l-6 5l-6 6l-6 8l-4 8l-2 8h-408v-353l24 1l26-1l26-1l25-2l21-3l19-3l14-4l3-2l2-2v-2l-3-2l-10-4l-18-4l-27-5l-26-2l-26-2h-26l-24 1v-580zM1248 2681l-8 3l-10 5l-8 7l-6 6l-4 6l1 4l2 4l5 4l11 6l11 3l12 2l12 1l12-2l10-2l7-4l6-6l3-8l1-6l-1-4l-1-4l-3-4l-6-6l-10-4l-12-2l-24 1z"/><path fill="#0087ff" d="M996 2114l2-2h377l19 15l35 31l63 46l50 40l18 12l16 8v428l-20 1l-16 4l-5 3l-5 3l-3 3l-1 4l1 4l3 4l4 3l6 3l16 4l20 1v353h-102l-1-10l-2-8l-3-6l-6-7l-8-6l-8-4l-8-3l-10-1l-10 1l-8 2l-8 4l-9 6l-7 6l-5 8l-4 8l-3 10h-406v-353l26 1l26-1l26-1l27-2l40-6l14-4l4-2l1-2v-2l-2-2l-11-4l-19-5l-28-4l-26-2l-28-2h-26h-24v-555l14-12l14-10zM1270 2678l-1 2h-5l-19 2l-7 2l-8 4l-10 8l-8 8l-2 4v2l1 4l7 6l11 6l12 4l10 2h11h12l10-3l9-3l7-6l3-6l2-4v-6l-1-8l-4-6l-8-6l-5-2l-11-2h-4v-1l-2-1z"/><path fill="#008cff" d="M1082 2114l4-2h250l16 8l16 10l38 28l58 39l32 23l54 44l14 10l12 5v413l-20 1l-16 4l-10 5l-4 4l-1 4l1 4l3 4l5 3l6 3l16 4l20 2v352h-99l-1-10l-2-8l-4-8l-6-7l-8-6l-8-4l-10-3l-10-1l-10 1l-10 2l-8 4l-8 6l-8 7l-6 9l-4 8l-2 10h-404v-353l26 1h26l28-2l28-2l41-6l14-4l4-2l2-2v-2l-2-2l-11-4l-20-5l-30-4l-26-3l-28-1l-26-1l-26 1v-507l17-10l55-38l18-10l24-12zM1270 2675l-2 2l-1 3l-9 1l-16 1l-14 7l-10 7l-8 8l-2 4v2l1 4l7 6l12 6l12 4l10 2l12 1l12-1l11-2l9-4l7-6l4-8l1-6v-4v-4l-2-4l-4-6l-7-4l-4-2l-9-1l-6-1l-2-4l-2-1z"/><path fill="#0091ff" d="M1157 2114l9-2h111l25 6l24 9l16 8l14 7l64 38l36 23l20 14l19 15l57 48l12 8l12 6v397l-20 2l-16 3l-6 2l-5 4l-4 4l-1 4l1 4l3 4l4 3l6 3l8 2l8 2l10 2h12v352h-97v-10l-3-10l-4-8l-6-7l-8-6l-10-5l-10-3h-10h-10l-10 3l-10 4l-8 6l-8 8l-5 8l-5 10l-2 10h-402v-352h26h28l28-2l28-2l43-6l15-4l4-2l2-2v-2l-2-2l-11-4l-21-5l-30-4l-26-3l-30-2h-28l-26 1v-478l12-7l46-31l45-23l31-18l12-6l14-6l29-8zM1270 2673l-3 3l-1 4l-8 1l-18 1l-14 7l-10 7l-8 8l-3 4v2l2 4l7 6l12 6l12 4l12 2l12 1l12-1l12-2l9-4l7-6l4-8l1-10l-2-8l-4-6l-7-5l-2-1l-10-1l-7-1l-1-4l-2-2l-2-1z"/><path fill="#0096ff" d="M1209 2126l21-1l20 1l20 2l18 4l18 5l16 6l24 10l24 11l26 14l26 14l22 14l20 13l18 13l16 14l54 48l12 8l12 6v383l-22 1l-16 4l-6 3l-4 3l-4 4l-1 4l1 4l3 4l5 4l6 2l16 5l22 1v352h-94v-10l-3-10l-4-8l-6-8l-9-7l-10-5l-10-3l-12-1l-12 2l-10 2l-10 5l-8 6l-8 8l-6 9l-4 9l-3 11h-399v-352l26 1l28-1l28-1l30-3l20-2l26-4l15-4l5-2l2-2v-2l-3-2l-11-4l-22-5l-32-5l-26-2l-30-2l-28-1l-28 1v-453l12-7l34-25l18-12l16-9l66-33l24-10l22-7l24-5l25-3zM1268 2673l-2 3l-1 4l-9 1l-18 1l-10 4l-14 10l-9 8l-3 4v4l2 2l5 4l11 6l14 5l14 3l14 1h12l12-3l10-4l6-6l5-8l1-10v-4l-2-5l-4-6l-8-5l-12-1l-6-1l-2-6l-2-2h-2l-2 1z"/><path fill="#009cff" d="M1217 2142l21-1l20 1l20 3l22 5l22 7l22 8l24 10l24 11l22 12l22 13l18 11l18 13l16 12l14 13l50 48l12 9l12 6v368l-22 1l-16 4l-6 2l-5 4l-4 4l-1 4l1 4l3 4l5 4l7 3l16 4l22 2v351h-92v-12l-2-10l-4-8l-7-8l-9-7l-10-5l-12-3l-12-1l-12 1l-10 3l-10 5l-10 7l-7 8l-7 9l-4 11l-3 10h-397v-352l28 1l28-1l28-1l30-3l23-2l26-4l16-4l5-2l2-3v-1l-2-2l-12-4l-22-5l-34-5l-32-3l-26-1l-30-1l-28 1v-430l14-10l34-28l18-13l18-10l54-28l26-11l30-9l28-6l27-3zM1268 2671l-2 3l-2 6l-8 1l-21 1l-9 4l-11 8l-13 10l-3 4l-1 2l1 2l1 2l6 4l12 6l16 6l14 2l14 2l12-1l12-3l10-4l3-2l4-4l4-8l2-10l-1-6l-1-4l-5-6l-6-4l-12-1l-7-1l-1-4l-2-4l-2-1h-2h-2z"/><path fill="#00a1ff" d="M1217 2156l21-1l22 1l20 2l22 5l22 6l24 8l24 10l26 12l22 12l20 11l18 12l16 12l14 12l15 14l49 50l12 9l12 7v352l-20 1l-10 2l-8 2l-6 3l-6 4l-4 4l-1 4l1 4l3 4l5 4l8 3l8 3l10 2l20 1v351h-89v-12l-2-10l-5-10l-6-7l-9-7l-11-6l-12-3l-12-1l-12 1l-12 3l-10 4l-10 7l-8 9l-7 10l-5 10l-3 12h-395v-351h30l30-1l32-2l32-2l32-4l22-4l13-4l3-2v-2l-3-2l-5-2l-16-4l-28-5l-34-4l-28-3l-28-1h-26h-26v-407l14-10l34-32l18-15l18-11l48-27l26-11l30-10l32-7l29-3zM1270 2669l-2 1l-2 2l-2 4v4l-10 1l-21 1l-5 2l-12 8l-20 14l-3 4l1 2l2 2l7 4l18 8l13 4l14 3l14 1l12-1l12-2l10-5l7-4l5-8l2-10v-6l-1-4l-4-6l-7-6l-14-1l-7-1v-4l-2-4l-3-3h-2z"/><path fill="#00a6ff" d="M1209 2168l23-2h24l22 3l24 4l24 6l24 8l24 9l26 13l22 11l20 12l18 13l16 12l14 13l14 14l38 41l12 13l12 9l10 6v337l-22 1l-10 2l-8 2l-6 3l-5 4l-3 4l-1 4v4l3 4l5 4l7 3l8 3l10 2l22 1v351h-87l1-12l-3-12l-5-10l-6-7l-9-7l-11-6l-12-3l-14-1l-12 1l-12 3l-12 5l-10 7l-9 10l-7 10l-4 10l-3 12h-393v-351h30h30l32-2l36-3l33-4l24-4l22-6l3-2l-23-6l-21-4l-56-8l-28-2l-30-2h-26l-26 1v-384l6-4l8-7l33-36l17-16l18-13l44-27l24-12l28-10l32-8l31-4zM1268 2669l-2 2l-2 3l-1 6l-9 1l-23 1l-35 21l-12 6l-3 1l2 2l42 16l11 3l10 2l14 1h12l12-2l10-4l5-2l4-4l5-8l2-6l1-6v-6l-2-4l-4-6l-5-4l-14-1l-8-1l-1-6l-3-4l-2-2h-2l-2 1z"/><path fill="#00abff" d="M1209 2178l25-2h24l24 3l24 4l24 6l24 8l26 11l26 12l20 11l18 11l18 13l16 13l14 13l14 15l38 45l10 11l12 11l10 5v321l-22 1l-10 2l-8 3l-7 3l-6 4l-2 4l-1 4l1 4l2 4l5 4l8 3l8 3l10 2l22 2v350h-84v-12l-2-12l-4-10l-7-8l-9-8l-12-5l-14-4l-14-1l-12 1l-12 3l-12 5l-10 7l-10 10l-7 10l-5 12l-3 12h-391v-351h46l50-2l55-5l51-8l10-1l8 1l8 2l27 10l15 4l16 2h14h9l9-2l12-5l4-3l4-4l2-5l3-5l1-8v-6l-2-6l-4-4l-4-4l-16-1l-7-1l-1-5l-2-4l-2-3l-4-1l-2 1l-3 4l-3 8l-10 1l-24 1l-32 18l-8 3l-8 2l-10-1l-64-9l-46-5l-46-2h-46v-359l6-4l8-8l32-41l18-19l18-15l40-26l24-13l14-6l14-5l34-9l33-5z"/><path fill="#00b0ff" d="M1221 2186l25-1l24 1l24 3l24 5l24 7l26 9l24 11l24 12l18 11l18 12l16 13l14 12l14 14l12 15l36 46l10 12l12 11l10 6v304h-12l-12 1l-10 2l-8 3l-6 3l-6 4l-3 4v4l1 4l4 5l6 4l6 3l8 3l10 2l22 1v350h-81v-12l-2-12l-4-10l-3-5l-5-5l-11-8l-12-6l-14-3l-14-1l-14 1l-12 3l-12 6l-10 7l-10 10l-7 11l-5 12l-3 12h-389v-351l44 1l47-2l47-4l60-8l14-1l10 1l8 2l29 10l13 3l14 2h14l16-3l8-2l6-3l5-3l4-4l2-4l3-6l1-8v-6l-2-6l-3-5l-4-3l-16-1l-9-1l-1-7l-2-4l-2-2l-4-1l-3 2l-3 3l-2 9l-10 1l-26 1l-28 15l-8 3l-10 2h-12l-62-8l-54-5l-44-2l-40 1v-332l6-4l8-9l31-47l9-13l10-11l9-8l9-8l42-30l13-8l13-7l14-6l14-5l18-5l20-5l18-3l19-1z"/><path fill="#00b5ff" d="M1226 2194l24-1l24 1l24 4l24 5l26 8l24 9l26 12l24 13l18 11l16 12l14 12l14 13l12 13l13 16l35 48l10 13l12 12l10 6v287h-12l-12 2l-8 1l-10 3l-8 4l-4 3l-4 5v4l1 4l3 4l4 4l8 4l8 2l10 3l12 1l12 1v349h-79l1-14l-2-12l-4-10l-8-10l-10-8l-12-5l-14-4l-16-2l-14 1l-14 4l-12 5l-12 9l-9 10l-7 10l-5 12l-4 14h-387v-350h42l44-2l40-3l70-7l16-1l16 2l30 9l16 3l14 2h12l16-2l8-3l6-2l6-5l4-3l5-10l1-8v-6l-2-6l-4-6l-2-2l-18-1l-8-1l-1-6l-3-6l-2-2l-4-1l-4 2l-2 2l-2 5l-1 6l-11 1l-26 1l-26 14l-8 2l-10 2h-16l-64-8l-50-4l-42-1h-40v-298l6-4l8-11l29-56l10-16l9-12l8-9l10-10l40-31l14-11l13-7l15-7l16-6l20-6l20-4l20-4l20-1z"/><path fill="#00baff" d="M1225 2202l25-1l26 1l26 4l24 5l26 8l26 11l24 11l24 14l16 11l16 12l14 12l14 14l13 16l12 16l33 49l10 14l12 14l10 6v269h-12l-12 1l-10 2l-10 3l-7 4l-5 3l-3 5v4l1 4l4 5l6 4l6 3l8 3l10 2l24 2v349h-76l1-14l-2-12l-3-10l-4-6l-4-5l-10-7l-14-7l-16-4l-16-2l-14 1l-14 4l-13 6l-11 8l-10 10l-8 12l-6 12l-3 14h-385v-350h40l42-1l44-3l72-7l14-1l8 1l10 1l32 9l12 3l14 1h12l18-2l8-3l6-3l5-3l4-4l3-6l2-6l2-8l-1-6l-2-6l-3-5l-2-1l-18-1l-10-1l-1-6l-3-6l-2-3l-4-1l-4 2l-2 2l-2 6l-2 6l-10 1l-29 1l-23 12l-8 3l-10 1h-18l-72-7l-48-4l-38-1l-36 1v-254l4-2l2-2l6-9l6-14l19-52l13-28l7-12l7-10l8-10l8-8l42-38l12-8l10-7l10-6l12-5l28-9l32-8l31-3z"/><path fill="#00bfff" d="M1221 2210l25-2l26 1l26 4l26 5l28 9l26 10l26 13l23 14l17 11l16 13l14 13l13 15l11 14l13 18l33 53l10 15l12 14l6 5l4 3v249l-24 1l-10 2l-10 3l-6 3l-6 4l-4 6v4l2 6l3 4l6 4l7 3l8 2l10 2l24 2v349l-74-1l2-13l-2-14l-4-11l-7-9l-11-9l-14-6l-16-4l-18-2l-16 2l-14 4l-12 5l-12 9l-10 10l-8 12l-6 13l-3 14h-383v-350l38 1l40-2l54-3l62-6l18-1l18 2l31 9l15 2l14 2h12l18-4l8-2l6-3l4-4l4-3l3-6l2-6l2-8v-6l-2-6l-5-6l-20-1l-9-1l-1-6l-3-6l-3-4l-4-1l-4 2l-2 3l-3 6l-1 6l-12 1l-30 1l-14 7l-8 4l-8 2l-10 2l-20-1l-66-6l-50-3l-38-1h-36v-181l2 1l2 1l2-1l3-4l3-7l4-15l13-62l8-30l10-30l11-26l12-19l14-17l40-38l10-9l11-7l9-6l12-6l26-9l30-7l31-4z"/><path fill="#00c4ff" d="M1215 2218l27-2h26l26 3l28 6l28 8l26 10l28 14l24 15l17 12l15 12l14 14l14 16l11 16l12 18l35 60l10 16l10 13l6 6l4 2v229l-24 2l-12 2l-8 2l-7 4l-6 4l-3 4l-1 6l2 6l3 4l6 4l6 3l10 3l10 2l24 2v348h-71l2-14l-1-14l-2-6l-3-6l-7-10l-5-4l-6-4l-15-7l-16-4l-18-2l-16 1l-14 4l-14 6l-12 8l-12 12l-8 12l-6 14l-3 14h-381v-349h36l40-1l42-3l76-6l16-1l10 1l10 1l32 8l14 3l14 1h12l10-1l10-3l7-2l8-4l4-4l3-4l5-12l1-8v-6l-3-6l-3-4l-22-1l-9-1v-6l-3-7l-4-4l-4-1l-4 2l-3 4l-3 6l-1 6l-11 1l-32 1l-20 9l-8 3l-10 1h-22l-72-6l-42-3l-38-1l-36 1v-127l6 2l6-3l6-7l4-9l4-20l8-70l7-40l5-20l5-20l6-16l7-15l11-17l14-18l33-36l11-10l11-9l10-6l10-5l24-10l30-8l29-4z"/><path fill="#00c9ff" d="M1227 2224l27-1l26 1l26 4l26 6l28 10l26 11l26 14l22 15l16 12l14 13l14 15l12 16l11 16l12 20l33 61l10 17l10 15l6 6l4 3v208l-24 1l-10 2l-12 3l-7 4l-5 4l-3 4l-1 6l2 6l3 4l6 4l7 3l10 3l10 2l24 2v348h-69l3-16l-1-14l-2-6l-3-6l-6-9l-6-5l-6-4l-14-6l-18-5l-20-2l-16 1l-16 4l-14 7l-12 8l-10 11l-10 14l-6 14l-3 14h-379v-349h36l38-1l116-8l20-1l20 2l34 8l12 2l14 1h12l18-3l10-3l6-3l4-3l4-4l3-6l3-8l2-8l-1-6l-2-6l-2-4l-23-1l-10-1l-2-8l-2-6l-4-4l-4-1l-4 2l-4 5l-2 6l-1 6l-11 1l-35 1l-11 5l-8 3l-8 2l-8 1h-22l-84-6l-36-2l-36-1l-32 1v-103l6 1l4-1l4-1l4-3l4-4l4-6l6-14l2-8l2-12l7-76l6-40l5-22l5-18l6-16l7-14l13-20l35-44l15-16l15-12l10-6l12-6l26-9l30-7l31-4z"/><path fill="#00cfff" d="M1218 2232l28-2h28l28 4l26 6l28 9l28 12l26 14l24 17l17 14l15 14l13 16l13 17l12 19l11 20l41 81l10 16l10 12v184l-24 1l-12 3l-8 2l-8 3l-6 4l-4 5l-1 5l1 6l2 4l6 5l8 4l10 3l10 2l12 2h14v348h-66l3-16l-1-14l-1-6l-2-6l-4-6l-3-4l-6-6l-6-4l-16-6l-18-5l-20-2l-18 1l-16 4l-14 7l-13 9l-11 11l-9 13l-6 14l-4 16h-377v-349h34l38-1l118-7l20-1l12 1l10 1l44 10l14 1l12-1l10-1l10-2l10-3l7-4l4-4l3-4l6-14l1-6v-6l-2-6l-2-4l-25-1l-10-1l-1-8l-3-6l-4-5l-4-1l-4 2l-4 4l-2 6l-2 8l-12 1l-37 1l-9 4l-8 3l-8 2l-8 1h-24l-76-6l-40-2h-36h-32v-85h6l6-1l6-2l4-3l5-5l5-8l4-7l4-9l3-10l2-12l6-78l6-40l5-20l4-16l6-15l8-15l25-40l16-24l13-16l14-12l10-6l10-6l24-10l28-7l30-5z"/><path fill="#00d4ff" d="M1228 2238l26-2l28 2l28 4l28 8l28 10l26 12l26 16l22 16l16 14l14 15l13 17l13 20l10 18l11 22l43 90l8 15l8 12v157l-14 1l-12 1l-12 2l-8 3l-8 3l-5 4l-3 4l-2 6l1 6l3 4l6 6l8 4l10 3l10 2l26 2v347h-63l3-18v-14l-1-6l-3-6l-3-6l-4-4l-4-4l-7-5l-8-4l-9-3l-21-5l-20-2l-18 1l-16 4l-14 6l-14 10l-12 12l-9 14l-6 14l-4 16h-375v-349l34 1l36-1l116-7l24-1l22 2l44 9l14 1h12l10-1l12-3l9-3l7-4l4-4l3-4l6-14l1-6l1-6l-1-6l-3-4l-25-1l-11-1l-1-8l-3-6l-3-4l-2-2h-4l-4 1l-4 5l-3 6l-1 8l-12 1l-40 1l-15 6l-15 2h-24l-86-5l-36-2h-32l-30 1v-71l6 1l6-1l6-2l7-5l5-5l6-8l6-9l4-10l5-14l2-14l8-84l4-26l5-22l6-19l7-17l20-40l12-22l12-18l11-14l12-11l16-9l20-10l24-8l24-5l26-3z"/><path fill="#00d9ff" d="M1241 2244h27l28 3l28 6l26 8l26 10l26 14l24 16l20 17l14 14l14 16l12 18l13 22l12 22l12 26l43 100l6 12l4 5v131h-14l-12 1l-10 2l-12 3l-7 4l-6 4l-3 4l-2 6l2 6l4 6l5 4l7 4l10 3l10 2l14 2h14v347h-60l4-18v-8v-8l-1-6l-3-6l-3-6l-4-4l-4-4l-7-5l-8-4l-10-3l-22-6l-22-1l-18 1l-16 4l-16 7l-14 10l-12 13l-9 14l-6 14l-4 16h-373v-348h32l36-1l118-7h24l22 2l32 6l14 3h14h12l10-2l10-2l10-3l7-4l4-4l3-4l7-16l1-6l1-6l-1-4l-2-4l-28-1l-11-1l-1-8l-2-6l-4-5l-2-1l-4-1l-4 1l-5 6l-2 6l-2 8l-13 1l-43 1l-13 5l-14 2h-24l-118-6l-34-1l-30 1v-55h8l8-2l8-5l8-7l8-10l8-12l6-12l5-14l3-12l2-12l5-52l3-22l4-21l4-17l9-30l16-44l11-26l11-20l10-14l11-12l14-10l16-9l22-8l24-7l24-4l25-2z"/><path fill="#00deff" d="M1226 2252l30-2l28 2l28 4l28 8l28 11l28 14l24 15l22 18l16 16l14 17l14 20l12 22l13 27l14 32l14 34l23 60l6 12l8 11v110l-26 1l-12 2l-10 3l-8 4l-6 4l-3 5l-2 6l2 6l4 6l5 4l8 4l10 3l10 2l14 2l14 1v346h-57l4-20l1-8v-8l-1-6l-2-6l-3-6l-4-4l-5-4l-7-5l-8-4l-11-3l-23-6l-22-1l-18 1l-18 4l-16 7l-14 10l-13 13l-10 14l-7 16l-3 16h-371v-348h32l34-1l120-6h22l24 1l46 9l14 1l12-1l11-1l11-3l9-3l7-4l4-4l3-4l8-18l2-10l-1-4l-1-4l-29-1l-12-1l-2-10l-3-6l-5-5l-4-1l-4 1l-5 5l-3 7l-1 9l-13 1l-48 1l-12 3l-12 2h-24l-114-5l-40-1l-26 1v-39l8 1l4-1l6-3l8-5l10-11l10-13l11-17l18-32l6-14l2-8l3-16l9-86l8-44l6-24l6-20l7-18l9-16l9-14l10-10l12-10l14-8l18-7l22-7l20-5l22-3z"/><path fill="#00e3ff" d="M1237 2258l27-1l28 3l28 5l28 9l26 11l26 14l24 16l20 17l14 16l14 17l12 19l12 22l15 30l14 34l12 32l15 44l5 14l9 15l5 7l5 5v95h-16l-14 2l-12 2l-8 3l-8 4l-6 5l-3 4l-1 6l2 6l4 6l6 5l8 4l9 3l11 2l14 1l14 1v346h-55l6-20l1-16v-8l-2-6l-4-6l-3-4l-5-5l-8-5l-18-6l-24-5l-24-2l-20 1l-18 4l-16 7l-14 9l-8 7l-6 7l-10 14l-7 16l-2 8l-2 10h-369v-348h30h34l116-6l28-1l24 2l46 8l14 1l12-1l12-1l9-2l11-4l7-4l4-4l3-4l9-20l2-8v-4l-1-4l-32-1l-12-1l-1-8l-3-8l-4-5l-2-1l-4-1l-4 1l-2 1l-3 5l-4 8l-1 8h-6l-60 2l-14 3l-18 1l-100-4l-90-2v-13l6 2l4-2l6-4l6-6l16-19l30-41l8-8l14-12l4-5l2-5l3-9l2-12l4-98l2-28l3-24l5-24l6-20l7-18l9-16l9-12l10-10l14-10l16-8l20-8l20-6l22-4l21-2zM1256 2377v4l14-1l16-1v-2h-30z"/><path fill="#00e8ff" d="M1227 2266l27-2l28 1l28 5l28 7l28 11l26 14l25 16l21 18l16 16l13 16l13 19l12 22l15 31l14 34l12 34l15 46l5 14l5 8l6 9l6 7l6 5v84l-20 1h-8l-12 3l-12 3l-8 4l-6 6l-2 4l-1 6l1 6l5 6l5 4l8 4l9 4l11 2l14 2h16v346h-52l7-22l2-16v-8l-2-6l-3-6l-4-5l-6-5l-6-3l-8-4l-12-3l-26-6l-26-1l-20 1l-18 4l-17 8l-15 10l-7 6l-7 7l-10 15l-7 16l-2 8l-2 10h-367v-347l62-1l118-5l28-1l24 2l46 8h14h14l20-4l11-4l7-5l4-3l3-4l11-24l2-6l-1-6l-33-1l-13-1l-2-10l-3-7l-4-5l-2-1l-4-1l-4 1l-5 5l-4 8l-1 10h-4l-71 2l-13 1l-14 1l-64-2l-89-2l1-8l3-10l8-14l9-15l8-11l8-8l6-5l14-9l4-3l6-9l4-10l2-12l2-16l3-94l2-28l2-22l4-22l5-20l6-18l7-16l8-12l9-11l12-10l14-8l18-8l20-7l20-5l21-3zM1256 2377v18l16-2l14-2v-14h-30zM1076 2790l-2 2l-1 4l-1 10v4l1 4l1 1l2 1l3-4l1-11v-3l-2-6l-2-2z"/><path fill="#00edff" d="M1238 2272l26-1l28 2l28 6l26 8l26 11l26 15l22 15l20 18l14 15l12 15l12 19l12 21l13 28l14 34l12 34l14 44l7 18l6 11l6 8l6 7l8 6v75l-31 1l-19 4l-8 3l-6 5l-5 6l-1 6v6l4 6l6 6l8 4l10 4l12 2l14 2l16 1v345h-49l6-14l3-12l2-10v-10l-1-8l-3-6l-4-6l-6-4l-6-4l-8-3l-20-5l-26-4l-22-2l-22 2l-18 4l-18 8l-15 10l-7 6l-7 8l-6 8l-5 8l-7 16l-3 8l-1 10h-365v-347l62-1l116-5h28l26 1l34 6l14 2l14 1l14-1l12-3l13-3l9-4l6-4l6-8l12-26l1-8l-37-1l-13-1l-1-10l-4-8l-4-5l-2-1l-4-1l-4 1l-2 2l-4 4l-3 8l-2 10h-3l-20 1l-82 1l-62-1l-73-1l1-8l2-10l4-9l6-9l6-8l6-6l6-4l12-7l6-5l6-9l6-17l3-16l2-18l3-94l2-28l2-24l4-20l4-20l6-18l7-14l9-14l10-10l12-10l15-8l19-9l20-6l22-5l22-2zM1256 2377v34l16-4l14-3v-27h-30zM1076 2776l-2 2l-2 3l-2 5l-2 10l-1 8l1 10l1 8l2 6l3 2h2l2-2l3-4l2-10l1-10v-12l-2-9l-2-5l-2-2h-2z"/><path fill="#00f2ff" d="M1230 2280l26-2l28 1l28 5l26 7l26 11l26 14l24 15l21 19l13 14l14 17l12 18l11 19l14 30l14 32l12 34l13 44l7 20l7 12l6 8l8 8l10 7v68l-40 1l-10 2l-10 4l-6 5l-5 7l-1 6l1 4l1 4l4 6l6 5l8 4l10 3l12 3l14 1l16 1v345h-45l9-26l3-10l1-10v-8l-3-8l-4-6l-5-5l-6-3l-6-3l-20-5l-30-4l-26-2l-22 2l-20 4l-18 8l-16 10l-14 14l-6 8l-6 8l-5 10l-3 8l-2 8l-1 10h-363v-347h60l112-5l34-1l24 2l50 7l14 1l14-1l13-2l14-4l8-4l6-4l6-8l12-24l3-6l1-4l-39-1l-14-1l-2-10l-3-8l-5-6l-2-1l-4-1l-4 1l-2 2l-4 4l-4 9l-1 10h-3l-24 1h-82h-48l-70-1l2-12l2-6l4-6l4-6l4-3l16-11l6-6l4-6l4-8l5-16l4-18l2-22l3-94l2-30l2-22l4-20l4-18l4-16l6-14l8-13l10-11l10-9l14-9l17-8l19-8l20-5l22-3zM1256 2377v1v49l16-5l14-4v-40l-30-1zM1076 2767l-2 2l-2 2l-4 10l-2 13l-2 14l1 12l2 10l3 7l2 2h2h2l2-2l2-2l3-5l3-13l1-13v-14l-3-14l-2-4l-2-3l-2-2h-2z"/><path fill="#00f7ff" d="M1246 2286l26-1l26 3l26 6l24 8l24 11l24 14l22 16l18 16l16 18l13 19l14 22l12 24l11 23l9 25l10 28l13 44l5 14l6 12l6 10l7 8l8 8l10 6v61l-49 1h-3l-10 5l-6 5l-4 6l-1 8l2 8l4 6l5 4l8 5l10 3l12 3l16 2l16 1v344h-42l7-16l5-14l3-10l1-10v-8l-3-8l-4-6l-4-4l-11-6l-18-4l-36-4l-28-2l-24 2l-20 4l-18 7l-16 11l-8 6l-7 8l-7 8l-6 10l-5 10l-3 8l-3 10l-1 8h-360v-347h60l112-5h34l24 1l50 8h16l14-1l13-2l13-4l8-4l6-4l5-6l7-14l11-16l3-6l-44-1l-14-1l-1-10l-4-8l-5-7l-6-2l-6 3l-4 4l-2 4l-2 6l-2 10h-2l-22 1h-78h-50l-56-1l2-6l2-4l14-16l8-14l6-15l5-21l4-20l2-22l3-86l2-30l2-24l3-22l4-18l5-16l6-14l8-13l10-11l14-12l16-9l20-9l20-6l22-4l22-2zM1256 2377l-1 1l1 65l16-6l14-5l1-54l-1-1h-30zM1074 2761l-4 6l-4 13l-3 16l-1 18l1 14l3 11l4 7l4 1l4-1l2-3l5-9l3-14l2-18l-2-20l-4-14l-4-7l-2-1h-2l-2 1z"/><path fill="#00fcff" d="M1240 2294l26-1l26 2l24 5l26 7l24 11l25 14l21 14l20 18l16 18l14 18l13 22l13 24l10 22l9 24l10 28l13 46l6 14l5 12l7 10l8 10l10 8l10 6v55l-58 1l-8 4l-5 6l-3 6l-1 6l2 8l3 6l6 6l8 5l10 3l12 3l16 2l18 1v344h-39l14-31l3-11l2-10v-8l-1-8l-3-6l-6-6l-10-5l-16-4l-44-4l-28-1l-24 1l-12 2l-10 3l-10 3l-9 5l-9 5l-8 6l-8 7l-8 8l-6 8l-7 10l-4 8l-4 10l-2 8l-1 10h-358v-346l58-1l114-4l34-1l26 2l48 7h16l14-1l21-4l11-4l7-4l6-6l11-19l15-19l-47-1l-15-1l-2-10l-3-8l-3-4l-3-3l-6-2l-6 2l-5 5l-3 8l-3 12h-19l-72 1h-54l-40-1l14-49l7-33l4-36l2-76l4-52l3-20l3-18l4-16l5-14l8-15l10-13l12-11l14-9l18-9l20-7l22-5l22-3zM1256 2377l-1 1l1 66h30l1-66l-1-1h-30zM1074 2755l-4 5l-2 4l-4 14l-3 20l-1 18l1 16l3 13l4 7l2 2h4l4-2l2-2l3-4l3-7l4-17l2-20v-10l-2-12l-4-16l-2-5l-4-4l-2-1h-2l-2 1z"/><path fill="#03fffc" d="M1238 2302l26-2l24 2l26 5l24 7l24 10l24 13l22 15l20 18l16 16l15 20l13 20l13 26l10 22l9 22l9 26l13 46l6 14l6 13l8 12l8 9l10 8l12 8v49l-69 1l-6 10l-2 10l2 8l4 8l5 6l8 5l10 3l14 4l16 1l18 1v344h-35l15-32l4-12l3-10v-10l-2-8l-3-7l-6-6l-10-5l-14-3l-76-3l-26 1l-22 4l-10 4l-10 4l-8 5l-9 6l-9 7l-9 9l-6 8l-7 10l-5 10l-4 10l-2 8l-1 10h-356v-346h56l108-4l40-1l26 1l50 7l16 1l14-2l22-4l11-4l7-4l6-6l8-14l6-8l8-8l11-8l-53-1l-17-1l-1-10l-4-10l-2-3l-4-3l-6-2l-6 2l-6 6l-3 8l-2 12h-19l-70 1h-54l-32-1l12-62l4-32l2-28l3-76l4-50l6-32l4-14l5-12l7-14l9-13l12-11l14-9l18-10l20-7l20-5l20-3zM1256 2377l-1 1l1 66h30l1-66l-1-1h-30zM1072 2751l-2 3l-4 8l-4 16l-3 20l-1 20l1 18l3 13l4 8l2 3l4 1l4-1l4-3l4-6l3-7l3-10l2-10l2-22l-1-12l-1-12l-2-10l-4-11l-3-5l-11-1z"/><path fill="#08fff7" d="M1240 2310l26-2l24 2l26 5l24 7l24 11l23 13l21 14l20 18l16 17l14 19l12 20l13 24l9 19l8 21l8 24l15 50l7 16l6 12l8 12l9 10l11 8l12 7v43l-85 2l3 2l2 4l2 16l3 10l5 7l6 5l11 6l13 3l18 2l22 2v343h-32l11-20l7-14l4-12l3-10v-10l-2-10l-3-7l-6-7l-4-2l-6-3l-14-3l-78-1l-28 2l-22 4l-12 3l-10 5l-9 5l-9 6l-10 8l-8 8l-8 10l-7 10l-4 8l-4 10l-3 10l-1 10h-353v-346h54l110-4l40-1l26 2l50 7h16l14-1l12-2l11-3l11-5l7-3l6-6l9-14l8-9l12-9l14-6l-62-1l-18-1l-2-11l-4-10l-3-3l-3-3l-6-2l-6 2l-3 3l-3 3l-4 9l-2 12h-18l-66 1h-52l-32-1l3-18l8-50l3-28l2-26l2-64l4-46l2-18l3-18l5-16l4-12l7-14l9-13l12-12l14-10l18-9l18-7l20-6l22-3zM1256 2376l-1 2l1 66h30l1-66l-1-2h-30zM1068 2751l-5 15l-4 20l-3 22v20l2 16l3 12l3 6l2 3l2 1l4 2l2-1l4-2l4-4l4-7l3-8l3-11l2-13l2-14v-12l-1-12l-2-12l-3-12l-3-8l-19-1z"/><path fill="#0dfff2" d="M1246 2318l24-1l24 2l24 5l24 7l22 10l22 13l22 15l18 16l16 17l14 19l13 21l12 22l8 18l8 20l8 22l15 50l6 16l6 12l8 12l10 10l12 10l14 9v37l-118 2l12 1l10 1l6 3l4 2l3 5l5 16l4 8l6 6l8 5l10 4l12 3l16 2l22 1v343h-28l16-28l5-10l3-10l3-10v-8v-8l-3-8l-2-5l-4-5l-8-6l-6-2l-6-2l-14-1l-40 2h-42l-20 1l-12 2l-12 2l-12 4l-10 4l-12 7l-12 9l-11 10l-10 12l-8 12l-7 14l-4 12l-1 12h-351v-345l54-1l110-3l40-1l26 1l50 7h14l14-1l12-2l15-3l10-4l8-4l6-6l7-12l6-7l6-5l8-5l10-4l8-3l21-2l-81-1l-24-1l-2-12l-4-10l-6-6l-6-2l-6 2l-6 6l-4 10l-2 12h-18l-64 1l-50-1h-30l2-18l6-52l3-28l2-24l2-56l3-42l3-22l4-18l4-16l5-14l8-15l9-11l13-12l14-10l18-9l19-7l21-6l20-2zM1256 2376l-1 2v66h1h30l1-66l-1-2h-30zM1066 2751l-1 1l-1 4l-3 10l-4 24l-3 24v20l2 16l4 13l2 5l4 4l2 1l4 1h2l4-3l4-4l4-7l4-10l4-14l2-14l2-14l-1-14l-2-22l-3-12l-3-8l-23-1z"/><path fill="#12ffed" d="M1238 2328l26-2l26 1l26 5l24 7l24 10l24 14l22 17l20 18l14 16l13 18l12 20l11 21l9 21l8 20l21 66l5 14l7 12l8 12l11 12l13 10l14 8v32l-82 1h-96h-70l-36-1h-4l-1-12l-5-11l-6-6l-6-2l-6 2l-4 3l-3 4l-4 10l-2 12h-17l-60 1l-79-1l2-24l8-76l3-70l3-36l3-22l3-18l4-16l5-15l8-15l8-12l10-11l14-11l16-9l18-8l18-6l20-3zM1256 2376l-1 2v66h1h30h1v-66l-1-2h-30zM1385 2686l23-2h32l24 2l14 2l6 2l4 4l3 4l6 14l3 6l6 6l8 6l10 3l12 3l18 2l22 2v253l-6-8l-8-6l-10-4l-12-1h-12l-36 3l-58 3l-20 2l-18 5l-16 7l-14 9l-14 11l-11 12l-11 14l-7 14l-5 14l-2 14h-348v-345h54l106-4h42l28 1l50 6l14 1l14-1l22-5l12-3l9-4l8-6l11-17l10-8l8-5l10-3l19-3zM1064 2751l-1 1v2l-3 12l-5 28l-3 24l1 22l2 16l4 14l3 5l3 3l3 2h4l6-2l4-5l6-10l4-11l4-14l2-16l1-16v-14l-3-22l-4-18l-28-1zM1575 3040l1-2v44h-25l16-26l8-16z"/><path fill="#17ffe8" d="M1253 2336l23-1l24 2l24 6l24 8l22 10l22 14l20 15l18 17l14 16l12 17l12 20l10 19l8 18l7 19l21 66l6 14l6 12l10 13l10 11l14 12l16 10v26l-82 1h-94h-72l-36-1h-3l-1-8l-1-6l-5-10l-6-6l-6-2l-4 1l-4 2l-6 7l-4 10l-2 12h-16l-58 1l-76-1l1-26l8-76l2-62l3-34l3-20l3-20l5-16l5-15l8-15l10-14l12-11l16-12l18-9l18-7l20-5l21-2zM1256 2376l-1 2v66h1h30h1v-66l-1-2h-30zM1393 2688l23-1h28l20 2l12 2l6 3l6 4l2 3l6 13l4 6l6 6l6 4l10 4l14 2l18 3l22 1v242l-8-6l-8-4l-10-3h-10l-48 5l-62 4l-20 3l-18 6l-16 7l-14 9l-13 11l-11 12l-10 14l-9 16l-4 12l-2 14h-345v-345h52l104-3l46-1l28 1l50 7h14l12-1l24-4l13-4l9-4l8-6l9-12l5-6l6-5l8-4l16-5l21-2zM1062 2751l-1 1v2l-3 13l-5 31l-2 24v22l2 18l4 14l3 4l4 4l2 2l4 1l6-2l6-6l6-9l4-11l4-15l4-18l1-16v-16l-3-22l-4-20l-32-1zM1266 2751l-1 3l1 4l2 1l2-3v-2l-1-2l-3-1zM1575 3050l1-2v34h-21l12-18l8-14z"/><path fill="#1cffe3" d="M1255 2346l23-1l24 2l22 5l23 8l21 9l22 13l20 15l18 17l14 16l12 16l11 18l10 20l8 18l7 17l21 65l5 12l6 11l10 16l12 13l14 12l18 12v20l-82 1h-90h-74l-38-1h-3l-2-14l-2-6l-3-5l-6-6l-6-2l-4 1l-4 2l-6 7l-4 11l-2 12h-70h-75l1-26l6-76l3-56l2-30l3-22l4-20l4-14l6-16l8-15l10-13l13-12l15-11l16-8l18-7l20-6l21-2zM1256 2376l-2 2l1 66h1h30h1l1-66l-2-2h-30zM1397 2690l23-1l26 1l16 1l12 2l6 3l6 4l4 5l6 11l4 6l6 5l6 4l10 3l14 3l18 2l22 1v234l-8-5l-8-3l-10-2h-10l-50 7l-46 3l-18 2l-20 4l-18 6l-16 8l-14 9l-12 11l-13 14l-10 14l-7 14l-5 14l-1 12h-342v-81l4 5l4 2l2 1l4-1l4-2l4-6l3-6l2-8v-8v-8l-2-8l-3-8l-4-5l-4-3h-4h-2l-4 3l-4 5v-216l52-1l104-3h46l28 1l50 6h14l12-1l12-1l13-3l13-4l9-4l9-6l8-12l4-4l6-5l8-4l16-5l25-2zM1060 2751l-5 23l-4 30l-2 24v22l2 18l2 8l3 6l2 4l4 4l4 3h4l6-2l6-6l6-9l6-16l5-18l3-18l1-16v-16l-3-21l-4-19l-36-1zM1264 2751l-1 5l1 3l2 3l2 1l3-3v-4v-4l-7-1zM1575 3058l1-1v25h-17l16-24z"/><path fill="#21ffde" d="M1273 2356h21l22 4l20 5l20 8l20 10l20 13l18 14l16 15l12 14l12 17l10 16l10 19l7 17l6 16l21 62l6 14l6 12l9 14l11 12l14 12l22 17v13l-84 1h-86h-76l-38-1h-2l-2-14l-5-10l-5-7l-4-2l-4-1l-4 1l-4 2l-3 3l-3 4l-5 10l-2 14h-65h-74l1-32l5-72l2-50l3-26l3-24l4-18l5-16l6-14l9-15l12-14l14-12l17-11l19-9l20-6l20-4l23-1zM1256 2376l-2 2l1 66l1 1h30l1-1l1-66l-2-2h-30zM1396 2692l24-1l24 1l16 1l12 2l6 2l6 4l4 4l8 13l4 6l5 4l7 4l12 3l13 3l19 1l20 2v226l-8-4l-8-3l-10-1l-10 1l-50 8l-50 4l-18 2l-18 4l-18 7l-16 8l-14 9l-13 12l-13 14l-10 14l-8 14l-4 14l-1 12h-339v-62l6 4l6 1l6-2l6-5l5-6l4-10l3-12l1-12l-1-12l-3-12l-4-10l-5-8l-6-5l-6-2l-6 1l-6 4v-196h48l108-3l46-1l28 1l48 6l14 1l12-1l14-2l15-3l12-4l10-4l8-6l9-12l5-4l5-4l8-4l16-4l22-2zM1060 2751l-2 1l-2 9l-7 41l-2 30v24l2 18l2 8l3 6l4 6l4 4l4 2h4l4-1l4-3l6-7l6-11l5-12l4-18l4-20l2-18l-1-16l-2-20l-5-22l-37-1zM1264 2751l-2 1l1 8l2 4l1 1h2l2-1l2-4l1-8l-9-1zM1575 3066l1-2v18h-13l12-16z"/><path fill="#26ffd9" d="M1264 2368l22-1l20 1l22 5l20 6l20 9l20 11l18 13l18 16l12 14l13 16l11 17l10 18l8 17l6 16l21 62l7 16l6 12l8 11l8 10l12 12l26 23l4 4v4l-84 1h-84h-78l-38-1h-2l-1-12l-2-6l-3-7l-6-7l-4-2l-4-1h-4l-4 2l-4 4l-3 5l-4 10l-3 14h-60h-73v-18l1-20l5-68l3-62l3-20l4-18l5-18l6-14l8-15l12-15l14-12l14-10l16-8l18-7l20-5l20-2zM1256 2376l-2 2l1 66l1 1h30l1-1l1-66l-2-2h-30zM1393 2694l21-1h24l18 1l14 3l8 3l6 4l4 5l10 15l4 4l7 4l11 3l14 3l18 2l24 1v220l-8-4l-8-2l-10-1l-10 1l-52 10l-50 5l-18 2l-18 5l-18 6l-16 8l-14 10l-14 13l-13 14l-10 14l-8 14l-5 12l-1 6v8h-335v-48l4 2l4 1h4l4-1l4-1l4-3l6-6l6-10l4-12l3-14l1-14l-1-14l-2-12l-5-12l-6-10l-8-8l-8-3h-4l-4 1l-6 3v-183h46l108-3h48l30 1l46 6h14l12-1l14-2l16-3l13-4l9-4l9-6l8-10l5-6l6-4l6-2l14-4l21-2zM1058 2751l-1 1l-3 12l-7 44l-3 30l1 24l2 20l2 8l3 6l4 6l4 3l4 2h4l4-1l4-2l6-6l6-10l6-14l6-20l4-22l2-18v-18l-2-20l-5-24l-41-1zM1262 2751l-1 1v4l1 6l2 4l2 1h2l2-1l3-4l1-4v-6l-12-1zM1575 3072l1-2v12h-8l7-10z"/><path fill="#2bffd4" d="M1288 2380v-1h12l22 3l20 5l18 6l20 10l18 12l16 12l15 15l11 13l10 13l10 16l8 16l12 28l22 62l6 14l7 14l7 10l9 12l31 30l8 10l-80 1h-86h-78l-34-1h-1l-1-8l-2-8l-4-10l-6-7l-4-2l-4-1h-4l-4 2l-4 4l-3 4l-3 6l-2 6l-2 14h-56h-71l-1-20l1-22l8-120l3-22l4-17l5-15l7-14l8-13l10-12l12-11l12-9l14-8l16-6l16-5l18-4l1 62l1 1h30l1-1l1-64zM1388 2696l22-1h24l20 1l14 2l8 3l6 4l4 4l12 17l5 4l5 2l11 4l12 2l19 2l26 1v214l-8-3l-8-2h-10l-10 1l-54 11l-52 6l-18 3l-20 5l-16 6l-16 9l-14 11l-14 12l-14 16l-11 14l-8 14l-3 12l-1 12h-331v-37l8 2l6 1l4-2l6-2l4-4l8-8l6-12l5-14l3-16l2-18l-1-14l-3-14l-5-12l-7-11l-8-8l-6-3l-4-2l-6-1h-4l-8 3v-171l46-1l102-2l52-1l30 1l48 6h14h12l23-4l15-4l11-4l11-6l13-14l9-7l14-5l20-2zM1056 2751l-1 1l-4 22l-7 46l-2 28v24l2 18l3 8l2 6l3 4l4 4l4 2l6 1l4-1l4-2l4-3l4-4l6-10l6-14l7-21l5-24l2-20v-18l-2-20l-5-26l-45-1zM1262 2751l-2 1v2l1 6l1 4l2 3l2 2h2l2-1l3-4l1-6v-6l-12-1zM1575 3078l1-2v6h-4l3-4z"/><path fill="#30ffcf" d="M1288 2392l16-1l20 2l18 4l18 6l18 9l18 10l16 13l16 15l10 11l10 13l10 16l8 15l11 27l21 60l7 14l6 12l7 11l8 10l28 31l8 10l-76 1h-92h-76l-27-1l-2-14l-2-6l-3-6l-2-4l-4-4l-4-2l-4-1h-4l-4 2l-4 3l-4 5l-3 7l-2 6l-2 14h-49h-70l-2-22v-24l8-110l3-16l3-16l6-16l6-13l8-12l9-11l11-11l12-9l14-8l14-6l16-5l18-5v48l2 1h30l1-1l1-52zM1384 2698l20-2h26l20 1l16 3l8 2l6 4l6 5l10 15l4 4l8 3l9 3l17 2l42 4v208l-8-3l-8-1l-10-1l-10 1l-56 13l-52 7l-18 3l-18 5l-18 7l-16 9l-16 12l-15 14l-14 16l-13 16l-6 12l-3 10v12h-327v-28l6 3h6l6-1l6-2l6-5l6-6l5-7l5-8l5-14l5-16l2-18l1-18l-1-16l-3-12l-5-10l-8-10l-12-10l-10-5l-6-1l-4-1l-6 2l-4 1v-161h44l104-3l52-1l30 2l48 5l14 1l12-1l24-4l15-4l12-4l11-6l12-13l8-6l12-4l18-3zM1054 2751l-7 39l-6 42l-2 28v26l2 16l1 6l3 6l3 4l4 4l4 2l6 1l6-2l4-2l8-7l8-12l6-13l7-21l6-28l3-22l1-18l-3-20l-5-28l-25-1h-24zM1260 2751l-1 3l1 6l2 7l2 2l2 1l2 1l2-1l2-2l2-4l1-6v-6l-15-1z"/><path fill="#36ffc9" d="M1295 2404l17-1l18 2l18 4l16 5l18 9l16 10l16 12l14 13l10 12l10 13l8 13l8 15l10 23l21 60l7 14l6 12l12 18l27 32l7 10l-72 1h-90h-74l-26-1l-2-14l-5-12l-3-5l-4-4l-4-2l-4-1h-4l-4 2l-4 3l-4 5l-3 6l-2 6l-2 8l-1 8h-42h-68l-3-22v-26l1-25l6-75l2-14l4-16l5-14l7-14l8-11l8-10l10-9l10-7l12-7l14-7l16-6l18-6v33l2 1h30l2-1v-40h7zM1380 2700l20-2h26l22 1l16 2l8 3l7 4l5 4l11 16l6 4l5 2l12 2l16 3l42 3v203l-8-3l-10-1h-10l-10 1l-54 14l-54 8l-18 3l-18 5l-18 7l-16 9l-16 12l-17 16l-18 20l-12 16l-6 10l-2 10v10h-321v-18l6 1l8 1l6-2l6-2l6-5l6-6l6-7l5-8l6-14l5-16l4-18l6-35l2-7l2-4l4-3l16-4l10-5l8-8l8-13l8-19l8-28l7-34l2-22l-2-22l-7-32l-28-1l-24 1l-12 72l-8 68l-1 8l-2 4l-3 2l-2 1l-4-1l-24-12l-10-4l-10-1l-8 3v-153l200-3l30 1l48 6h12l12-1l14-2l14-2l26-8l12-6l12-13l8-5l10-4l14-2zM1260 2751l-1 1v6l1 6l1 4l3 3l2 1l4-1l2-1l3-6l1-6v-6l-16-1z"/><path fill="#3bffc4" d="M1302 2416l16-1l16 1l16 3l16 5l18 9l16 10l14 10l14 14l10 11l8 11l8 13l7 14l9 20l22 60l12 24l12 19l23 29l8 12l-69 1h-88l-72-1h-26l-1-14l-3-8l-3-6l-3-5l-4-3l-4-3l-6-1l-4 1l-4 2l-4 4l-3 5l-5 12l-2 8l-1 8h-100l-4-18l-1-22l1-24l2-34l5-46l2-12l6-20l8-16l6-9l8-10l8-7l10-8l11-6l13-7l34-14v17l2 1h30l2-1v-26l14-2zM1398 2700l20-1l20 1l14 1l12 2l8 3l6 3l4 5l10 14l6 4l5 2l15 3l16 2l42 3v198l-8-3l-10-1l-10 1l-10 1l-56 15l-54 9l-18 3l-18 5l-18 8l-18 10l-17 14l-19 18l-25 26l-8 10l-4 8l-1 8l1 10h-315v-10l6 2h6l6-1l6-2l10-6l6-5l5-6l8-14l7-16l7-18l9-34l4-11l6-8l16-13l6-5l6-8l6-10l9-21l8-28l8-38l2-12v-10v-10l-2-12l-7-34l-30-1l-25 1l-19 111l-4 15l-3 8l-4 4l-5 1l-6-1l-18-6l-8-2h-8l-8 2v-144l198-4l32 2l48 5h12h12l14-2l15-3l27-8l12-6l14-13l5-3l7-3l14-4l20-1zM1260 2751l-2 1v4l1 6l1 6l4 5l2 1l4-1l4-5l2-4l1-6v-6l-17-1z"/><path fill="#40ffbf" d="M1305 2428l17-2l16 1l16 3l14 4l16 7l16 10l14 11l14 13l8 9l8 11l8 13l6 12l9 18l22 60l12 24l11 18l22 30l6 10l-66 1h-84l-72-1h-25l-1-8l-1-8l-3-8l-3-6l-5-6l-4-3l-4-2h-4l-4 1l-4 2l-4 4l-5 6l-5 12l-1 8l-1 8h-89l-4-16l-2-18v-20l1-24l3-28l6-42l5-16l7-14l7-10l10-11l12-9l13-8l17-9l24-11l2 1h30l2-1v-13l17-3zM1390 2702l18-1h22l18 1l12 2l10 3l6 3l5 6l9 12l5 4l5 2l16 3l16 2l44 4v192l-8-2l-10-1h-10l-10 2l-58 16l-54 9l-18 4l-18 6l-18 7l-18 11l-17 13l-55 52l-6 8l-2 6v8l2 8h-291l9-3l10-7l8-8l8-10l7-12l6-14l15-42l6-14l7-10l19-23l10-18l5-11l5-14l9-34l7-36l2-12v-10l-3-18l-7-34l-32-1l-26 1l-18 95l-4 16l-5 11l-5 5l-6 2l-6-1l-16-4l-8-1h-8l-6 2v-137l198-3l32 1l48 5l12 1l12-1l14-2l14-3l29-8l13-6l14-12l7-4l13-4l16-2zM1258 2751l-1 1l1 8l2 9l4 5l2 1l4-1l4-4l2-4l1-6v-8l-9-1h-10zM968 3082v-2l5 2h-5z"/><path fill="#45ffba" d="M1317 2438l15-2l14 1l14 3l14 5l16 8l14 9l12 10l12 12l8 9l8 11l12 22l9 20l20 52l12 24l11 18l21 30l5 10l-146 1l-70-1h-24l-1-8l-2-8l-2-8l-3-6l-4-5l-4-4l-4-2l-6-1h-4l-4 2l-4 4l-5 6l-4 8l-2 6l-2 16h-76l-5-16l-2-16l-1-18v-20l4-30l8-42l4-12l5-10l8-11l9-9l11-9l16-9l34-19l22-11l18-6l19-4zM1385 2704l17-2h22l20 1l14 2l9 3l7 3l4 5l8 12l6 4l5 2l17 3l15 3l47 3v187l-8-2l-10-1l-10 1l-10 2l-60 17l-54 10l-18 4l-18 6l-18 8l-14 7l-14 10l-42 37l-30 23l-5 6l-1 4l-1 4l1 8l4 8h-265l7-6l6-6l11-16l10-20l21-51l7-11l17-26l10-20l6-16l5-16l13-56l4-20v-18l-3-16l-8-32l-33-1l-27 1l-9 47l-7 33l-5 19l-6 13l-6 6l-6 2h-8l-20-3h-8l-6 1v-130l198-3l30 1l50 6l22-1l26-4l15-3l20-6l13-6l12-10l7-4l11-4l13-2zM1258 2751l-1 1v8l1 6l2 5l4 5h2h4l4-4l2-4l2-8v-8l-10-1h-10z"/><path fill="#4affb5" d="M1323 2448l13-1h14l12 3l14 5l14 7l14 8l12 10l12 12l12 15l11 19l9 18l21 54l10 20l11 20l21 32l5 10l-142 1l-66-1h-26l-1-10l-2-8l-2-6l-3-7l-4-6l-4-3l-6-3l-4-1l-4 1l-6 3l-4 4l-5 6l-3 6l-2 8l-3 16h-61l-5-16l-3-16l-1-18v-18l3-20l5-24l10-30l5-11l9-11l11-11l19-13l29-19l18-11l14-6l14-5l15-3zM1409 2704h19l16 1l12 1l8 3l6 2l4 4l4 4l3 7l4 4l9 4l7 2l27 4l48 3v182l-8-1l-10-1l-10 1l-10 1l-14 4l-30 10l-16 5l-16 4l-40 7l-18 4l-18 6l-16 7l-12 6l-12 8l-13 10l-35 29l-12 8l-19 11l-8 6l-4 6l-2 8l1 8l4 10h-245l11-13l9-15l28-60l23-41l10-22l10-32l16-67l3-18l-1-16l-2-14l-9-32l-35-1l-29 1l-7 42l-8 34l-6 19l-6 11l-6 5l-6 2h-8l-20-2l-12 1v-123l196-3l32 1l50 5h22l26-4l16-4l21-6l14-6l16-12l11-4l16-3l21-1zM1258 2751l-2 1v6l1 8l2 6l3 3l2 2l2 1l4-1l4-3l3-6l2-8v-8l-11-1h-10z"/><path fill="#4fffb0" d="M1325 2458l13-2l14 1l12 2l14 5l14 7l12 8l12 9l12 12l12 16l10 17l10 22l18 45l9 18l10 20l19 30l6 12l-136 1l-66-1h-25l-2-16l-3-8l-4-8l-4-6l-4-4l-4-2l-6-2l-4 1l-6 2l-5 5l-4 6l-3 6l-3 8l-2 8l-1 10h-46l-6-18l-3-16l-1-16l1-18l4-18l5-18l8-18l10-20l7-10l11-12l18-16l21-16l15-10l14-8l14-5l13-3zM1397 2706l33-1l14 1l10 2l8 2l7 4l4 4l6 10l6 4l5 2l18 4l14 2l54 4v176l-8-1l-10-1l-10 1l-12 3l-60 19l-56 12l-18 4l-18 6l-16 7l-12 7l-14 9l-34 26l-12 9l-12 7l-22 10l-6 3l-4 4l-4 5l-2 3l-2 9l1 10l5 10h-228l9-12l9-16l22-46l22-43l11-25l10-32l19-78l2-18l-2-16l-2-12l-9-32l-37-1l-30 1l-6 36l-7 30l-7 21l-6 11l-6 6l-4 2l-4 1h-8l-20-2l-10 1v-117l144-3h52l32 1l48 5l12 1l12-1l26-4l32-8l12-4l9-4l15-10l6-3l12-3l17-2zM1256 2751l-1 1v4l1 7l2 7l1 4l3 3l2 1l2 1h4l4-4l3-5l2-8v-10l-13-1h-10z"/><path fill="#54ffab" d="M1340 2466h12l12 2l12 4l12 5l12 7l10 7l10 9l10 11l10 14l8 14l10 22l25 57l9 18l19 32l5 12l-132 1l-89-1v-8l-2-10l-3-9l-4-8l-4-5l-6-5l-6-2h-4l-6 1l-4 2l-4 4l-4 6l-4 6l-3 8l-2 10l-2 10h-30l-5-18l-2-16l-1-18l2-16l4-16l6-16l9-18l14-24l9-12l13-14l15-14l16-12l13-9l14-6l14-4l12-1zM1393 2708l15-1h18l14 1l12 1l7 3l7 3l4 5l5 8l6 4l5 2l18 4l14 2l58 4v172l-10-2h-10l-10 1l-10 2l-14 4l-32 12l-16 5l-56 12l-20 6l-16 5l-16 7l-12 7l-12 7l-34 26l-12 8l-14 7l-24 9l-6 4l-6 4l-3 4l-3 4l-2 6l-1 6v6l1 6l4 10h-212l11-18l20-40l19-36l8-18l8-21l9-29l21-90l2-18l-2-18l-11-42l-39-1l-31 1l-7 36l-6 26l-6 18l-6 12l-6 5l-4 3l-4 1l-8 1l-20-2l-10 1v-112l140-2h56l32 1l48 5l22-1l26-4l36-8l12-4l10-4l14-9l8-3l8-3l13-1zM1256 2751l-1 1v8l1 6l2 7l2 3l4 4l2 1l4-1l4-3l4-7l1-8l1-10l-12-1h-12z"/><path fill="#59ffa6" d="M1334 2476l12-2l12 1l12 3l12 4l12 6l12 8l10 9l10 10l10 13l10 18l10 20l23 54l9 16l17 30l5 14l-126 1l-88-1l-1-10l-1-8l-3-8l-4-8l-4-6l-5-5l-6-4l-6-1l-6 1l-4 3l-5 4l-5 6l-5 8l-2 6l-4 12l-2 10h-13l-4-14l-2-16v-16l1-14l4-14l4-14l7-17l11-19l10-18l7-10l12-14l12-12l12-9l14-9l12-5l14-3zM1391 2710l15-2h16l16 1l10 2l8 2l5 3l5 4l5 8l2 2l10 4l7 2l11 2l23 2l52 4v167l-10-1h-10l-10 1l-12 3l-62 21l-56 13l-20 6l-18 6l-16 7l-21 13l-33 23l-12 8l-14 7l-28 9l-6 3l-6 4l-4 4l-3 6l-3 6l-1 6l-1 6l1 8l4 12h-198l9-14l17-34l21-40l7-16l7-18l7-26l13-60l11-44l2-18l-1-10l-2-10l-11-40l-41-1l-32 1l-6 31l-6 25l-6 17l-4 9l-4 6l-6 5l-8 3l-8 1l-18-1h-10v-106l138-3h56l34 1l48 5h22l26-4l37-9l25-8l19-10l7-3l11-1zM1256 2751l-2 1v8l2 8l2 7l2 3l4 3l2 1l4-1l4-3l4-7l2-9v-10l-12-1h-12z"/><path fill="#5effa1" d="M1342 2484l10-1l12 2l12 3l10 4l10 5l10 7l10 9l8 9l12 16l11 20l30 66l23 44l5 12l-123 1l-85-1l-3-18l-3-10l-4-8l-4-6l-5-6l-6-3l-6-1l-8 1l-6 3l-7 6l-11 14l-2 1h-2l-2-3v-4l-1-12l2-14l4-16l5-14l7-16l10-18l12-20l7-10l9-10l9-9l10-8l10-6l10-5l10-3l10-1zM1391 2712l13-2h14l24 2l8 2l8 4l2 2l4 6l5 4l10 4l7 2l11 2l27 3l52 4v161l-10-1h-10l-10 2l-12 2l-14 5l-32 12l-16 6l-58 14l-20 6l-18 6l-16 7l-20 12l-32 22l-12 7l-14 6l-31 10l-7 3l-6 5l-4 4l-4 6l-3 6l-2 6l-1 8l1 8l2 8l2 6h-184l22-44l22-40l6-14l5-15l7-27l12-62l10-38l3-12l1-10v-10l-1-10l-2-10l-11-38l-43-1l-33 1l-6 28l-5 24l-7 18l-3 6l-4 6l-4 4l-4 3l-8 3h-8l-26-1v-101l136-2l58-1l34 2l48 4h20l26-4l41-9l26-8l21-10l13-2zM1254 2751v5v8l2 8l2 4l2 4l4 3h2h4l4-3l4-8l3-10v-10l-15-2l-12 1z"/><path fill="#63ff9c" d="M1336 2494l10-2h12l10 2l12 3l12 6l10 6l10 8l8 9l12 15l14 25l27 58l20 40l6 16h-117h-84l-2-12l-3-14l-5-12l-6-8l-6-5l-8-4l-8-1l-12 1h-2l-2-1l-1-4v-8l3-10l4-12l12-26l17-28l13-16l14-12l14-9l8-3l8-2zM1393 2714l21-2l22 2l9 2l4 2l3 2l6 6l5 4l12 4l8 2l21 3l18 2l54 4v157l-10-1h-10l-10 1l-10 2l-16 5l-34 14l-18 6l-58 15l-24 7l-20 8l-18 9l-15 10l-27 18l-12 6l-14 6l-28 7l-10 4l-7 5l-6 6l-4 6l-4 8l-2 8v10l1 10l3 10h-171l19-40l23-41l5-11l5-14l5-22l12-66l10-44l3-12l1-12v-10l-1-10l-3-12l-10-36l-45-1l-35 1l-5 28l-6 22l-6 17l-7 11l-3 3l-4 3l-8 3l-10 1l-24-1v-97l132-2h60l34 1l50 5l20-1l22-2l31-7l38-10l25-9l13-3zM1254 2751l-1 1v2l1 10l1 8l3 6l2 3l4 3l2 1l4-1l4-3l4-7l3-10l1-12l-16-2l-12 1z"/><path fill="#69ff96" d="M1340 2502l10-2h10l10 2l12 4l10 5l10 7l10 8l7 8l13 17l14 25l24 50l17 36l5 10l2 8h-114h-82v-10l-2-10l-3-10l-4-8l-5-8l-6-7l-6-4l-10-5l-5-4l-1-6l1-8l5-14l8-18l12-21l11-15l11-11l12-9l12-7l12-3zM1399 2716l21-1l16 2l6 3l8 6l8 4l12 4l20 4l33 4l53 3v152l-10-1h-10l-20 4l-18 6l-34 14l-17 6l-59 16l-22 7l-20 7l-18 9l-15 9l-27 17l-12 6l-14 5l-30 8l-12 5l-8 5l-6 6l-5 8l-3 7l-2 11v10l1 10l2 10h-158l17-36l25-44l4-10l4-12l4-20l9-64l4-19l8-33l2-14l1-12v-12l-2-12l-3-12l-9-30l-47-2l-36 2l-4 24l-6 22l-6 16l-4 7l-4 5l-4 4l-4 3l-8 2l-10 1l-22-2v-91l130-3h62l34 1l48 5h20l16-2l18-3l63-15l27-8l13-2zM1254 2751l-1 1v10l1 8l3 8l2 4l3 2l4 2h4l5-4l4-8l3-10v-12l-14-2l-14 1z"/><path fill="#6eff91" d="M1344 2510l10-2l10 1l10 3l10 3l10 6l8 5l8 7l8 8l14 20l14 24l36 75l4 10l3 10h-109h-81l-2-18l-4-14l-4-8l-5-9l-14-15l-3-4l-1-6l1-10l5-14l9-16l10-16l11-15l10-9l10-8l10-5l12-3zM1394 2720l14-2l14 1l10 2l15 7l12 4l27 6l33 4l57 4v146l-10-1l-10 1l-10 1l-12 3l-18 6l-34 14l-18 7l-78 23l-20 7l-18 9l-15 8l-27 16l-14 7l-14 5l-30 7l-14 5l-8 5l-7 7l-5 7l-3 9l-2 10l-1 12l2 12l2 10h-146l8-20l7-14l26-44l5-10l3-12l3-16l4-44l3-22l3-18l8-36l3-16v-14l-1-12l-2-13l-4-15l-7-24l-49-2l-37 2l-5 24l-5 20l-6 16l-7 10l-4 4l-4 2l-8 3l-10 1l-22-2v-87l128-2h64l34 1l48 4h18l14-1l16-3l60-14l44-8zM1252 2751v9l1 8l1 6l3 6l2 4l3 2l4 2l4-1l4-3l2-2l4-8l2-10l1-12l-19-2l-8 1h-4z"/><path fill="#73ff8c" d="M1348 2518l10-1l8 1l10 2l10 4l8 5l8 6l8 7l8 9l14 19l14 25l30 63l4 12l3 10h-105h-78l-2-16l-4-18l-6-13l-10-15l-3-6l-1-8l1-8l6-14l9-16l10-15l10-12l8-8l10-6l10-5l10-2zM1383 2724l19-2h16l12 3l32 9l20 4l33 4l61 4v141h-12l-12 1l-14 3l-14 4l-62 24l-68 21l-28 10l-26 12l-36 20l-14 7l-14 4l-32 7l-15 6l-9 5l-6 6l-5 9l-3 8l-2 10l-1 12l1 14l2 12h-132l7-20l6-14l7-12l17-24l5-10l4-10l3-12l5-74l3-22l8-38l2-22v-14l-3-16l-11-42l-51-2l-38 2l-4 19l-4 17l-6 16l-5 10l-7 7l-6 4l-8 3h-10l-20-2v-82l124-3h66l36 1l48 5h18l24-3l60-14l39-6zM1252 2751l-1 1v4l1 10l1 8l3 6l2 4l4 4l4 1l4-1l4-2l2-3l4-8l3-11v-12l-17-2h-10l-4 1z"/><path fill="#78ff87" d="M1356 2526h8l8 2l10 3l8 4l8 5l8 7l14 15l14 21l14 26l23 49l4 12l3 10h-100h-77l-1-16l-4-14l-5-14l-8-18l-2-6v-8l2-8l6-14l8-14l11-14l9-10l9-8l10-6l10-3l10-1zM1379 2726l19-2l16 1l14 2l39 9l26 4l37 3l46 3v136h-12l-12 1l-12 3l-14 4l-66 26l-70 22l-26 10l-27 12l-33 17l-14 6l-14 4l-34 7l-10 3l-8 4l-8 5l-7 6l-6 8l-3 8l-2 12l-1 12l1 16l3 14h-120l5-16l6-14l8-14l18-24l5-8l4-10l3-12l1-12v-40l1-24l2-20l8-42l1-22l-1-14l-2-14l-12-44l-52-2l-40 2l-3 20l-5 16l-4 11l-6 12l-6 6l-6 4l-8 3h-10l-20-2v-78l122-2l68-1l32 1l48 5h20l24-3l64-14l33-4zM1252 2751l-1 1v14l2 8l3 8l2 3l4 4l4 2l4-1l4-3l2-2l4-8l3-11l1-14l-16-2h-10l-6 1z"/><path fill="#7dff82" d="M1348 2536l8-2l8 1l8 1l10 4l10 5l8 6l8 7l8 9l14 19l16 29l20 43l4 12l2 10h-96h-74l-1-14l-2-12l-12-38v-8l1-8l5-10l7-13l8-12l8-9l8-8l8-5l8-5l8-2zM1370 2728l22-2l22 1l14 1l36 8l25 4l39 3l48 4v130h-10l-12 2l-12 2l-14 4l-16 6l-56 23l-72 23l-24 9l-26 11l-32 15l-12 5l-16 5l-38 7l-10 3l-10 4l-8 6l-7 6l-5 8l-3 8l-2 10v14l2 20l2 14h-106l4-16l6-14l9-15l19-23l6-8l5-10l2-10v-12l-3-38v-24l1-22l6-46l1-22l-1-12l-2-14l-12-44l-54-2l-41 2l-3 16l-4 16l-4 12l-6 10l-6 7l-6 5l-8 2l-10 1l-20-3v-74l118-2h70l32 1l50 4h20l24-2l56-12l32-5zM1252 2751l-2 1v12l2 10l3 8l3 5l4 4l4 1h4l4-3l2-2l5-9l3-12v-14l-16-2l-16 1z"/><path fill="#82ff7d" d="M1358 2544h8l8 2l8 3l8 4l14 10l14 15l14 21l16 31l13 30l3 10l2 10h-90h-73v-12l-2-12l-9-36v-10l3-10l5-10l8-13l8-10l8-8l8-6l8-5l8-3l10-1zM1380 2728l18-1l18 1l70 11l40 4l50 4v125l-12 1l-12 1l-12 3l-14 5l-75 30l-79 26l-31 12l-17 6l-24 11l-12 5l-16 4l-40 6l-12 4l-12 4l-11 5l-7 7l-5 6l-2 6l-1 6v10l7 52h-92l1-10l3-8l3-8l4-8l12-15l23-21l5-6l4-6l2-8v-6l-1-8l-9-42l-2-22l1-24l4-50v-22l-4-24l-11-42l-56-2l-26 1l-16 1l-4 18l-4 14l-4 11l-5 9l-5 6l-8 5l-8 2h-8l-20-2v-70l116-2l72-1l34 1l48 5h18l12-1l14-2l48-11l20-3l30-3zM1250 2751v7v10l2 9l2 7l4 5l4 4l4 1l4-1l4-2l2-3l3-4l2-6l3-13l1-13l-9-2h-12h-10l-4 1z"/><path fill="#87ff78" d="M1352 2554l6-1h8l8 2l8 3l8 4l8 5l8 7l7 8l7 8l8 12l15 28l13 30l3 10l2 10h-87h-69l-2-20l-5-27l-1-9v-8l3-10l4-9l5-9l7-10l6-6l7-6l7-6l8-4l8-2zM1365 2730l23-2l24 1l16 2l40 7l20 2l36 4l52 3v120l-10 1l-12 2l-12 2l-14 4l-18 7l-48 20l-27 11l-106 36l-37 14l-16 5l-44 5l-34 6l-10 1h-6l-6-3l-4-4l-4-5l-6-11l-5-12l-4-14l-3-14l-2-12v-14l2-50l-1-22l-4-24l-11-44l-58-2l-28 1l-16 1l-3 18l-5 16l-6 12l-6 8l-8 5l-8 3h-12l-16-3v-66l112-2h74l34 1l50 4h18l22-2l56-12l31-4zM1250 2751l-1 1v2l1 14l1 10l3 7l4 6l4 3l4 2l4-1l6-5l3-4l3-6l3-14v-14l-17-2h-14l-4 1zM1149 3024l7-2l6 1l4 3l5 6l3 8l4 12l4 30h-77l1-10l2-8l4-8l5-8l7-9l8-6l8-6l9-3z"/><path fill="#8cff73" d="M1349 2564l7-2h8l8 1l8 3l8 3l8 6l8 6l6 7l7 8l7 10l8 14l7 14l11 26l3 10l2 10h-81l-68-1l-1-15l-4-34l1-10l2-8l8-16l6-9l6-7l12-10l6-4l7-2zM1372 2730l22-1l22 1l63 10l18 2l79 5v116h-10l-12 2l-24 7l-24 9l-62 25l-35 14l-55 18l-36 10l-27 10l-15 3l-16 3l-32 2h-16l-12-1l-8-2l-8-4l-6-6l-6-8l-6-9l-4-10l-4-12l-3-10l-2-20v-44l-1-20l-5-22l-12-46l-59-2h-28l-17 2l-4 18l-5 16l-6 11l-6 7l-8 5l-8 2l-12-1l-14-3v-61l110-3h76l34 1l50 4l18 1l24-3l64-13l28-3zM1250 2750l-2 2l1 14l2 12l2 8l3 5l4 4l4 2h6l6-5l3-4l3-8l3-12l1-16l-14-2h-22zM1146 3038l6-1l6 2l4 3l4 5l3 7l2 8l3 20h-59v-8l1-6l2-6l4-8l4-5l7-5l7-5l6-1z"/><path fill="#91ff6e" d="M1353 2572l7-1h6l8 1l8 3l8 5l6 4l8 7l6 6l8 10l6 10l12 22l9 23l2 10l2 8h-141l-3-44l1-10l4-12l8-14l6-8l6-6l6-6l6-4l11-4zM1356 2732l26-2h28l20 2l32 6l31 4l83 6v110l-22 3l-26 7l-25 10l-77 32l-48 17l-28 8l-34 8l-38 10l-16 2h-18l-18-1l-14-2l-10-3l-8-5l-8-7l-7-9l-11-19l-6-17l-3-18l-3-36l-2-20l-5-18l-12-48l-21-1l-40-1h-30l-16 2l-4 16l-4 13l-6 12l-6 7l-8 5l-8 2h-12l-14-3v-58l110-2h74l36 1l48 4h18l24-2l48-11l30-4zM1248 2751v9l1 12l1 8l3 8l3 5l4 4l4 2h6l6-5l3-4l3-7l4-15v-16l-8-2h-12h-16l-2 1zM1140 3054l6-2l4 1l4 2l3 3l2 4l2 6l1 6l-1 8h-33l-1-8l2-8l2-4l3-4l6-4z"/><path fill="#96ff69" d="M1351 2582l7-2h6l6 1l8 2l8 4l6 3l8 7l6 6l12 15l12 22l9 22l2 10l1 8h-131l-1-38l1-10l3-11l7-13l9-12l10-9l6-3l5-2zM1360 2732l24-2l24 1l18 2l64 9l86 6v105l-22 3l-24 7l-27 11l-71 30l-26 10l-36 12l-16 4l-12 3l-32 4l-36 7h-10h-12l-16-1l-13-3l-11-5l-10-7l-10-10l-10-14l-8-13l-6-13l-4-16l-8-42l-13-50l-5-18l-20-1l-42-1h-32l-16 2l-3 16l-5 14l-6 10l-6 7l-8 4l-8 1h-10l-14-4v-53l100-3h72l48 1l58 5l1 2v12l2 12l3 14l4 6l4 4l4 2h4l4-2l4-4l3-4l3-7l4-15l1-18l-11-2h-20l22-3l50-11l32-4z"/><path fill="#9cff63" d="M1358 2590h10l8 2l6 2l12 8l12 11l10 15l10 18l7 18l2 16h-121l-1-20l1-14l3-12l5-12l7-12l9-10l10-7l10-3zM1366 2732l24-1l24 1l72 10l90 6v100l-22 4l-24 7l-36 15l-90 37l-28 10l-28 7l-14 2h-32l-30 2l-16-1l-12-2l-10-3l-10-6l-9-6l-11-11l-16-20l-10-14l-6-11l-6-17l-18-58l-8-31l-18-1l-46-1h-34l-15 2l-3 14l-5 14l-5 8l-7 8l-7 4l-10 1l-10-1l-12-3v-50l112-2h86l30 1l34 3l12 1l4 1l1 1v12l1 12l1 8l3 8l4 7l4 4l4 1h4l4-2l4-4l3-4l3-6l4-16l1-10v-10l-9-2h-16l20-4l54-11l30-3z"/><path fill="#a1ff5e" d="M1359 2600l9-1l6 2l7 3l11 7l10 9l10 14l8 16l6 16l2 14h-110v-16l1-14l3-11l5-11l7-12l8-8l8-6l9-2zM1374 2732l18-1l22 1l69 10l93 7v95l-22 4l-24 7l-46 19l-82 35l-26 9l-26 6l-12 1l-12-1l-62-9l-8-2l-8-3l-8-5l-8-6l-9-7l-23-24l-18-18l-10-13l-8-15l-10-26l-8-24l-4-20l-20-2h-48h-34l-15 2l-3 14l-4 11l-6 10l-6 6l-8 4l-8 1l-10-1l-12-4v-45l120-3h54l38 1l47 4h15l4 2v12l1 12l2 10l2 8l3 6l4 5l4 2h4l4-1l4-3l4-5l4-8l3-8l2-8l1-20v-2l-4-1l-19-1l17-3l56-12l18-2l18-1z"/><path fill="#a6ff59" d="M1355 2612l9-2l6 1l6 1l10 6l10 8l9 12l8 14l5 14l2 14h-96v-12l1-10l2-10l4-10l5-10l6-8l6-5l7-3zM1352 2734l26-2h30l20 2l54 8l94 7v90l-22 5l-24 7l-55 23l-73 32l-26 9l-24 5l-14 1l-14-2l-14-5l-19-8l-22-12l-10-6l-11-8l-29-24l-13-8l-20-11l-8-5l-6-6l-4-5l-4-7l-6-13l-9-25l-6-24l-19-2h-50h-36l-14 2l-4 14l-4 10l-6 10l-6 5l-8 3l-8 1l-10-2l-10-4v-41l96-2l76-1l42 1l40 4h18l5 2v14l1 14l3 12l2 8l3 4l4 5l4 2h4l4-1l4-4l4-5l4-7l4-16l2-18l1-8l-9-2h-12l60-13l24-3z"/><path fill="#abff54" d="M1357 2624l7-2h4l6 2l10 5l8 7l8 10l6 12l3 12l1 10h-78l-1-8l1-10l3-10l3-8l4-8l4-5l6-5l5-2zM1356 2734l24-2l26 1l20 2l60 7l90 7v86l-22 5l-24 8l-58 23l-54 25l-18 8l-26 8l-22 5h-10l-10-1l-10-3l-8-4l-10-6l-11-9l-35-37l-11-9l-8-4l-11-4l-38-12l-8-3l-6-4l-6-5l-4-5l-8-15l-8-21l-6-23l-18-2h-52h-38l-14 1l-3 13l-4 10l-5 8l-6 5l-8 4h-8l-10-1l-10-5v-36l88-3h78h44l39 4h23l5 2v14v14l2 12l3 11l3 7l3 4l4 3h4l4-2l4-3l4-4l4-7l5-15l4-18v-16l-7-2h-11l53-12l32-4z"/><path fill="#b0ff4f" d="M1360 2638l6-1l6 1l8 4l6 6l6 7l4 8l2 9l1 8h-58l1-14l3-12l3-6l4-5l4-4l4-1zM1360 2733h26l26 1l78 9l86 7v82l-26 5l-26 9l-56 24l-58 26l-28 11l-20 5l-14 2l-12-1l-12-5l-8-4l-6-5l-8-7l-7-8l-18-26l-7-12l-3-8l-1-6l1-4l11-19l6-15l4-14l1-14l1-14l-6-2h-11l53-12l20-3l14-2zM1021 2748l69-2h62l30 1l29 3l31 1l2 1v26l4 34v8l-2 3l-4 3l-6 1h-10l-16-2l-14-2l-12-4l-8-4l-8-7l-8-13l-8-19l-4-12l-2-12l-2-1l-18-1h-50h-38l-16 1l-2 1l-3 12l-4 10l-5 6l-4 4l-6 3l-6 1h-6l-8-2l-10-5v-31l53-2z"/><path fill="#b5ff4a" d="M1362 2662l2-2h4l6 4l3 4l2 4v4v4h-22l-1-4l1-6l2-4l3-4zM1365 2734l21-1l24 1l81 10l85 6v78l-26 6l-28 9l-56 24l-58 27l-24 9l-18 5l-16 2l-12-1l-10-3l-7-4l-7-6l-7-6l-6-8l-14-22l-6-12l-3-8l-2-8v-6l2-8l7-22l3-12l2-16v-16l-6-2h-9l53-12l20-3l17-1zM1038 2748l62-1h54l26 1l26 2h28l8 1l1 1l1 46l-1 10l-2 4l-3 4l-6 2l-8 1h-12l-14-2l-12-3l-8-3l-8-6l-8-10l-5-9l-4-12l-3-10l-3-12l-5-1l-80-1h-30l-12 1l-2 1l-3 10l-3 8l-4 6l-4 4l-4 2l-6 2l-6 1l-8-2l-6-2l-6-4v-27l70-2z"/><path fill="#baff45" d="M1374 2734h36l78 10l88 6v75l-28 6l-28 10l-54 23l-56 27l-24 9l-18 5l-16 2l-10-1l-10-3l-7-3l-7-6l-12-12l-11-18l-6-12l-5-12l-3-10v-10l8-40l1-14l1-14l-7-2h-7l37-9l20-4l20-2l20-1zM1058 2748l54-1h46l41 3h35l8 1v1v36v7l-2 7l-2 4l-4 4l-6 2l-8 1h-12l-12-1l-10-2l-8-4l-8-5l-8-11l-4-7l-4-10l-3-11l-2-10l-5-1l-80-1h-34l-12 1l-2 1l-2 8l-4 8l-6 8l-4 2l-6 3h-6l-6-1l-6-2l-8-5v-23l90-2z"/><path fill="#bfff40" d="M1349 2736l25-2h30l22 2l59 8l79 6h12v71l-28 7l-30 10l-54 24l-56 27l-20 8l-16 4l-16 3h-10l-10-3l-6-3l-7-4l-7-6l-5-6l-12-18l-10-22l-4-12l-1-12l1-8l5-34l1-24l-5-2h-8l42-10l29-4zM1091 2748h67l34 2h40l10 2l-1 32l-2 12l-3 5l-4 4l-6 2l-6 1l-10 1l-12-1l-10-2l-8-3l-8-5l-8-8l-4-7l-4-9l-4-12l-1-10l-7-2h-64h-64l-2 2l-3 8l-3 6l-6 7l-4 2l-6 2h-4l-6-1l-8-4l-6-4v-17l123-3z"/><path fill="#c4ff3b" d="M1352 2736l24-2l28 1l20 1l62 8l74 6h16v68l-16 3l-14 4l-30 11l-50 21l-56 28l-22 9l-16 4l-16 3h-10l-8-2l-6-3l-6-4l-6-5l-6-7l-11-16l-6-12l-5-12l-5-14l-1-10l1-10l4-32l1-22l-12-2l40-10l32-4zM1023 2750l57-2h52l94 2l14 1l1 1l-1 23l-1 11l-2 6l-2 4l-3 4l-4 2l-6 2l-8 1h-10l-10-1l-8-2l-8-3l-6-4l-6-7l-4-5l-4-9l-4-10l-2-13h-2l-20-1h-107zM968 2752v-1h6l24-1l10 1l3 1l-3 8l-5 8l-6 4l-7 1h-4l-6-2l-6-3l-4-4l-2-2v-10z"/><path fill="#c9ff36" d="M1355 2736l23-2l26 1l18 2l68 8l67 5h19v65l-30 7l-16 5l-16 6l-46 20l-58 29l-22 9l-16 5l-14 2h-10l-8-2l-6-3l-6-3l-6-6l-6-6l-11-16l-10-22l-5-14l-2-14l1-10l3-30v-20l-11-2l41-10l18-3l15-1zM1040 2750l90-1l92 1l16 1l2 1l-2 28l-2 8l-2 4l-2 3l-4 3l-6 2l-8 1h-10h-8l-8-2l-8-3l-6-3l-6-6l-4-5l-4-7l-4-11l-2-12l-2-1l-16-1h-96zM968 2752l26-1l14 1l-4 8l-4 5l-4 2l-6 2l-6-1l-8-4l-6-7l-2-3v-2z"/><path fill="#cfff30" d="M1359 2736l23-1l26 1l84 9l62 5h22v63l-16 3l-16 4l-16 5l-16 6l-44 19l-58 30l-22 9l-16 4l-14 2h-10l-8-2l-6-3l-6-4l-10-10l-11-16l-9-20l-6-16l-2-14v-10l3-30v-18l-10-2l41-10l20-3l15-1zM1062 2750l70-1l104 2l3 1l-1 20l-1 8l-2 6l-3 4l-4 4l-6 2l-8 2h-8h-10l-8-2l-8-3l-6-4l-6-5l-4-6l-4-8l-3-8l-2-10l-1-2h-92zM972 2752l20-1l12 1l-2 4l-4 4l-4 3h-4l-6-1l-4-2l-4-3l-4-5z"/><path fill="#d4ff2b" d="M1363 2736l21-1l24 1l86 9l56 5h26v60l-18 3l-16 4l-16 5l-16 7l-42 18l-58 30l-22 9l-14 4l-14 2l-10 1l-8-2l-6-3l-6-4l-11-10l-10-16l-10-20l-5-16l-2-14l2-56l-10-2l24-6l18-4l20-3l17-1zM979 2752h20l-4 4l-5 1l-6-2l-5-3zM1157 2752l5-2h14h46l16 2l-1 18l-3 12l-2 4l-4 4l-4 2l-6 2l-8 1h-10l-8-1l-8-2l-10-6l-4-3l-4-6l-6-11l-3-14z"/><path fill="#d9ff26" d="M1370 2736l18-1l20 1l84 10l55 4h29v57l-20 4l-16 4l-16 5l-16 6l-38 18l-60 31l-22 9l-14 4l-14 2h-10l-8-2l-6-3l-6-4l-10-10l-9-13l-9-20l-6-18l-3-14v-10l1-44l-8-2l24-7l22-4l20-2l18-1zM1159 2752l7-2h16l40 1l15 1l-1 15l-2 9l-2 6l-4 4l-4 3l-6 2l-8 1h-8l-8-1l-8-2l-10-5l-4-3l-4-4l-6-12l-3-13z"/><path fill="#deff21" d="M1345 2738l27-2h28l24 2l68 8l51 4h33v55l-20 4l-18 4l-16 5l-18 7l-34 16l-58 31l-22 9l-12 4l-12 2l-12 1l-8-1l-6-3l-6-3l-10-9l-10-14l-10-18l-6-18l-3-16l-1-14l1-40l-8-2l31-8l27-4zM1161 2752l7-1l18-1l34 1l16 1l-2 18l-2 6l-2 4l-4 4l-4 2l-8 3h-8h-8l-8-1l-6-2l-6-3l-8-7l-6-11l-2-6l-1-7z"/><path fill="#e3ff1c" d="M1348 2738l24-2h28l22 2l44 6l28 2l46 4h36v52l-22 5l-18 4l-16 5l-18 7l-32 15l-56 30l-24 11l-12 3l-12 3h-12l-8-1l-6-2l-6-4l-9-8l-10-14l-9-16l-7-20l-3-16l-1-14l1-38l-8-2l30-8l30-4zM1163 2752l9-1l18-1l45 2l-2 16l-2 6l-3 4l-4 4l-6 3l-6 1l-8 1l-8-1l-8-2l-7-2l-6-4l-5-6l-4-6l-2-7l-1-7z"/><path fill="#e8ff17" d="M1350 2738l24-2l26 1l22 1l42 6l32 3l40 3h40v50l-22 4l-20 5l-18 6l-16 6l-30 14l-56 31l-24 11l-12 3l-12 2l-12 1l-8-1l-10-5l-10-9l-10-14l-8-16l-7-18l-4-18l-1-14v-36l-7-2l31-8l30-4zM1165 2752l27-1l42 1l-1 8l-2 8l-2 6l-3 3l-4 3l-4 2l-6 1l-8 1h-8l-8-2l-6-3l-5-3l-5-6l-3-4l-3-8l-1-6z"/><path fill="#edff12" d="M1353 2738l23-2l24 1l20 2l46 5l32 3l35 3h43v48l-22 4l-20 4l-18 6l-18 7l-28 13l-56 32l-24 10l-12 4l-10 2l-12 1l-8-1l-10-4l-10-9l-10-13l-9-16l-6-18l-5-18l-1-16v-34l-6-2l31-8l31-4zM1167 2752l27-1l38 1l-1 8l-1 6l-2 4l-2 4l-4 3l-6 3l-12 1h-8l-6-1l-6-3l-6-3l-4-5l-3-5l-3-6l-1-6z"/><path fill="#f2ff0d" d="M1356 2738l22-1h22l20 2l52 6l30 3l27 2h47v45l-24 5l-20 5l-18 5l-18 7l-26 12l-56 33l-12 5l-12 5l-12 4l-10 2l-12 1l-8-1l-10-5l-10-8l-10-13l-8-17l-7-17l-4-18l-1-16v-32l-6-2l14-4l18-4l18-3l14-1zM1170 2752l26-1l35 1l-1 6l-1 6l-3 5l-2 3l-4 3l-6 2l-6 1l-6 1l-6-1l-6-1l-6-3l-4-3l-4-3l-3-4l-2-6l-1-6z"/><path fill="#f7ff08" d="M1360 2738l22-1l22 1l71 8l31 2l19 2l51 1v42l-24 5l-22 5l-18 5l-18 7l-26 12l-52 31l-14 7l-12 5l-12 4l-10 2h-12l-8-1l-10-4l-10-9l-9-12l-8-16l-7-18l-4-18l-1-16l-1-30l-5-2l17-5l18-4l16-2l16-1zM1172 2752l24-1l33 1l-2 10l-2 4l-3 4l-4 2l-4 2l-6 2h-6l-10-2l-6-2l-4-3l-4-3l-3-4l-1-4l-2-6z"/><path fill="#fcff03" d="M1365 2738l21-1l22 1l66 8l48 4l54 1v40l-26 5l-22 5l-20 6l-16 6l-24 12l-52 31l-14 7l-12 5l-12 4l-10 2h-12l-8-1l-10-5l-10-8l-8-12l-7-14l-7-18l-5-18l-1-18l-1-28l-5-2l18-5l18-4l18-2l17-1zM1175 2752l23-1l29 1l-1 4l-2 6l-4 5l-4 3l-4 2l-10 1l-10-2l-8-4l-4-3l-2-4l-2-4l-1-4z"/><path fill="#fffc00" d="M1373 2738l37 1l64 7l44 4l58 1v37l-46 10l-18 5l-14 4l-14 6l-12 7l-50 31l-24 12l-14 5l-12 3l-12 1l-10-1l-10-4l-10-8l-9-11l-7-14l-7-18l-4-18l-3-18v-28l-5-2l19-6l20-3l20-3h19zM1179 2752h45l-2 7l-4 5l-4 3l-4 2l-8 1l-8-1l-8-5l-4-4l-2-4l-1-4z"/><path fill="#fff700" d="M1345 2740l25-2h28l26 2l54 7l37 3l61 1v35l-48 10l-18 5l-14 4l-12 5l-12 7l-48 31l-24 12l-14 6l-12 3l-12 1h-10l-10-4l-10-7l-9-11l-7-14l-7-16l-4-16l-4-20l-1-30l-4-2l24-7l25-3zM1183 2752h37l-1 6l-4 4l-5 3l-8 1l-8-1l-6-3l-3-4l-2-6z"/><path fill="#fff200" d="M1347 2740l25-2h26l24 2l54 7l35 3l65 1v33l-50 10l-18 5l-14 5l-12 5l-12 6l-46 31l-24 12l-14 6l-12 3l-12 1h-10l-10-4l-10-8l-8-10l-8-14l-6-16l-5-16l-3-20l-1-28l-4-2l25-7l25-3zM1188 2752h28l-2 4l-4 4l-4 1l-4 1l-6-1l-4-2l-3-3l-1-4z"/><path fill="#ffed00" d="M1349 2740l23-2l26 1l22 1l50 6l38 4l68 1v31l-54 11l-16 4l-14 5l-12 5l-10 5l-46 32l-12 6l-12 6l-14 6l-12 3l-12 1h-10l-6-2l-4-2l-6-4l-4-4l-8-11l-7-13l-6-14l-5-16l-3-20l-1-28l-4-2l24-7l27-3zM1197 2752h10l-2 2l-3 1l-4-1l-1-2z"/><path fill="#ffe800" d="M1351 2740l21-2l24 1l24 2l50 5l34 4l72 1v28l-56 12l-16 4l-14 5l-12 5l-10 5l-44 31l-12 7l-12 7l-14 5l-12 3l-12 1h-10l-6-2l-4-2l-8-6l-8-10l-8-15l-6-15l-5-16l-3-20l-1-26l-4-2l25-7l27-3z"/><path fill="#ffe300" d="M1354 2740l20-1h22l22 2l52 6l31 3l75 1v26l-58 12l-16 4l-12 4l-12 5l-10 6l-44 31l-12 7l-12 7l-14 5l-12 3l-12 2l-10-1l-6-2l-4-2l-8-7l-8-10l-8-13l-6-16l-4-16l-3-20l-2-24l-2-2l25-7l28-3z"/><path fill="#ffde00" d="M1357 2740l23-1l26 1l94 10l76 1v23l-62 13l-26 8l-12 5l-10 6l-42 31l-22 13l-12 5l-12 4l-12 2l-12-1l-6-1l-4-2l-8-6l-8-9l-8-14l-7-16l-4-16l-4-20l-1-24l-2-2l14-4l12-3l29-3z"/><path fill="#ffd900" d="M1360 2740l24-1l24 1l90 10l78 1v21l-66 14l-24 7l-10 4l-10 6l-42 32l-12 8l-10 5l-12 5l-12 4l-12 2h-12l-6-2l-4-2l-8-6l-8-10l-8-13l-6-16l-5-16l-3-20l-1-22l-2-2l14-4l13-3l30-3z"/><path fill="#ffd400" d="M1365 2740l21-1l22 1l88 10l80 1v18l-70 15l-22 7l-10 4l-10 7l-40 31l-12 8l-10 5l-12 6l-12 3l-12 2h-12l-6-2l-4-2l-8-6l-8-9l-6-12l-7-16l-5-16l-3-20l-1-22l-2-2l14-4l14-3l16-2l17-1z"/><path fill="#ffcf00" d="M1371 2740h19l20 1l84 9l82 1v14l-23 7l-49 10l-20 6l-10 5l-10 6l-40 32l-12 8l-10 5l-12 6l-12 3l-12 2h-12l-6-2l-4-2l-8-6l-7-9l-7-12l-7-16l-4-16l-3-20l-1-20l-2-2l14-4l17-4l18-2h17z"/><path fill="#ffc900" d="M1344 2742l24-2h26l28 2l70 8l84 1v11l-24 7l-52 11l-18 6l-10 5l-10 6l-37 31l-11 8l-10 6l-12 5l-12 4l-12 2h-12l-6-1l-4-2l-8-5l-8-10l-7-11l-6-16l-5-16l-3-20l-1-20l-2-2l16-5l22-3z"/><path fill="#ffc400" d="M1346 2742l22-2h26l28 2l68 8l86 1v6l-11 5l-11 3l-54 12l-12 3l-8 4l-10 5l-8 5l-37 32l-11 8l-10 6l-12 5l-12 4l-12 3h-10l-6-1l-4-2l-8-5l-8-8l-8-12l-6-16l-5-16l-4-20l-1-20l-1-2l17-5l22-3z"/><path fill="#ffbf00" d="M1348 2742l22-2h24l28 3l66 7l83 2l-3 2l-5 4l-11 4l-14 4l-42 9l-18 6l-10 6l-8 6l-35 31l-19 13l-12 6l-12 4l-12 3h-10l-10-2l-8-4l-8-8l-8-12l-6-14l-6-18l-4-20l-1-20l-2-2l19-5l22-3z"/><path fill="#ffba00" d="M1350 2742l22-2l24 1l26 2l64 7l73 2l-6 4l-9 4l-14 4l-34 7l-10 3l-8 4l-8 4l-10 7l-35 33l-19 13l-12 6l-12 5l-12 2h-10l-10-1l-8-5l-8-8l-8-13l-6-13l-5-18l-4-18l-1-20l-2-2l20-5l22-3z"/><path fill="#ffb500" d="M1352 2742l22-2l22 1l26 2l62 8l60 1l-6 3l-6 3l-38 10l-16 6l-8 5l-10 7l-34 32l-10 8l-10 7l-12 6l-12 5l-12 2l-10 1l-10-2l-8-5l-8-8l-7-10l-6-14l-5-18l-4-20l-1-18l-2-2l19-5l24-3z"/><path fill="#ffb000" d="M1354 2741h22h22l32 3l50 7l42 1l-7 4l-29 10l-16 9l-14 11l-34 33l-10 8l-10 7l-10 5l-12 4l-10 1l-10 1l-10-2l-8-5l-8-8l-6-10l-7-14l-5-16l-3-20l-1-18l-2-2l20-5l24-4z"/><path fill="#ffab00" d="M1357 2742l23-1l26 1l65 8l5 1l16 1v2l-2 2l-28 21l-34 35l-9 8l-9 7l-12 7l-14 6l-12 3h-12l-10-2l-8-5l-8-8l-6-10l-6-14l-5-16l-3-18l-1-18l-2-2l21-6l25-2z"/><path fill="#ffa600" d="M1360 2742l28-1l30 2l51 7l3 1l5 1v2l-1 4l-4 6l-44 46l-16 14l-14 8l-14 6l-14 3h-12l-8-2l-8-5l-8-8l-6-11l-6-13l-5-16l-3-18v-16l-2-2l22-6l26-2z"/><path fill="#ffa100" d="M1364 2742l20-1l22 1l61 8l2 2v4l-2 6l-5 6l-24 28l-15 16l-13 11l-14 8l-14 6l-14 3l-12-1l-8-2l-7-5l-7-9l-6-10l-5-13l-5-16l-3-16l-1-16l-1-2l11-3l12-3l28-2z"/><path fill="#ff9c00" d="M1369 2742h19l20 1l57 7l-2 2v4l-2 6l-6 10l-23 28l-9 10l-9 8l-14 9l-14 7l-14 3l-14 1l-8-2l-8-5l-8-9l-5-10l-6-14l-4-14l-3-16l-1-16l-1-2l12-4l12-2l16-2h15z"/><path fill="#ff9600" d="M1344 2744l24-2h28l28 2l39 6l-5 2v6l-2 6l-3 6l-7 10l-18 22l-14 13l-12 9l-14 7l-14 4l-12 1l-8-1l-6-2l-6-4l-6-7l-5-8l-5-11l-4-12l-3-13l-2-14l-1-12l-1-2l13-4l16-2z"/><path fill="#ff9100" d="M1346 2744l24-2h26l26 2l39 6l-7 2v4l-1 6l-6 12l-16 22l-9 10l-8 8l-14 10l-12 6l-14 4h-12l-8-1l-6-2l-6-4l-6-7l-6-10l-4-10l-4-12l-3-12l-1-12l-1-12l-1-2l14-4l16-2z"/><path fill="#ff8c00" d="M1347 2744l23-2h26l26 3l37 5l-9 2l1 4l-1 6l-3 6l-4 8l-8 12l-8 10l-7 8l-9 8l-13 9l-12 6l-12 3l-12 1l-8-1l-6-3l-6-4l-6-7l-6-10l-4-10l-4-12l-2-12l-2-12v-10l-1-2l15-4l15-2z"/><path fill="#ff8700" d="M1349 2744l23-2l26 1l24 2l36 5l-11 2v6l-1 6l-2 6l-5 8l-14 20l-15 14l-12 9l-12 6l-12 3l-12 1l-8-1l-6-3l-6-5l-6-7l-5-9l-5-12l-4-12l-2-12l-1-18l-1-2l14-4l17-2z"/><path fill="#ff8200" d="M1351 2744l23-2l24 1l24 2l34 5l-12 2v6l-1 6l-2 6l-4 8l-13 18l-7 8l-9 8l-10 7l-12 6l-12 4h-12l-8-1l-6-3l-6-5l-6-7l-5-9l-5-12l-3-12l-2-12l-1-16l-1-2l15-4l17-2z"/><path fill="#ff7d00" d="M1353 2744l21-2l24 1l24 2l32 5l-13 2v6l-1 6l-2 6l-4 8l-12 18l-14 14l-10 8l-12 5l-12 4h-12l-8-1l-6-3l-6-5l-5-6l-5-9l-5-11l-3-12l-3-14v-14l-1-2l16-4l17-2z"/><path fill="#ff7800" d="M1356 2744l20-1h22l24 2l31 5l-15 2l1 6l-1 6l-2 6l-4 8l-5 8l-7 10l-14 13l-10 7l-12 6l-12 3l-10 1l-8-2l-8-4l-6-6l-6-9l-5-11l-4-14l-3-14v-14l-1-2l17-4l18-2z"/><path fill="#ff7300" d="M1358 2744l20-1l22 1l22 2l29 4l-15 2v6l-1 6l-2 6l-3 8l-11 16l-7 7l-6 7l-12 8l-10 4l-12 3l-10 1l-8-2l-6-3l-6-5l-7-10l-5-11l-4-13l-2-12l-1-16l-1-2l16-4l20-2z"/><path fill="#ff6e00" d="M1361 2744l19-1l22 1l22 2l25 4l-16 2l1 6l-1 6l-2 6l-4 8l-10 16l-13 13l-10 7l-10 5l-11 3h-11l-8-2l-6-3l-6-5l-6-9l-5-11l-4-12l-2-12l-1-16l-1-2l17-4l21-2z"/><path fill="#ff6900" d="M1364 2744l18-1l20 1l20 2l26 4l-17 2v6v6l-2 6l-4 8l-5 8l-6 8l-12 12l-10 7l-10 4l-10 3h-10l-8-2l-6-3l-6-5l-6-9l-5-11l-4-12l-2-14v-12l-1-2l18-4l22-2z"/><path fill="#ff6300" d="M1369 2744l17-1l18 1l42 6l-17 2v6l-1 6l-1 6l-4 8l-5 8l-6 8l-12 11l-9 7l-9 3l-10 3h-10l-8-2l-6-3l-6-6l-5-7l-5-11l-3-11l-3-14v-12l-1-2l19-5l25-1z"/><path fill="#ff5e00" d="M1345 2746l23-2h24l24 2l29 4l-19 2l1 6l-1 6l-2 6l-3 8l-9 14l-12 11l-9 7l-9 3l-8 3h-10l-6-1l-6-1l-4-3l-4-4l-4-5l-4-7l-6-16l-2-11l-1-16l-1-2l19-4z"/><path fill="#ff5900" d="M1347 2746l21-2h24l24 2l27 4l-19 2l1 6l-1 6l-4 12l-9 14l-12 12l-8 6l-9 3l-8 3h-10l-6-1l-6-2l-4-2l-4-4l-4-5l-4-8l-6-16l-2-12v-12l-1-2l20-4z"/><path fill="#ff5400" d="M1349 2746l21-2h22l24 2l26 4l-20 2l1 6l-1 6l-4 12l-4 6l-5 8l-11 10l-8 6l-8 3l-8 3h-10l-6-1l-6-2l-4-2l-4-4l-4-6l-4-7l-5-16l-2-12v-10l-1-2l21-4z"/><path fill="#ff4f00" d="M1350 2746l20-2h22l22 2l26 4l-20 2v10l-3 10l-5 10l-8 10l-8 8l-10 6l-10 3l-10 1h-6l-6-2l-4-2l-4-4l-4-5l-4-7l-4-8l-2-8l-2-12v-10l-1-2l9-3l12-1z"/><path fill="#ff4a00" d="M1352 2746l20-2l20 1l22 1l25 4l-21 1v11l-3 10l-5 10l-8 9l-8 7l-10 6l-10 3l-8 1l-6-1l-6-1l-4-3l-4-3l-4-5l-4-8l-5-15l-2-10v-10l-1-2l8-2l14-2z"/><path fill="#ff4500" d="M1354 2746l20-2l20 1l20 1l23 4l-21 2v8l-2 10l-5 10l-7 8l-8 8l-9 6l-9 3l-10 1l-6-1l-6-2l-4-2l-4-4l-4-5l-4-8l-4-14l-2-10v-8l-1-2l9-3l14-1z"/><path fill="#ff4000" d="M1356 2746l18-1h20l20 2l22 3l-23 2l1 8l-3 10l-5 10l-6 8l-8 7l-8 5l-8 3l-10 1l-6-1l-6-2l-4-3l-4-4l-4-5l-3-7l-3-8l-2-8l-1-14l-1-2l10-3l14-1z"/><path fill="#ff3b00" d="M1358 2746l18-1h18l20 2l20 3l-23 2l1 8l-2 8l-5 10l-6 8l-7 6l-8 5l-8 3l-10 1l-8-1l-5-2l-5-4l-4-5l-4-8l-3-7l-2-12v-10l-2-2l11-3l14-1z"/><path fill="#ff3600" d="M1361 2746l17-1h18l18 2l19 3l-24 2v8l-1 8l-4 7l-6 9l-8 7l-7 5l-9 2l-8 1l-6-1l-6-2l-6-5l-4-5l-3-6l-3-8l-2-10v-10l-2-2l12-3l15-1z"/><path fill="#ff3000" d="M1364 2746l16-1l16 1l35 4l-24 2v8l-2 8l-4 8l-5 7l-6 5l-8 5l-8 3h-8l-6-1l-6-2l-4-3l-4-5l-4-7l-2-6l-2-10l-1-10l-2-2l13-3l16-1z"/><path fill="#ff2b00" d="M1368 2746h30l32 4l-26 2l1 8l-2 8l-4 8l-5 6l-6 5l-8 4l-8 2h-6l-6-1l-6-2l-4-3l-3-3l-3-6l-4-10l-1-8v-8l-3-2l14-3l18-1z"/><path fill="#ff2600" d="M1374 2746h26l28 4l-26 2v6l-1 8l-4 8l-4 6l-7 5l-6 3l-6 2l-8 1l-6-2l-4-1l-4-3l-4-4l-4-7l-2-7l-1-7v-8l-4-2l17-3l20-1z"/><path fill="#ff2100" d="M1349 2748l17-2h20l20 1l21 3l-28 2l1 6l-1 6l-3 6l-4 6l-6 6l-6 3l-6 2l-6 1l-8-2l-6-3l-4-4l-4-7l-3-10v-10l-5-2l11-2z"/><path fill="#ff1c00" d="M1350 2748l18-2h18l20 1l19 3l-29 2l1 6l-1 6l-3 6l-3 4l-4 4l-6 4l-6 2h-6l-6-1l-6-3l-4-3l-4-6l-3-9v-10l-6-2l11-2z"/><path fill="#ff1700" d="M1352 2748l16-2h18l20 1l18 3l-31 2l1 4l-1 6l-2 6l-3 4l-4 4l-4 2l-4 2l-6 1l-6-1l-6-2l-4-4l-3-4l-3-8l-1-10l-7-2l12-2z"/><path fill="#ff1200" d="M1354 2748l16-2h16l18 1l18 3l-33 2l1 4v4l-1 4l-3 4l-4 5l-4 2l-4 1l-4 1l-6-1l-7-4l-3-4l-2-4l-1-6v-6l-5-1l-4-1l12-2z"/><path fill="#ff0d00" d="M1356 2748l16-2l16 1l16 1l17 2l-36 2l1 4l-1 4l-2 6l-5 4l-4 1l-4 1l-6-2l-5-4l-3-6v-4v-4l-8-1l-5-1l13-2z"/><path fill="#ff0800" d="M1358 2748l14-1h16l31 3l-42 2l2 4l-1 4l-2 3l-4 1h-4l-4-4l-1-4l2-4l-13-1l-8-1l14-2z"/><path fill="#ff0300" d="M1360 2748l28-1l30 3l-28 1h-30h-8l-7-1l15-2z"/><path fill="#fc0000" d="M1362 2748l26-1l28 3l-28 1h-28l-13-1l15-2z"/><path fill="#f70000" d="M1365 2748l25-1l25 3l-29 1h-26l-12-1l17-2z"/><path fill="#f20000" d="M1368 2748l22-1l23 3l-27 1h-26l-11-1l19-2z"/><path fill="#ed0000" d="M1374 2748h18l19 2l-27 1l-24-1h-9l23-2z"/><path fill="#e80000" d="M1352 2750l14-2h14l29 2l-33 1l-24-1z"/><path fill="#e30000" d="M1354 2750l12-2h14l28 2l-32 1l-22-1z"/><path fill="#de0000" d="M1356 2750l24-2l26 2h-30h-20z"/><path fill="#d90000" d="M1357 2750l23-2l24 2h-26h-21z"/><path fill="#d40000" d="M1359 2750l21-2l22 2h-24h-19z"/><path fill="#cf0000" d="M1361 2750l19-1l19 1h-21h-17z"/><path fill="#c90000" d="M1364 2750l16-1l17 1h-33z"/><path fill="#c40000" d="M1367 2750h27h-27z"/><path fill="#bf0000" d="M1370 2750h20h-20z"/><path fill="#ba0000" d="M1376 2750h8h-8z"/></g></g>
<clipPath id="ca"><rect x="305.5" y="85.0" width="1409.3" height="713.4"/></clipPath>
<rect x="307.0" y="82.5" width="1404.3" height="5.0" fill="#222"/>
<rect x="307.0" y="797.2" width="1404.3" height="2.4" fill="#222"/>
<rect x="307.1" y="85.0" width="2.8" height="713.4" fill="#444"/>
<rect x="1708.4" y="85.0" width="2.8" height="713.4" fill="#555"/>
<g clip-path="url(#ca)"><path transform="scale(1 1.300)" d="M307.3 479.6L311.3 472.3L315.3 466L320.3 459.9L324.3 456L328.3 452.9L331.3 451.1L334.3 450.2L341.3 449.2L342.3 448.7L344.3 446.8L350.3 437.7L358.3 420.5L363.3 413.1L367.3 408.7L369.2 407.4L372.3 406L375.3 405.1L377.5 404.8L379.3 405.5L383.3 409.5L385.3 411L391.3 412.4L392.3 412.4L393.3 411.8L394.3 410.3L398.3 401.1L404.3 383.6L406.3 379L412.3 367.9L421.3 354L425.3 349L431.3 343.3L442.3 334.5L453.3 327L459.3 324L462.3 322.8L464.3 322.4L471.4 322.4L474.3 323.4L478.3 327.1L480.3 329.8L482.3 334.7L486.3 348L490.4 363.4L493.4 371.9L495.4 375.7L496.4 376.1L497.4 375.2L498.4 373.3L501.4 365.3L508.4 340.1L520.4 305.4L523.4 298.9L527.4 291.7L532.4 284.4L536.4 279.8L541.4 275.6L546.4 272.4L558.4 266.8L582.4 253.5L597.4 247.6L612.4 240.6L625.4 236.8L629.7 235.2L632.4 233.7L639.4 228.4L642.4 226.6L652.4 223.4L655.4 221.9L658.4 219.3L661.4 215.6L665.9 206.1L671.4 197.2L675.4 192.9L678.5 191L680.5 191L682.5 191.6L685.7 193.4L687.5 195.1L689.5 199.4L690.5 203.1L692.3 213.7L694 361.5L694.5 370.9L695.5 387.5L696.5 398.6L697.5 404.4L698 405.4L702.2 406.1L704.5 383L710.4 337.6L712.5 328.1L714.5 321.4L715.4 319.9L717.5 318L720.5 316.3L722 316.1L723.5 316.5L725.5 318.2L728.6 322.4L731.5 329.7L741.5 365.4L745.5 373.6L746.7 374.4L747.5 374L748.5 372.5L751.6 364.2L753.5 357.3L763.5 305.7L769.1 283.1L773.5 252.5L776 240L779.5 230.6L783.5 223.4L787.5 217.9L793.5 212.3L805.5 204.1L816.5 197.6L830.5 190.7L842.4 186.2L857.5 182L875.6 178.2L893.6 175.2L921.6 171.4L940.6 169.4L958.6 168.1L970.6 167.6L980.6 167.7L1003.6 169.3L1024.6 169.3L1027.6 168.7L1033.6 166.8L1042.6 163.1L1050.1 162.5L1051.6 162.9L1054.7 165.7L1057.7 169.4L1060.7 174.6L1061.6 175.7L1064.7 177.3L1066.7 177.7L1067.7 175.5L1069.9 163L1074.7 118.2L1075.7 112.4L1078.5 112.3L1079.7 118.3L1082.7 152.6L1084.7 183L1087.7 240.3L1093 384.6L1096.7 529.8L1098.7 576.2L1099.6 584.6L1100.7 566.4L1104.7 432.6L1108.7 338.3L1110.7 309.4L1116.7 249.1L1119.7 224.8L1122.7 205.7L1124.7 196L1127.7 184.9L1130.7 176.7L1133.7 171.4L1138.7 165.4L1145.7 159L1150.7 155.4L1155.7 152.2L1173.7 142.8L1183.7 138.8L1198.7 134.4L1213.7 131.1L1231.7 128.4L1254.8 125.5L1292.3 121.7L1344.8 116.8L1376.8 114.4L1421.8 111.8L1487.9 108.7L1528.9 107.4L1609.9 105.7L1712 104.5" fill="none" stroke="#0000ff" stroke-width="8.4" stroke-linejoin="round" stroke-linecap="butt"/></g>
<g clip-path="url(#ca)"><path transform="scale(1 1.350)" d="M307.3 243.6L311.3 237L313.2 235.1L316.3 233.2L318.3 232.4L320.3 232.2L326.3 233.7L329.3 233.7L332.3 232.1L336.3 229L341.3 223L344.3 220.9L348.3 219.3L357.7 219.2L359.3 218.2L361.3 214.9L365.3 205.9L370.9 188.7L374.3 180.4L377.3 174.4L381.3 168.9L387.3 162.9L392.3 158.8L397.3 156.3L406.3 153.8L419.3 151.7L425.3 151.6L431.3 152L432.3 152.2L433.3 153.1L435.3 157.2L437.3 163.7L442.4 208.2L443.3 208L444.3 207.1L447.3 202L449.3 193.7L456.3 158.1L460.3 145.7L461.5 143.5L464.3 140.9L467.3 138.9L472.3 136.5L478.3 134.4L493.3 130L513.3 125.4L531.3 122.2L561.3 118.8L577.3 117.9L598.3 117.9L623.3 121.1L629.7 121.5L632.3 121.3L639.3 119.5L642.9 119.1L645.3 119.6L651.3 122.1L653.3 122.2L656.3 121.2L659.3 119.1L660.3 117.6L663.3 110.2L664.3 109.3L669.3 109.3L670.3 109.7L672.3 112.2L674.3 116.5L675.3 119.4L676.3 124.4L679.3 150.2L681.3 181.9L683.3 230L684.3 265.4L687.7 414.8L689.3 507.3L689.9 521.5L692 414.8L695.3 319.3L703.3 139.3L705.3 121.6L706.3 116.8L707.1 115.4L708.3 118.3L710.4 132.5L712.7 161.8L714.3 175.4L714.7 176.5L715.3 174.8L721.3 125.5L722.3 121.8L724.3 117.2L727.3 112.8L731.3 110.2L735.3 108.7L747.3 105.1L755.3 103.1L766.3 101.5L779.3 100.3L797.3 100.3L828.3 99.6L884.3 101L905.3 101.9L942.3 104.5L975.3 107.2L1020.3 111.5L1041.3 112.8L1044.3 113.1L1047.3 114.1L1050.3 115.7L1053.4 117.9L1055.3 120.3L1059.3 126.9L1062.3 130L1063.3 130.7L1064.9 131.3L1066.3 130L1067.3 127.7L1070.3 118.7L1072.3 109.6L1073.2 108.1L1078.1 108.1L1079.3 112.6L1080.3 122.5L1082.4 156.9L1083.3 204.6L1086 444.4L1087.4 532L1088.2 557L1090.5 444.4L1094.4 296L1097.4 202.8L1099.4 160.2L1102.4 124.2L1105.4 105.8L1106.4 102.7L1108.4 98.7L1110.4 95.8L1113.4 93L1117.4 90.3L1121.4 88.5L1129.4 86.2L1135.4 85L1150.4 84.2L1176.4 83.7L1200.4 83.8L1316.4 85.9L1407.4 86.7L1499.4 87.1L1711.4 87.3" fill="none" stroke="#ff0000" stroke-width="7.8" stroke-linejoin="round" stroke-linecap="butt"/></g>
<g clip-path="url(#ca)"><path transform="scale(1 1.350)" d="M307.3 180.1L320.3 161.1L327.3 149.6L329.7 147.2L333.3 145L336.3 143.6L338.3 143.1L340.3 143.1L342.3 144L347.3 148.3L349.3 149.5L353.3 150.7L366.3 153.6L369.3 154.5L372.3 156.3L375.3 159.2L378.3 163L381.3 169L384.3 177.1L387.3 188.1L390.3 202.6L402.3 275.4L404.3 284.7L405.5 286.7L406.3 285.9L407.3 283.1L408.3 278.5L414.3 240L416.3 218.8L418.7 181.4L421.3 155.9L423.3 141.7L425.3 132.4L427.3 125.5L429.3 121.7L431.3 119.2L433.3 117.5L434.3 116.9L436.3 116.5L449.3 115.3L453.3 114.5L456.3 113.3L469.3 106.5L475.3 104.6L497.3 100.5L512.3 98.8L540.3 97.1L560.3 96.4L575.3 96.5L645.3 98.3L649.3 98.2L660.3 96.6L668.3 96L673.3 96L675.3 96.9L677.3 98.8L680.3 103.5L682.4 108.1L683.3 111.8L685.3 129.9L688.3 172.4L691.3 253L695.6 449.3L696.3 436.2L700.5 230.2L702.9 156.9L704.3 129L705.3 114.6L706.2 108.1L707.3 104.2L709.3 99.5L712.3 95.7L717.3 92L727.3 87.7L734.3 85.8L744.3 84.4L753.3 84.2L785.3 84.5L826.3 85.6L842.3 86.5L889.3 89.7L983.3 92.6L1011.3 94L1029.3 95.4L1043.3 97.1L1048.3 98.2L1053.3 99.9L1057.3 101.6L1062.3 107.3L1063.3 108.2L1064.9 108.8L1066.3 108.1L1067.3 106.9L1070.3 102.6L1073.3 97.1L1074.8 95.9L1075.3 96.1L1076.3 98L1077.3 101.7L1079.3 113.9L1081.4 132.5L1082.3 152.2L1084.4 245.3L1088.7 504.4L1089.4 484.8L1091 370.4L1093.4 254.7L1096.4 143.6L1097.4 126L1099.4 103.1L1100.2 98.3L1102.4 92.5L1104.4 89.1L1106.2 87.3L1110.4 85.1L1115.4 83.8L1127.4 82.8L1138.4 82.5L1242.4 83.2L1342.4 84.7L1711.4 85.4" fill="none" stroke="#ffc800" stroke-width="7.8" stroke-linejoin="round" stroke-linecap="butt"/></g>
<g clip-path="url(#ca)"><path transform="scale(1 1.550)" d="M307.3 156.9L315.3 139.1L321.3 127.4L324.3 122.4L326.4 119.7L330.3 116L333.3 113.9L337.3 111.8L342.3 110.1L354.3 106.8L357.7 106.5L361.3 106.8L375.3 110L381.3 112L384.3 113.5L388.3 116L393.3 120.2L396.3 123.6L399.3 127.7L403.3 135.6L408.3 148.6L412.3 163.2L414.3 174.6L417.3 198.4L419 217.5L420.7 243L422.3 259.8L424.3 274L425.3 276.1L426.3 271.2L427.3 259.8L429.3 232.4L433.3 160.6L436.3 129L439.3 114.9L440.3 111.8L441.8 109L444.3 106.3L447.3 104.5L448.4 104.4L450.3 104.7L453.3 106.3L456.3 108.5L458.3 110.9L462.3 116.6L465.3 121.7L469.3 130.7L473.4 142.9L477.4 157.9L481.4 177.1L484.4 194.5L490.4 235.2L494.4 256.6L496.4 264L499.4 271L502.4 276.2L503.4 277.2L504.8 277.7L506.4 277.1L507.4 276.1L509.4 273L513.3 264.3L514.4 261L523.4 220.7L529.4 185.4L531.4 176.9L534.4 166.7L540.4 149.6L544.4 140L549.4 130.1L554.4 122.6L560.4 115.5L566.4 109.9L573.4 104.9L582.4 100L592.4 95.6L603.4 92.1L613.4 89.9L633.4 87.3L656 85.2L661.5 83.4L665.5 82.4L669.5 81.6L672.5 81.4L677.5 82L683.5 84L686.5 86.4L688.5 89L689.5 90.9L690.5 94.2L692.5 105L694.5 119.9L695.5 130.9L697.5 162.5L700 228.7L700.5 224.3L704.2 136.7L706.5 108.7L708.1 98.4L710.5 92.7L712.5 90L713.5 89.5L714.5 89.8L715.5 91L717.5 95.6L720.5 116.8L724.5 155.7L725.5 163L726.3 165.2L727.5 159.7L731.5 129.1L734.5 98.4L735.2 94.2L736.5 89.1L737.5 86.2L739.5 82.2L742.5 78.8L744.5 77.2L746.5 76L748.4 75.4L751.5 74.9L761.5 73.9L777.5 73.1L833.6 72.9L865.6 73.4L972.6 76.2L1017.7 77.6L1040.7 78.9L1050.7 80.3L1057.7 81.6L1063.7 83.2L1066.6 83.5L1067.7 82.6L1070.7 76.3L1071.5 75.4L1074.7 74.2L1076.7 74L1077.7 74.5L1079.7 77.2L1080.8 79.3L1081.7 82.7L1084.7 104.8L1089.7 151.1L1091.7 164.4L1092.7 169.6L1093.6 171.8L1094.7 160.3L1097.7 100.8L1098.2 94.2L1099.7 83.7L1100.7 79.1L1101.7 76.9L1103.7 74.7L1105.7 73.2L1107.7 72.2L1109.5 71.8L1114.7 71.2L1120.7 70.8L1161.8 70.8L1194.8 71.1L1317.8 73.1L1372.9 73.5L1482.9 73.9L1713.1 73.9" fill="none" stroke="#00fa00" stroke-width="7.6" stroke-linejoin="round" stroke-linecap="butt"/></g>
<rect x="595.5" y="784.4" width="2.4" height="14.0" fill="#444"/>
<rect x="595.5" y="85.0" width="2.4" height="15.0" fill="#444"/>
<text transform="translate(595.7 908.5) scale(0.8850 1)" font-family='"Liberation Sans", sans-serif' font-size="82.5" text-anchor="middle" fill="#262626">700</text>
<rect x="923.0" y="784.4" width="2.4" height="14.0" fill="#444"/>
<rect x="923.0" y="85.0" width="2.4" height="15.0" fill="#444"/>
<text transform="translate(923.2 908.5) scale(0.8850 1)" font-family='"Liberation Sans", sans-serif' font-size="82.5" text-anchor="middle" fill="#262626">950</text>
<rect x="1248.4" y="784.4" width="2.4" height="14.0" fill="#444"/>
<rect x="1248.4" y="85.0" width="2.4" height="15.0" fill="#444"/>
<text transform="translate(1248.6 908.5) scale(0.8850 1)" font-family='"Liberation Sans", sans-serif' font-size="82.5" text-anchor="middle" fill="#262626">1200</text>
<rect x="1579.4" y="784.4" width="2.4" height="14.0" fill="#444"/>
<rect x="1579.4" y="85.0" width="2.4" height="15.0" fill="#444"/>
<text transform="translate(1579.6 908.5) scale(0.8850 1)" font-family='"Liberation Sans", sans-serif' font-size="82.5" text-anchor="middle" fill="#262626">1450</text>
<text transform="translate(287.5 115.7) scale(0.8650 1)" font-family='"Liberation Sans", sans-serif' font-size="84.5" text-anchor="end" fill="#262626">1</text>
<rect x="308.5" y="262.8" width="13.0" height="2.4" fill="#333"/>
<rect x="1696.8" y="262.8" width="13.0" height="2.4" fill="#333"/>
<text transform="translate(287.5 295.5) scale(0.8650 1)" font-family='"Liberation Sans", sans-serif' font-size="84.5" text-anchor="end" fill="#262626">0.8</text>
<rect x="308.5" y="442.6" width="13.0" height="2.4" fill="#333"/>
<rect x="1696.8" y="442.6" width="13.0" height="2.4" fill="#333"/>
<text transform="translate(287.5 475.3) scale(0.8650 1)" font-family='"Liberation Sans", sans-serif' font-size="84.5" text-anchor="end" fill="#262626">0.6</text>
<rect x="308.5" y="622.4" width="13.0" height="2.4" fill="#333"/>
<rect x="1696.8" y="622.4" width="13.0" height="2.4" fill="#333"/>
<text transform="translate(287.5 655.1) scale(0.8650 1)" font-family='"Liberation Sans", sans-serif' font-size="84.5" text-anchor="end" fill="#262626">0.4</text>
<text transform="translate(287.5 834.9) scale(0.8650 1)" font-family='"Liberation Sans", sans-serif' font-size="84.5" text-anchor="end" fill="#262626">0.2</text>
<text transform="translate(121.5 141.0) scale(0.9050 1)" font-family='"Liberation Serif", serif' font-size="95.5" text-anchor="start" fill="#111">(a)</text>
<text transform="translate(162.0 445.0) rotate(-90) scale(1.0380 1)" font-family='"Liberation Sans", sans-serif' font-size="86.5" text-anchor="middle" fill="#262626">Reflection</text>
<clipPath id="cxa"><rect x="600" y="930" width="800" height="94"/></clipPath>
<g clip-path="url(#cxa)"><text transform="translate(1009.5 1019.0) scale(0.9250 1)" font-family='"Liberation Sans", sans-serif' font-size="84.0" text-anchor="middle" fill="#262626">Wavelength (nm)</text></g>
<rect x="1334.0" y="249.1" width="87.5" height="9.0" fill="#0000ff"/>
<text transform="translate(1427.0 281.1) scale(0.8650 1)" font-family='"Liberation Sans", sans-serif' font-size="74.0" text-anchor="start" fill="#000">a=20nm</text>
<rect x="1334.0" y="342.1" width="87.5" height="9.0" fill="#ff0000"/>
<text transform="translate(1427.0 374.1) scale(0.8650 1)" font-family='"Liberation Sans", sans-serif' font-size="74.0" text-anchor="start" fill="#000">a=40nm</text>
<rect x="1334.0" y="435.1" width="87.5" height="9.0" fill="#ffc800"/>
<text transform="translate(1427.0 467.1) scale(0.8650 1)" font-family='"Liberation Sans", sans-serif' font-size="74.0" text-anchor="start" fill="#000">a=60nm</text>
<rect x="1334.0" y="528.1" width="87.5" height="9.0" fill="#00fa00"/>
<text transform="translate(1427.0 560.1) scale(0.8650 1)" font-family='"Liberation Sans", sans-serif' font-size="74.0" text-anchor="start" fill="#000">a=80nm</text>
<clipPath id="cb"><rect x="307.0" y="1097.2" width="1403.3" height="652.8"/></clipPath>
<rect x="307.5" y="1096.0" width="1403.5" height="2.4" fill="#222"/>
<rect x="307.5" y="1742.8" width="1403.5" height="2.4" fill="#222"/>
<rect x="307.9" y="1097.2" width="4.2" height="646.8" fill="#505050"/>
<rect x="1708.6" y="1097.2" width="2.4" height="646.8" fill="#555"/>
<rect x="475.5" y="1732.0" width="2.4" height="12.0" fill="#444"/>
<rect x="475.5" y="1097.2" width="2.4" height="12.5" fill="#666"/>
<text transform="translate(476.2 1840.5) scale(0.9650 1)" font-family='"Liberation Sans", sans-serif' font-size="73.5" text-anchor="middle" fill="#262626">550</text>
<rect x="800.3" y="1732.0" width="2.4" height="12.0" fill="#444"/>
<rect x="800.3" y="1097.2" width="2.4" height="12.5" fill="#666"/>
<text transform="translate(801.0 1840.5) scale(0.9650 1)" font-family='"Liberation Sans", sans-serif' font-size="73.5" text-anchor="middle" fill="#262626">800</text>
<rect x="1125.0" y="1732.0" width="2.4" height="12.0" fill="#444"/>
<rect x="1125.0" y="1097.2" width="2.4" height="12.5" fill="#666"/>
<text transform="translate(1125.7 1840.5) scale(0.9650 1)" font-family='"Liberation Sans", sans-serif' font-size="73.5" text-anchor="middle" fill="#262626">1050</text>
<rect x="1449.4" y="1732.0" width="2.4" height="12.0" fill="#444"/>
<rect x="1449.4" y="1097.2" width="2.4" height="12.5" fill="#666"/>
<text transform="translate(1450.1 1840.5) scale(0.9650 1)" font-family='"Liberation Sans", sans-serif' font-size="73.5" text-anchor="middle" fill="#262626">1300</text>
<text transform="translate(1709.3 1840.5) scale(0.9650 1)" font-family='"Liberation Sans", sans-serif' font-size="73.5" text-anchor="middle" fill="#262626">1500</text>
<text transform="translate(289.0 1124.7) scale(1.0400 1)" font-family='"Liberation Sans", sans-serif' font-size="70.5" text-anchor="end" fill="#262626">0.8</text>
<rect x="310.0" y="1257.1" width="14.0" height="2.4" fill="#333"/>
<rect x="1696.8" y="1257.1" width="13.0" height="2.4" fill="#333"/>
<text transform="translate(289.0 1285.8) scale(1.0400 1)" font-family='"Liberation Sans", sans-serif' font-size="70.5" text-anchor="end" fill="#262626">0.6</text>
<rect x="310.0" y="1419.8" width="14.0" height="2.4" fill="#333"/>
<rect x="1696.8" y="1419.8" width="13.0" height="2.4" fill="#333"/>
<text transform="translate(289.0 1448.5) scale(1.0400 1)" font-family='"Liberation Sans", sans-serif' font-size="70.5" text-anchor="end" fill="#262626">0.4</text>
<rect x="310.0" y="1581.0" width="14.0" height="2.4" fill="#333"/>
<rect x="1696.8" y="1581.0" width="13.0" height="2.4" fill="#333"/>
<text transform="translate(289.0 1609.7) scale(1.0400 1)" font-family='"Liberation Sans", sans-serif' font-size="70.5" text-anchor="end" fill="#262626">0.2</text>
<text transform="translate(289.0 1771.5) scale(1.0400 1)" font-family='"Liberation Sans", sans-serif' font-size="70.5" text-anchor="end" fill="#262626">0</text>
<g clip-path="url(#cb)"><path d="M308.2 1273L320.2 1288.4L334.2 1309.3L355.2 1335.6L362.2 1343.9L384.2 1368.5L401.2 1388.5L403.2 1391.4L409.2 1402.9L413.2 1408L416.2 1411.1L419.2 1413.2L429.2 1416.6L432.2 1418L435.2 1420.6L438.2 1424.1L441.3 1428.8L453.3 1451.2L460.3 1462.8L461.5 1464L464.3 1465.3L468.3 1466.3L470.3 1465.7L476.3 1462L478 1461.6L480.3 1462.1L483.3 1463.8L491.3 1470L501.1 1480.4L514.3 1498.5L525.3 1510.7L530.3 1517.2L543.3 1537.9L554.3 1557.8L560.3 1565.4L562.1 1566.2L564.3 1565.7L567.3 1564L569.3 1562.1L571.3 1556.5L577.3 1534.6L578.3 1532.1L581.3 1528.2L583.3 1526.5L585.2 1525.9L587.3 1526.5L597.3 1535L628.3 1566.5L645.3 1579.7L667.3 1599.4L671.3 1602L681.3 1606.7L687.3 1610.2L708.8 1624.5L731.3 1637.5L739.3 1643.9L743.3 1648.8L745.3 1652.3L746.3 1655.2L755.3 1691.6L760 1713L763.3 1724.5L764.3 1726.5L765 1727L766.3 1726.4L767.3 1725.2L769.3 1721.1L771.3 1703.6L776.3 1646.2L779.3 1630.8L780.4 1629L783.3 1629.6L786.5 1631L789.3 1633.8L794.3 1641.4L796.3 1643.5L802.3 1646.8L805 1647.3L807.3 1646.8L810.3 1644.7L814.3 1640.1L816.3 1634.8L820.3 1620.9L825.3 1610.2L827 1608L829.3 1606L831.3 1604.6L833.5 1604L836.3 1605.1L842.3 1610L849.3 1617.5L860.3 1630.8L868.3 1638.3L875.3 1644L885.3 1650.4L918.3 1667.1L931.3 1671.5L970.8 1681.5L1001.3 1690.7L1022.3 1696.3L1047.3 1701.9L1071.3 1706.6L1088.3 1709.3L1096 1711.2L1121.3 1721.9L1124.7 1722.7L1136.3 1724L1140.8 1725.2L1142.3 1726.6L1149.3 1738.3L1151.3 1740L1153.3 1741.2L1155.3 1741.9L1162 1742L1163.3 1741.6L1165.3 1739.3L1166.3 1736.6L1167.3 1722.2L1171.3 1606.1L1173.3 1577.9L1174.3 1569.3L1174.8 1568L1175.3 1568.7L1176.3 1573.3L1180.4 1594L1185.9 1631L1190.3 1647.7L1195.3 1660.5L1207.3 1682.7L1209.9 1686.5L1214.3 1691.3L1220.3 1696.5L1228.3 1701.7L1236.3 1705.7L1244.3 1708.6L1255.3 1711.7L1275.3 1716.5L1291.3 1719.7L1307.3 1722.5L1364.8 1731L1388.3 1733.4L1424.3 1736.5L1461.3 1738.5L1516.3 1740L1601.3 1741.2L1710.3 1742.2" fill="none" stroke="#0000ff" stroke-width="9.2" stroke-linejoin="round" stroke-linecap="butt"/></g>
<g clip-path="url(#cb)"><path d="M308.2 1548L316.5 1562.9L326.4 1579.3L333.2 1592L337.2 1597.9L340.2 1601.5L343.2 1603.9L354.2 1610.5L360.2 1615L363.2 1617.9L372.5 1628.8L392.3 1645.3L398.2 1651.4L400.2 1652.9L402.2 1653.5L412.2 1653.5L420.3 1651.9L422.2 1652.4L424.2 1653.8L428.6 1658.5L430.2 1661L440.3 1683.8L442.3 1687.2L446.3 1691.7L448.3 1693L451.3 1694.2L465.3 1697.5L484.3 1704.1L496.3 1708.9L506.3 1713.9L513.3 1716.7L514.3 1716.8L515.3 1716.4L518.3 1711.5L520.3 1706.8L523.3 1696.4L524.2 1694.7L527.3 1692.5L529.3 1692.1L531.3 1692.8L536.3 1696.8L544 1704.6L548.3 1707.4L553.3 1710L563.3 1713.4L601.3 1723.8L618.3 1726.8L666.3 1733L691.3 1735.6L726.3 1738L744.3 1740.1L756.3 1741L757.3 1740.2L758.3 1738.5L759.5 1735L760.3 1725.1L764.3 1600.6L764.9 1592.5L766.3 1625.4L769.3 1725.1L770 1735L771.3 1738.8L772.3 1740.8L773.3 1741.8L774.3 1742L775.3 1741.7L777.3 1740.1L780.3 1736.7L785 1729L789.3 1725.2L791.5 1724.5L795.3 1725.6L799.3 1727.7L804.3 1731.1L807.3 1732.5L812.3 1734.2L819.3 1736L829.3 1737.9L843.3 1739.9L871.3 1741.9L917.3 1743.4L985.3 1744.5L1113.3 1744.5L1140 1744L1144.3 1743.4L1148.3 1741.9L1151.3 1739.8L1153.5 1735L1154.3 1728.1L1156.3 1686.5L1159.3 1565.7L1160.2 1546.5L1161.3 1573.3L1164.3 1692.6L1166.3 1728.1L1167 1733L1169.3 1737.7L1171.3 1739.6L1174.3 1740.9L1182.3 1742.7L1196.3 1743.9L1254.3 1744.6L1486.3 1745.5L1599.3 1745.1L1710.3 1744.2" fill="none" stroke="#ff0000" stroke-width="7.6" stroke-linejoin="round" stroke-linecap="butt"/></g>
<g clip-path="url(#cb)"><path d="M308.2 1677.6L312.2 1679.9L317.2 1683.9L320.2 1687.1L333.2 1703.3L338.2 1708.1L341.2 1710.2L342.9 1710.5L360.2 1710.6L364.2 1711.1L405.2 1723.5L416.2 1726.3L421.2 1727L424.2 1726.4L429.2 1722.8L431.9 1721.8L449.3 1721L472.3 1718.7L477.3 1718.6L480.3 1720.3L484.3 1724.3L487.9 1731L491.2 1740.9L494.3 1744.2L497.3 1745.8L526.3 1746.5L729.3 1746.5L741.3 1746.2L751.3 1745.4L758.3 1744.5L761.3 1743L763.3 1740.4L764.3 1734.7L765.3 1725L766.3 1707.8L768.3 1650.6L769.3 1631.5L769.8 1627.5L770.3 1630.7L771.3 1650L772.6 1690L774.3 1724.7L776.3 1739.1L777.3 1741.3L779.3 1743.1L781.3 1744.2L791.3 1744.9L810.3 1745L1111.3 1744L1146.3 1743.4L1149.3 1742.6L1152.3 1740.6L1153.3 1737.2L1154.3 1730.9L1155.3 1721.5L1157 1680L1159.3 1590.3L1160.2 1571L1161.3 1597.4L1163.4 1680L1165.3 1724L1167.3 1737.8L1168.3 1740.8L1170.3 1742.3L1173.3 1743.6L1176 1744L1214.3 1744L1461.3 1742.9L1710.3 1740.9" fill="none" stroke="#ffc800" stroke-width="7.2" stroke-linejoin="round" stroke-linecap="butt"/></g>
<g clip-path="url(#cb)"><path d="M308.2 1722.7L319.2 1725.9L329.2 1729.5L334.2 1731.6L344.2 1737.1L354.2 1738.6L364.2 1739.2L401.2 1739.2L434.2 1740.2L463.3 1738.3L484.6 1737.6L497.8 1735.9L499.3 1736.4L504.3 1740.8L508.3 1742.9L511.3 1744L514.3 1744.1L518.3 1743.3L536.3 1738L543.3 1735.1L549.3 1731.8L554.3 1728L559.3 1722.9L565.3 1715.9L572.3 1706.1L576.3 1702.1L578.3 1700.5L580.2 1699.7L586.8 1699L590.3 1699.8L596.3 1703.1L604.3 1710.5L612.3 1718.7L621.3 1725.1L631.3 1729.4L648.3 1734.4L655.3 1735.6L667.3 1736.8L695.3 1738.3L715.3 1738.6L752.3 1738L756.3 1737.1L760.3 1735.1L763.3 1731.3L765.3 1726.8L767.5 1718L772.3 1685.2L773.3 1679.2L774.2 1677L775.3 1680.5L776.3 1687.8L780 1720L782.3 1733.5L783.3 1737.4L785.3 1741.8L787.3 1744.5L790.3 1745.9L793.3 1746.5L796.3 1746L805 1741L814.3 1740L919.3 1740L1082.3 1739.1L1121.3 1738.7L1141.3 1737.9L1144.3 1737L1148.3 1734.8L1151.3 1729.7L1153.3 1723.9L1159.3 1698.5L1160.3 1697L1161.3 1698.5L1162.3 1702.2L1167.3 1728.7L1170.3 1740.3L1171.3 1742.7L1173.3 1745.3L1174.3 1746.3L1176 1747L1189.3 1743.1L1208.3 1742.3L1710.3 1737.9" fill="none" stroke="#00fa00" stroke-width="7.2" stroke-linejoin="round" stroke-linecap="butt"/></g>
<text transform="translate(78.6 1154.8) scale(0.9150 1)" font-family='"Liberation Serif", serif' font-size="97.0" text-anchor="start" fill="#111">(b)</text>
<text transform="translate(162.0 1422.5) rotate(-90) scale(0.9450 1)" font-family='"Liberation Sans", sans-serif' font-size="82.5" text-anchor="middle" fill="#262626">Transmission</text>
<text transform="translate(1009.5 1939.5) scale(0.9850 1)" font-family='"Liberation Sans", sans-serif' font-size="79.0" text-anchor="middle" fill="#262626">Wavelength (nm)</text>
<rect x="1347.5" y="1160.1" width="89.5" height="7.0" fill="#0000ff"/>
<text transform="translate(1441.0 1188.6) scale(1.0400 1)" font-family='"Liberation Sans", sans-serif' font-size="62.0" text-anchor="start" fill="#000">a=20nm</text>
<rect x="1347.5" y="1240.9" width="89.5" height="7.0" fill="#ff0000"/>
<text transform="translate(1441.0 1269.4) scale(1.0400 1)" font-family='"Liberation Sans", sans-serif' font-size="62.0" text-anchor="start" fill="#000">a=40nm</text>
<rect x="1347.5" y="1321.7" width="89.5" height="7.0" fill="#ffc800"/>
<text transform="translate(1441.0 1350.2) scale(1.0400 1)" font-family='"Liberation Sans", sans-serif' font-size="62.0" text-anchor="start" fill="#000">a=60nm</text>
<rect x="1347.5" y="1402.5" width="89.5" height="7.0" fill="#00fa00"/>
<text transform="translate(1441.0 1431.0) scale(1.0400 1)" font-family='"Liberation Sans", sans-serif' font-size="62.0" text-anchor="start" fill="#000">a=80nm</text>
<linearGradient id="jet" x1="0" y1="0" x2="0" y2="1"><stop offset="0" stop-color="#800000"/><stop offset="0.125" stop-color="#ff0000"/><stop offset="0.375" stop-color="#ffff00"/><stop offset="0.625" stop-color="#00ffff"/><stop offset="0.875" stop-color="#0000ff"/><stop offset="1" stop-color="#000080"/></linearGradient>
<rect x="107.0" y="2410.8" width="667.5" height="1.5" fill="rgba(0,0,40,0.8)"/>
<rect x="107.0" y="2713.6" width="667.5" height="1.5" fill="rgba(0,0,40,0.8)"/>
<rect x="107.0" y="2749.2" width="667.5" height="1.5" fill="rgba(0,0,40,0.8)"/>
<rect x="457.2" y="2411.5" width="1.5" height="338.5" fill="rgba(0,0,40,0.85)"/>
<rect x="420.0" y="2443.8" width="35.0" height="1.5" fill="rgba(0,0,60,0.45)"/>
<rect x="101.0" y="2118.5" width="674.5" height="2.0" fill="#1a1a50"/>
<rect x="101.0" y="3072.5" width="677.5" height="2.0" fill="#50506a"/>
<rect x="773.2" y="2119.5" width="1.6" height="954.0" fill="#10104a"/>
<text transform="translate(132.5 2224) scale(1.09 1)" font-family='"Liberation Serif", serif' font-size="82" fill="#ffffff" stroke="#ffffff" stroke-width="0.5">(c)</text>
<rect x="819.6" y="2118.8" width="39.0" height="933.6" fill="url(#jet)"/><rect x="818.9" y="2118.8" width="1.4" height="933.6" fill="rgba(30,30,40,0.75)"/><rect x="857.9" y="2118.8" width="1.4" height="933.6" fill="rgba(30,30,40,0.75)"/><rect x="819.6" y="2118.1" width="39.0" height="1.4" fill="rgba(40,20,20,0.6)"/><text transform="translate(879.0 3071.7) scale(1.100 1)" font-family='"DejaVu Sans", "Liberation Sans", sans-serif' font-size="50.0" text-anchor="start" fill="#111">0</text><rect x="819.6" y="2958.2" width="5.0" height="1.6" fill="rgba(20,20,20,0.7)"/><rect x="853.6" y="2958.2" width="5.0" height="1.6" fill="rgba(20,20,20,0.7)"/><text transform="translate(879.0 2978.3) scale(1.100 1)" font-family='"DejaVu Sans", "Liberation Sans", sans-serif' font-size="50.0" text-anchor="start" fill="#111">1</text><rect x="819.6" y="2864.9" width="5.0" height="1.6" fill="rgba(20,20,20,0.7)"/><rect x="853.6" y="2864.9" width="5.0" height="1.6" fill="rgba(20,20,20,0.7)"/><text transform="translate(879.0 2884.9) scale(1.100 1)" font-family='"DejaVu Sans", "Liberation Sans", sans-serif' font-size="50.0" text-anchor="start" fill="#111">2</text><rect x="819.6" y="2771.5" width="5.0" height="1.6" fill="rgba(20,20,20,0.7)"/><rect x="853.6" y="2771.5" width="5.0" height="1.6" fill="rgba(20,20,20,0.7)"/><text transform="translate(879.0 2791.6) scale(1.100 1)" font-family='"DejaVu Sans", "Liberation Sans", sans-serif' font-size="50.0" text-anchor="start" fill="#111">3</text><rect x="819.6" y="2678.2" width="5.0" height="1.6" fill="rgba(20,20,20,0.7)"/><rect x="853.6" y="2678.2" width="5.0" height="1.6" fill="rgba(20,20,20,0.7)"/><text transform="translate(879.0 2698.2) scale(1.100 1)" font-family='"DejaVu Sans", "Liberation Sans", sans-serif' font-size="50.0" text-anchor="start" fill="#111">4</text><rect x="819.6" y="2584.8" width="5.0" height="1.6" fill="rgba(20,20,20,0.7)"/><rect x="853.6" y="2584.8" width="5.0" height="1.6" fill="rgba(20,20,20,0.7)"/><text transform="translate(879.0 2604.8) scale(1.100 1)" font-family='"DejaVu Sans", "Liberation Sans", sans-serif' font-size="50.0" text-anchor="start" fill="#111">5</text><rect x="819.6" y="2491.4" width="5.0" height="1.6" fill="rgba(20,20,20,0.7)"/><rect x="853.6" y="2491.4" width="5.0" height="1.6" fill="rgba(20,20,20,0.7)"/><text transform="translate(879.0 2511.5) scale(1.100 1)" font-family='"DejaVu Sans", "Liberation Sans", sans-serif' font-size="50.0" text-anchor="start" fill="#111">6</text><rect x="819.6" y="2398.1" width="5.0" height="1.6" fill="rgba(20,20,20,0.7)"/><rect x="853.6" y="2398.1" width="5.0" height="1.6" fill="rgba(20,20,20,0.7)"/><text transform="translate(879.0 2418.1) scale(1.100 1)" font-family='"DejaVu Sans", "Liberation Sans", sans-serif' font-size="50.0" text-anchor="start" fill="#111">7</text><rect x="819.6" y="2304.7" width="5.0" height="1.6" fill="rgba(20,20,20,0.7)"/><rect x="853.6" y="2304.7" width="5.0" height="1.6" fill="rgba(20,20,20,0.7)"/><text transform="translate(879.0 2324.8) scale(1.100 1)" font-family='"DejaVu Sans", "Liberation Sans", sans-serif' font-size="50.0" text-anchor="start" fill="#111">8</text><rect x="819.6" y="2211.4" width="5.0" height="1.6" fill="rgba(20,20,20,0.7)"/><rect x="853.6" y="2211.4" width="5.0" height="1.6" fill="rgba(20,20,20,0.7)"/><text transform="translate(879.0 2231.4) scale(1.100 1)" font-family='"DejaVu Sans", "Liberation Sans", sans-serif' font-size="50.0" text-anchor="start" fill="#111">9</text><text transform="translate(879.0 2138.1) scale(1.100 1)" font-family='"DejaVu Sans", "Liberation Sans", sans-serif' font-size="50.0" text-anchor="start" fill="#111">10</text>
<rect x="975.5" y="2375.6" width="592.0" height="2.0" fill="#10506a"/>
<rect x="975.5" y="2680.4" width="592.0" height="2.0" fill="#0a2a2a"/>
<rect x="975.5" y="2748.6" width="592.0" height="2.0" fill="#403a10"/>
<rect x="1255.3" y="2376.6" width="1.3" height="304.8" fill="rgba(0,90,110,0.75)"/>
<rect x="1286.6" y="2376.6" width="1.3" height="304.8" fill="rgba(0,90,110,0.75)"/>
<rect x="1256.0" y="2443.8" width="31.3" height="1.5" fill="rgba(0,70,90,0.8)"/>
<rect x="972.5" y="2118.4" width="598.0" height="2.2" fill="#5a5040"/>
<rect x="972.5" y="3072.4" width="598.0" height="2.2" fill="#70706a"/>
<rect x="974.3" y="2119.5" width="2.4" height="954.0" fill="rgba(90,110,110,0.8)"/>
<rect x="1566.3" y="2119.5" width="2.4" height="954.0" fill="rgba(90,110,110,0.8)"/>
<text transform="translate(1001 2226) scale(1.1 1)" font-family='"Liberation Serif", serif' font-size="80" fill="#101018">(d)</text>
<rect x="1617.0" y="2124.7" width="38.4" height="927.7" fill="url(#jet)"/><rect x="1616.3" y="2124.7" width="1.4" height="927.7" fill="rgba(30,30,40,0.75)"/><rect x="1654.7" y="2124.7" width="1.4" height="927.7" fill="rgba(30,30,40,0.75)"/><rect x="1617.0" y="2124.0" width="38.4" height="1.4" fill="rgba(40,20,20,0.6)"/><text transform="translate(1676.0 3071.7) scale(1.100 1)" font-family='"DejaVu Sans", "Liberation Sans", sans-serif' font-size="50.0" text-anchor="start" fill="#111">0</text><rect x="1617.0" y="2958.8" width="5.0" height="1.6" fill="rgba(20,20,20,0.7)"/><rect x="1650.4" y="2958.8" width="5.0" height="1.6" fill="rgba(20,20,20,0.7)"/><text transform="translate(1676.0 2978.9) scale(1.100 1)" font-family='"DejaVu Sans", "Liberation Sans", sans-serif' font-size="50.0" text-anchor="start" fill="#111">1</text><rect x="1617.0" y="2866.1" width="5.0" height="1.6" fill="rgba(20,20,20,0.7)"/><rect x="1650.4" y="2866.1" width="5.0" height="1.6" fill="rgba(20,20,20,0.7)"/><text transform="translate(1676.0 2886.1) scale(1.100 1)" font-family='"DejaVu Sans", "Liberation Sans", sans-serif' font-size="50.0" text-anchor="start" fill="#111">2</text><rect x="1617.0" y="2773.3" width="5.0" height="1.6" fill="rgba(20,20,20,0.7)"/><rect x="1650.4" y="2773.3" width="5.0" height="1.6" fill="rgba(20,20,20,0.7)"/><text transform="translate(1676.0 2793.3) scale(1.100 1)" font-family='"DejaVu Sans", "Liberation Sans", sans-serif' font-size="50.0" text-anchor="start" fill="#111">3</text><rect x="1617.0" y="2680.5" width="5.0" height="1.6" fill="rgba(20,20,20,0.7)"/><rect x="1650.4" y="2680.5" width="5.0" height="1.6" fill="rgba(20,20,20,0.7)"/><text transform="translate(1676.0 2700.6) scale(1.100 1)" font-family='"DejaVu Sans", "Liberation Sans", sans-serif' font-size="50.0" text-anchor="start" fill="#111">4</text><rect x="1617.0" y="2587.7" width="5.0" height="1.6" fill="rgba(20,20,20,0.7)"/><rect x="1650.4" y="2587.7" width="5.0" height="1.6" fill="rgba(20,20,20,0.7)"/><text transform="translate(1676.0 2607.8) scale(1.100 1)" font-family='"DejaVu Sans", "Liberation Sans", sans-serif' font-size="50.0" text-anchor="start" fill="#111">5</text><rect x="1617.0" y="2495.0" width="5.0" height="1.6" fill="rgba(20,20,20,0.7)"/><rect x="1650.4" y="2495.0" width="5.0" height="1.6" fill="rgba(20,20,20,0.7)"/><text transform="translate(1676.0 2515.0) scale(1.100 1)" font-family='"DejaVu Sans", "Liberation Sans", sans-serif' font-size="50.0" text-anchor="start" fill="#111">6</text><rect x="1617.0" y="2402.2" width="5.0" height="1.6" fill="rgba(20,20,20,0.7)"/><rect x="1650.4" y="2402.2" width="5.0" height="1.6" fill="rgba(20,20,20,0.7)"/><text transform="translate(1676.0 2422.3) scale(1.100 1)" font-family='"DejaVu Sans", "Liberation Sans", sans-serif' font-size="50.0" text-anchor="start" fill="#111">7</text><rect x="1617.0" y="2309.4" width="5.0" height="1.6" fill="rgba(20,20,20,0.7)"/><rect x="1650.4" y="2309.4" width="5.0" height="1.6" fill="rgba(20,20,20,0.7)"/><text transform="translate(1676.0 2329.5) scale(1.100 1)" font-family='"DejaVu Sans", "Liberation Sans", sans-serif' font-size="50.0" text-anchor="start" fill="#111">8</text><rect x="1617.0" y="2216.7" width="5.0" height="1.6" fill="rgba(20,20,20,0.7)"/><rect x="1650.4" y="2216.7" width="5.0" height="1.6" fill="rgba(20,20,20,0.7)"/><text transform="translate(1676.0 2236.7) scale(1.100 1)" font-family='"DejaVu Sans", "Liberation Sans", sans-serif' font-size="50.0" text-anchor="start" fill="#111">9</text><text transform="translate(1676.0 2143.9) scale(1.100 1)" font-family='"DejaVu Sans", "Liberation Sans", sans-serif' font-size="50.0" text-anchor="start" fill="#111">10</text>
</svg>
</body></html>
